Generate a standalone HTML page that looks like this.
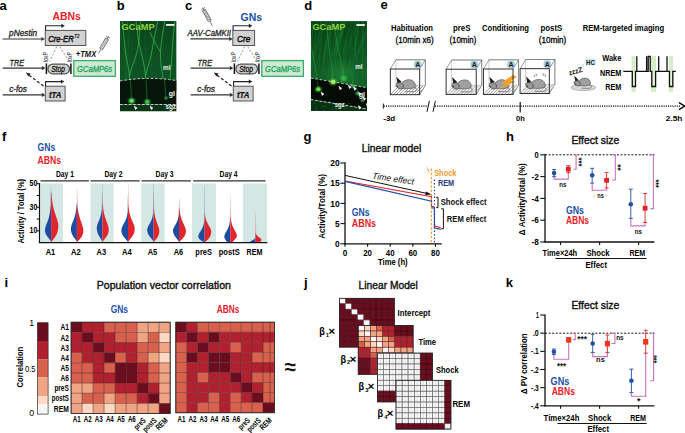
<!DOCTYPE html>
<html><head><meta charset="utf-8"><style>
html,body{margin:0;padding:0;background:#fff;width:685px;height:433px;overflow:hidden}
svg{display:block}
text{font-family:"Liberation Sans", sans-serif}
</style></head><body>
<svg width="685" height="433" viewBox="0 0 685 433">
<rect width="685" height="433" fill="#fff"/>
<text x="-0.60" y="9.70" font-size="13" font-weight="bold" fill="#000">a</text>
<text x="116.80" y="9.70" font-size="13" font-weight="bold" fill="#000">b</text>
<text x="185.00" y="9.70" font-size="13" font-weight="bold" fill="#000">c</text>
<text x="304.20" y="9.70" font-size="13" font-weight="bold" fill="#000">d</text>
<text x="380.40" y="9.00" font-size="13" font-weight="bold" fill="#000">e</text>
<text x="2.00" y="140.80" font-size="13" font-weight="bold" fill="#000">f</text>
<text x="303.60" y="140.60" font-size="13" font-weight="bold" fill="#000">g</text>
<text x="506.00" y="140.60" font-size="13" font-weight="bold" fill="#000">h</text>
<text x="4.60" y="286.80" font-size="13" font-weight="bold" fill="#000">i</text>
<text x="304.00" y="286.60" font-size="13" font-weight="bold" fill="#000">j</text>
<text x="505.80" y="287.00" font-size="13" font-weight="bold" fill="#000">k</text>
<rect x="45.30" y="30.40" width="40.50" height="15.10" fill="#d2d2d2" stroke="#555" stroke-width="1"/>
<path d="M45.599999999999994,30.4 V25.8 H61.8" fill="none" stroke="#222" stroke-width="1.1"/>
<path d="M61.3,23.7 L64.8,25.8 L61.3,27.900000000000002 Z" fill="#222" stroke="none" stroke-width="1"/>
<line x1="2.60" y1="68.10" x2="42.40" y2="68.10" stroke="#333" stroke-width="1.1"/>
<path d="M41.9,66.0 L45.4,68.1 L41.9,70.19999999999999 Z" fill="#333" stroke="none" stroke-width="1"/>
<line x1="46.40" y1="63.40" x2="46.40" y2="74.00" stroke="#111" stroke-width="1.5"/>
<line x1="70.90" y1="63.40" x2="70.90" y2="74.00" stroke="#111" stroke-width="1.5"/>
<rect x="47.90" y="64.10" width="21.60" height="9.70" fill="#d0d0d0" stroke="#555" stroke-width="1.3" rx="4.8"/>
<text x="58.00" y="71.60" font-size="8.4" font-weight="normal" font-style="italic" fill="#111" text-anchor="middle" textLength="13.70" lengthAdjust="spacingAndGlyphs" stroke="#111" stroke-width="0.3">Stop</text>
<rect x="73.80" y="60.60" width="41.60" height="15.70" fill="#cce9d4" stroke="#3aae66" stroke-width="1.3"/>
<text x="77.10" y="72.20" font-size="9.3" font-weight="normal" font-style="italic" fill="#26a456" textLength="35.00" lengthAdjust="spacingAndGlyphs" stroke="#26a456" stroke-width="0.35">GCaMP6s</text>
<line x1="2.60" y1="94.90" x2="42.40" y2="94.90" stroke="#333" stroke-width="1.1"/>
<path d="M41.9,92.80000000000001 L45.4,94.9 L41.9,97.0 Z" fill="#333" stroke="none" stroke-width="1"/>
<rect x="45.30" y="86.20" width="19.80" height="14.80" fill="#d2d2d2" stroke="#555" stroke-width="1"/>
<path d="M45.6,86.2 V81.6 H61.3" fill="none" stroke="#222" stroke-width="1.1"/>
<path d="M60.8,79.5 L64.3,81.6 L60.8,83.69999999999999 Z" fill="#222" stroke="none" stroke-width="1"/>
<text x="55.20" y="97.60" font-size="8.4" font-weight="bold" font-style="italic" fill="#111" text-anchor="middle" textLength="12.50" lengthAdjust="spacingAndGlyphs" stroke="#111" stroke-width="0.2">tTA</text>
<line x1="43.50" y1="86.00" x2="29.00" y2="75.20" stroke="#222" stroke-width="1.3" stroke-dasharray="3 2"/>
<path d="M25.8,72.6 L30.6,73.4 L28.4,76.5 Z" fill="#222" stroke="none" stroke-width="1"/>
<text x="9.60" y="66.30" font-size="8.8" font-weight="normal" font-style="italic" fill="#222" textLength="14.60" lengthAdjust="spacingAndGlyphs" stroke="#222" stroke-width="0.3">TRE</text>
<text x="9.20" y="92.30" font-size="8.8" font-weight="normal" font-style="italic" fill="#222" textLength="17.80" lengthAdjust="spacingAndGlyphs" stroke="#222" stroke-width="0.3">c-fos</text>
<text x="48.20" y="62.20" font-size="6.3" font-weight="normal" font-style="italic" fill="#222" textLength="10.20" lengthAdjust="spacingAndGlyphs" transform="rotate(-90 48.20 62.20)">loxP</text>
<text x="71.80" y="62.20" font-size="6.3" font-weight="normal" font-style="italic" fill="#222" textLength="10.20" lengthAdjust="spacingAndGlyphs" transform="rotate(-90 71.80 62.20)">loxP</text>
<line x1="56.70" y1="46.50" x2="49.60" y2="61.50" stroke="#aaa" stroke-width="1.1" stroke-dasharray="2.2 1.6"/>
<line x1="59.70" y1="46.50" x2="68.90" y2="61.50" stroke="#aaa" stroke-width="1.1" stroke-dasharray="2.2 1.6"/>
<text x="52.40" y="19.50" font-size="10.2" font-weight="bold" fill="#e3222a" textLength="28.40" lengthAdjust="spacingAndGlyphs">ABNs</text>
<line x1="2.60" y1="39.00" x2="41.80" y2="39.00" stroke="#333" stroke-width="1.1"/>
<path d="M41.3,36.9 L44.8,39.0 L41.3,41.1 Z" fill="#333" stroke="none" stroke-width="1"/>
<text x="9.00" y="35.80" font-size="8.8" font-weight="normal" font-style="italic" fill="#222" textLength="28.20" lengthAdjust="spacingAndGlyphs" stroke="#222" stroke-width="0.3">pNestin</text>
<text x="48.2" y="41.6" font-size="9.2" font-weight="normal" font-style="italic" fill="#111" stroke="#111" stroke-width="0.45" textLength="25.6" lengthAdjust="spacingAndGlyphs">Cre-ER</text>
<text x="74.20" y="37.60" font-size="6.0" font-weight="bold" font-style="italic" fill="#111" textLength="5.20" lengthAdjust="spacingAndGlyphs">T2</text>
<text x="75.80" y="57.10" font-size="8.6" font-weight="bold" font-style="italic" fill="#111" textLength="20.40" lengthAdjust="spacingAndGlyphs">+TMX</text>
<line x1="98.30" y1="53.60" x2="108.60" y2="36.40" stroke="#555" stroke-width="0.8"/>
<path d="M102.54,49.83 L108.62,39.68 L105.70,37.93 L99.62,48.08 Z" fill="#e4e4e4" stroke="#444" stroke-width="0.6"/>
<line x1="102.97" y1="49.10" x2="100.67" y2="46.33" stroke="#555" stroke-width="0.5"/>
<line x1="103.84" y1="47.65" x2="101.54" y2="44.88" stroke="#555" stroke-width="0.5"/>
<line x1="104.71" y1="46.21" x2="102.41" y2="43.43" stroke="#555" stroke-width="0.5"/>
<line x1="105.58" y1="44.76" x2="103.28" y2="41.98" stroke="#555" stroke-width="0.5"/>
<line x1="106.45" y1="43.31" x2="104.15" y2="40.53" stroke="#555" stroke-width="0.5"/>
<line x1="107.31" y1="41.86" x2="105.01" y2="39.08" stroke="#555" stroke-width="0.5"/>
<line x1="108.18" y1="40.41" x2="105.88" y2="37.63" stroke="#555" stroke-width="0.5"/>
<line x1="109.98" y1="38.40" x2="106.19" y2="36.12" stroke="#555" stroke-width="0.7"/>
<rect x="232.80" y="30.40" width="21.80" height="15.10" fill="#d2d2d2" stroke="#555" stroke-width="1"/>
<path d="M233.10000000000002,30.4 V25.8 H249.3" fill="none" stroke="#222" stroke-width="1.1"/>
<path d="M248.8,23.7 L252.3,25.8 L248.8,27.900000000000002 Z" fill="#222" stroke="none" stroke-width="1"/>
<line x1="190.60" y1="68.10" x2="230.40" y2="68.10" stroke="#333" stroke-width="1.1"/>
<path d="M229.9,66.0 L233.4,68.1 L229.9,70.19999999999999 Z" fill="#333" stroke="none" stroke-width="1"/>
<line x1="234.40" y1="63.40" x2="234.40" y2="74.00" stroke="#111" stroke-width="1.5"/>
<line x1="258.90" y1="63.40" x2="258.90" y2="74.00" stroke="#111" stroke-width="1.5"/>
<rect x="235.90" y="64.10" width="21.60" height="9.70" fill="#d0d0d0" stroke="#555" stroke-width="1.3" rx="4.8"/>
<text x="246.00" y="71.60" font-size="8.4" font-weight="normal" font-style="italic" fill="#111" text-anchor="middle" textLength="13.70" lengthAdjust="spacingAndGlyphs" stroke="#111" stroke-width="0.3">Stop</text>
<rect x="261.80" y="60.60" width="41.60" height="15.70" fill="#cce9d4" stroke="#3aae66" stroke-width="1.3"/>
<text x="265.10" y="72.20" font-size="9.3" font-weight="normal" font-style="italic" fill="#26a456" textLength="35.00" lengthAdjust="spacingAndGlyphs" stroke="#26a456" stroke-width="0.35">GCaMP6s</text>
<line x1="190.60" y1="94.90" x2="230.40" y2="94.90" stroke="#333" stroke-width="1.1"/>
<path d="M229.9,92.80000000000001 L233.4,94.9 L229.9,97.0 Z" fill="#333" stroke="none" stroke-width="1"/>
<rect x="233.30" y="86.20" width="19.80" height="14.80" fill="#d2d2d2" stroke="#555" stroke-width="1"/>
<path d="M233.6,86.2 V81.6 H249.3" fill="none" stroke="#222" stroke-width="1.1"/>
<path d="M248.8,79.5 L252.3,81.6 L248.8,83.69999999999999 Z" fill="#222" stroke="none" stroke-width="1"/>
<text x="243.20" y="97.60" font-size="8.4" font-weight="bold" font-style="italic" fill="#111" text-anchor="middle" textLength="12.50" lengthAdjust="spacingAndGlyphs" stroke="#111" stroke-width="0.2">tTA</text>
<line x1="231.50" y1="86.00" x2="217.00" y2="75.20" stroke="#222" stroke-width="1.3" stroke-dasharray="3 2"/>
<path d="M213.8,72.6 L218.6,73.4 L216.4,76.5 Z" fill="#222" stroke="none" stroke-width="1"/>
<text x="197.60" y="66.30" font-size="8.8" font-weight="normal" font-style="italic" fill="#222" textLength="14.60" lengthAdjust="spacingAndGlyphs" stroke="#222" stroke-width="0.3">TRE</text>
<text x="197.20" y="92.30" font-size="8.8" font-weight="normal" font-style="italic" fill="#222" textLength="17.80" lengthAdjust="spacingAndGlyphs" stroke="#222" stroke-width="0.3">c-fos</text>
<text x="236.20" y="62.20" font-size="6.3" font-weight="normal" font-style="italic" fill="#222" textLength="10.20" lengthAdjust="spacingAndGlyphs" transform="rotate(-90 236.20 62.20)">loxP</text>
<text x="259.80" y="62.20" font-size="6.3" font-weight="normal" font-style="italic" fill="#222" textLength="10.20" lengthAdjust="spacingAndGlyphs" transform="rotate(-90 259.80 62.20)">loxP</text>
<line x1="244.70" y1="46.50" x2="237.60" y2="61.50" stroke="#aaa" stroke-width="1.1" stroke-dasharray="2.2 1.6"/>
<line x1="247.70" y1="46.50" x2="256.90" y2="61.50" stroke="#aaa" stroke-width="1.1" stroke-dasharray="2.2 1.6"/>
<text x="240.60" y="20.70" font-size="10.2" font-weight="bold" fill="#2150a4" textLength="21.60" lengthAdjust="spacingAndGlyphs">GNs</text>
<line x1="190.40" y1="38.90" x2="229.60" y2="38.90" stroke="#333" stroke-width="1.1"/>
<path d="M229.1,36.8 L232.6,38.9 L229.1,41.0 Z" fill="#333" stroke="none" stroke-width="1"/>
<text x="187.60" y="35.60" font-size="8.8" font-weight="normal" font-style="italic" fill="#222" textLength="43.40" lengthAdjust="spacingAndGlyphs" stroke="#222" stroke-width="0.3">AAV-CaMKII</text>
<text x="243.70" y="41.60" font-size="9.2" font-weight="normal" font-style="italic" fill="#111" text-anchor="middle" textLength="13.50" lengthAdjust="spacingAndGlyphs" stroke="#111" stroke-width="0.45">Cre</text>
<line x1="212.40" y1="25.80" x2="202.60" y2="7.60" stroke="#555" stroke-width="0.8"/>
<path d="M211.25,20.08 L205.47,9.34 L202.48,10.95 L208.26,21.69 Z" fill="#e4e4e4" stroke="#444" stroke-width="0.6"/>
<line x1="210.84" y1="19.31" x2="207.28" y2="19.87" stroke="#555" stroke-width="0.5"/>
<line x1="210.01" y1="17.78" x2="206.45" y2="18.33" stroke="#555" stroke-width="0.5"/>
<line x1="209.19" y1="16.25" x2="205.62" y2="16.80" stroke="#555" stroke-width="0.5"/>
<line x1="208.36" y1="14.71" x2="204.80" y2="15.27" stroke="#555" stroke-width="0.5"/>
<line x1="207.53" y1="13.18" x2="203.97" y2="13.73" stroke="#555" stroke-width="0.5"/>
<line x1="206.71" y1="11.64" x2="203.15" y2="12.20" stroke="#555" stroke-width="0.5"/>
<line x1="205.88" y1="10.11" x2="202.32" y2="10.66" stroke="#555" stroke-width="0.5"/>
<line x1="205.04" y1="7.46" x2="201.14" y2="9.56" stroke="#555" stroke-width="0.7"/>
<linearGradient id="grad11" x1="0" y1="0" x2="0" y2="1"><stop offset="0" stop-color="#0b441b"/><stop offset="0.5" stop-color="#0e5022"/><stop offset="1" stop-color="#105626"/></linearGradient>
<clipPath id="clip11"><rect x="120.0" y="21.0" width="56.599999999999994" height="90.5"/></clipPath>
<g clip-path="url(#clip11)">
<rect x="120.00" y="21.00" width="56.60" height="70.00" fill="url(#grad11)" stroke="none" stroke-width="1"/>
<path d="M145.1,19.0 C144.8,39.0 146.2,63.9 146.1,83.9" fill="none" stroke="#2aa045" stroke-width="0.5" opacity="0.24"/>
<path d="M127.3,19.0 C130.2,39.0 123.4,59.4 127.5,79.4" fill="none" stroke="#2aa045" stroke-width="0.5" opacity="0.20"/>
<path d="M121.0,19.0 C116.5,39.0 130.8,60.4 126.0,80.4" fill="none" stroke="#2aa045" stroke-width="0.5" opacity="0.29"/>
<path d="M158.6,19.0 C153.7,39.0 160.7,52.4 160.4,72.4" fill="none" stroke="#2aa045" stroke-width="0.5" opacity="0.16"/>
<path d="M127.7,19.0 C127.3,39.0 122.9,50.5 123.5,70.5" fill="none" stroke="#2aa045" stroke-width="0.5" opacity="0.28"/>
<path d="M149.6,19.0 C151.2,39.0 151.4,57.5 151.8,77.5" fill="none" stroke="#2aa045" stroke-width="0.5" opacity="0.19"/>
<path d="M181.4,19.0 C183.5,39.0 187.5,62.6 189.4,82.6" fill="none" stroke="#2aa045" stroke-width="0.5" opacity="0.18"/>
<path d="M134.3,19.0 C133.3,39.0 130.8,61.5 127.4,81.5" fill="none" stroke="#2aa045" stroke-width="0.5" opacity="0.21"/>
<path d="M178.8,19.0 C175.9,39.0 188.5,50.0 184.4,70.0" fill="none" stroke="#2aa045" stroke-width="0.5" opacity="0.22"/>
<path d="M180.3,19.0 C181.6,39.0 181.4,51.1 178.7,71.1" fill="none" stroke="#2aa045" stroke-width="0.5" opacity="0.19"/>
<path d="M120.8,19.0 C123.4,39.0 114.3,64.5 118.1,84.5" fill="none" stroke="#2aa045" stroke-width="0.5" opacity="0.19"/>
<path d="M121.7,19.0 C118.5,39.0 115.3,62.0 114.7,82.0" fill="none" stroke="#2aa045" stroke-width="0.5" opacity="0.22"/>
<path d="M127.7,19.0 C129.1,39.0 127.6,52.0 131.4,72.0" fill="none" stroke="#2aa045" stroke-width="0.5" opacity="0.21"/>
<path d="M129.2,19.0 C132.2,39.0 123.5,64.6 125.5,84.6" fill="none" stroke="#2aa045" stroke-width="0.5" opacity="0.28"/>
<path d="M131.6,100.8 C131.2,92 130.5,84 129.5,76 C128.5,66 126,58 125,48 C124,38 123,30 122.5,20" fill="none" stroke="#3ec85c" stroke-width="0.8" opacity="0.8"/>
<path d="M129.5,76 C131,68 135,60 137,52 C139,44 139.5,32 140.5,20" fill="none" stroke="#3ec85c" stroke-width="0.8" opacity="0.8"/>
<path d="M147.3,101.9 C146.8,92 146.2,84 145.5,76 C145,68 143,60 141,52 C139,44 137,32 136,20" fill="none" stroke="#3ec85c" stroke-width="0.8" opacity="0.8"/>
<path d="M145.5,76 C148,66 151,58 152.5,48 C154,38 156,30 158,20" fill="none" stroke="#3ec85c" stroke-width="0.8" opacity="0.8"/>
<path d="M166,98 C165,90 164,84 163,78 C162,70 160,62 160.5,52 C161,42 163,32 165,20" fill="none" stroke="#3ec85c" stroke-width="0.8" opacity="0.8"/>
<path d="M170,78 C171,68 172,56 172.5,46 C173,36 174,28 175,20" fill="none" stroke="#3ec85c" stroke-width="0.8" opacity="0.8"/>
<path d="M160.5,52 C157,46 153,40 150,32" fill="none" stroke="#3ec85c" stroke-width="0.8" opacity="0.8"/>
<path d="M120.0,81.0 Q148.3,76.0 176.6,80.6 L176.6,104.5 L120.0,104.5 Z" fill="#06160a" stroke="none" stroke-width="1"/>
<path d="M120.0,104.5 L176.6,104.5 L176.6,111.5 L120.0,111.5 Z" fill="#0c3516" stroke="none" stroke-width="1"/>
<path d="M131.6,100.8 L130.5,80" fill="none" stroke="#2a9a44" stroke-width="0.7" opacity="0.7"/>
<path d="M147.3,101.9 L146,80" fill="none" stroke="#2a9a44" stroke-width="0.7" opacity="0.7"/>
<path d="M166,98 L164.5,80" fill="none" stroke="#2a9a44" stroke-width="0.7" opacity="0.7"/>
<ellipse cx="131.6" cy="100.8" rx="4.08" ry="3.5999999999999996" fill="#5fe060" opacity="0.3"/>
<ellipse cx="131.6" cy="100.8" rx="2.4" ry="2.16" fill="#5fe060"/>
<ellipse cx="147.3" cy="101.9" rx="3.9099999999999997" ry="3.4499999999999997" fill="#3cc04a" opacity="0.3"/>
<ellipse cx="147.3" cy="101.9" rx="2.3" ry="2.07" fill="#3cc04a"/>
<ellipse cx="166.0" cy="98.0" rx="2.55" ry="2.25" fill="#2a8a3a" opacity="0.3"/>
<ellipse cx="166.0" cy="98.0" rx="1.5" ry="1.35" fill="#2a8a3a"/>
<path d="M120.0,81.0 Q148.3,76.0 176.6,80.6" fill="none" stroke="#dcdcdc" stroke-width="1.0" stroke-dasharray="2.6 1.8" opacity="0.85"/>
<line x1="120.00" y1="104.50" x2="176.60" y2="104.50" stroke="#dcdcdc" stroke-width="1.0" stroke-dasharray="2.6 1.8" opacity="0.85"/>
<path d="M135.2,110.0 l-1.3,-4.6 l3.6,2.6 Z" fill="#f4f4f4" stroke="none" stroke-width="1"/>
<path d="M151.0,110.0 l-1.3,-4.6 l3.6,2.6 Z" fill="#f4f4f4" stroke="none" stroke-width="1"/>
</g>
<text x="121.60" y="29.90" font-size="9.4" font-weight="bold" fill="#94d040" textLength="33.00" lengthAdjust="spacingAndGlyphs">GCaMP</text>
<rect x="166.00" y="24.00" width="8.40" height="1.80" fill="#f4f4f4" stroke="none" stroke-width="1"/>
<text x="163.00" y="69.60" font-size="7.5" font-weight="bold" fill="#f2f2f2" textLength="7.40" lengthAdjust="spacingAndGlyphs">ml</text>
<text x="168.70" y="95.60" font-size="7.5" font-weight="bold" fill="#f2f2f2" textLength="6.20" lengthAdjust="spacingAndGlyphs">gl</text>
<text x="165.50" y="108.60" font-size="7.5" font-weight="bold" fill="#f2f2f2" textLength="10.50" lengthAdjust="spacingAndGlyphs">sgz</text>
<linearGradient id="grad12" x1="0" y1="0" x2="0" y2="1"><stop offset="0" stop-color="#083c17"/><stop offset="0.3" stop-color="#0c4a1d"/><stop offset="0.7" stop-color="#0f5824"/><stop offset="1" stop-color="#126428"/></linearGradient>
<clipPath id="clip12"><rect x="310.8" y="21.1" width="56.19999999999999" height="89.9"/></clipPath>
<g clip-path="url(#clip12)">
<rect x="310.80" y="21.10" width="56.20" height="70.00" fill="url(#grad12)" stroke="none" stroke-width="1"/>
<radialGradient id="rg12"><stop offset="0" stop-color="#3ab850" stop-opacity="0.35"/><stop offset="1" stop-color="#3ab850" stop-opacity="0"/></radialGradient>
<ellipse cx="342.8" cy="73.1" rx="22" ry="16" fill="url(#rg12)"/>
<path d="M340.5,19.1 C338.4,38.5 328.3,58.0 331.2,78.0" fill="none" stroke="#28a045" stroke-width="0.5930226254694493" opacity="0.19"/>
<path d="M339.5,19.1 C336.5,41.3 337.0,63.6 336.3,86.5" fill="none" stroke="#28a045" stroke-width="0.5019040537759057" opacity="0.17"/>
<path d="M321.2,19.1 C321.3,37.4 320.3,55.8 318.4,74.7" fill="none" stroke="#3bbf58" stroke-width="0.6527210103437685" opacity="0.17"/>
<path d="M307.2,19.1 C307.2,30.5 291.9,41.9 294.4,53.6" fill="none" stroke="#28a045" stroke-width="0.43375829084410794" opacity="0.27"/>
<path d="M336.8,19.1 C337.5,31.5 330.4,43.9 332.4,56.6" fill="none" stroke="#3bbf58" stroke-width="0.5665451038730459" opacity="0.26"/>
<path d="M342.9,19.1 C343.9,30.8 334.2,42.5 334.4,54.5" fill="none" stroke="#3bbf58" stroke-width="0.40914831453724493" opacity="0.17"/>
<path d="M359.0,19.1 C359.9,42.7 344.4,66.3 345.3,90.7" fill="none" stroke="#28a045" stroke-width="0.5156782560209322" opacity="0.26"/>
<path d="M328.5,19.1 C327.7,33.1 324.2,47.0 323.8,61.4" fill="none" stroke="#3bbf58" stroke-width="0.5142745848504475" opacity="0.13"/>
<path d="M368.7,19.1 C369.7,30.1 365.6,41.1 368.3,52.4" fill="none" stroke="#2fae4c" stroke-width="0.4307839537113064" opacity="0.24"/>
<path d="M346.1,19.1 C343.3,32.1 335.0,45.0 336.3,58.4" fill="none" stroke="#28a045" stroke-width="0.6177629062206867" opacity="0.21"/>
<path d="M343.4,19.1 C343.2,34.6 339.9,50.2 338.7,66.2" fill="none" stroke="#28a045" stroke-width="0.6965585272779233" opacity="0.14"/>
<path d="M339.8,19.1 C341.4,37.1 335.6,55.0 337.3,73.5" fill="none" stroke="#3bbf58" stroke-width="0.48047621454772244" opacity="0.10"/>
<path d="M362.2,19.1 C359.3,34.3 356.1,49.4 358.8,65.1" fill="none" stroke="#3bbf58" stroke-width="0.5082856506075601" opacity="0.12"/>
<path d="M345.8,19.1 C348.1,31.7 333.8,44.4 332.8,57.4" fill="none" stroke="#28a045" stroke-width="0.46885426741281516" opacity="0.22"/>
<path d="M344.4,19.1 C343.0,36.1 338.3,53.1 335.6,70.6" fill="none" stroke="#3bbf58" stroke-width="0.4873964137216297" opacity="0.13"/>
<path d="M369.7,19.1 C369.8,33.4 357.7,47.7 356.5,62.5" fill="none" stroke="#3bbf58" stroke-width="0.620202279727952" opacity="0.24"/>
<path d="M343.9,19.1 C341.1,30.0 344.2,41.0 343.9,52.3" fill="none" stroke="#28a045" stroke-width="0.4723693278437893" opacity="0.18"/>
<path d="M337.7,19.1 C338.4,42.9 332.3,66.7 329.8,91.2" fill="none" stroke="#28a045" stroke-width="0.5252967419427086" opacity="0.24"/>
<path d="M348.9,19.1 C349.4,41.8 336.9,64.5 337.8,87.9" fill="none" stroke="#28a045" stroke-width="0.5155118157639963" opacity="0.21"/>
<path d="M317.6,19.1 C314.8,39.0 312.6,58.8 315.4,79.3" fill="none" stroke="#2fae4c" stroke-width="0.5604801443222962" opacity="0.26"/>
<path d="M363.6,19.1 C362.7,34.8 361.1,50.5 362.2,66.6" fill="none" stroke="#3bbf58" stroke-width="0.5475169061618486" opacity="0.22"/>
<path d="M350.5,19.1 C351.6,32.5 342.6,45.9 342.1,59.8" fill="none" stroke="#2fae4c" stroke-width="0.4970779532544807" opacity="0.17"/>
<path d="M356.0,19.1 C354.8,31.6 355.9,44.0 354.7,56.9" fill="none" stroke="#3bbf58" stroke-width="0.6804119894713678" opacity="0.22"/>
<path d="M332.6,19.1 C332.2,30.1 323.8,41.0 325.7,52.3" fill="none" stroke="#3bbf58" stroke-width="0.5370865901671602" opacity="0.21"/>
<path d="M370.5,19.1 C373.3,31.0 366.6,42.8 367.4,55.1" fill="none" stroke="#2fae4c" stroke-width="0.48881615077043994" opacity="0.22"/>
<path d="M343.6,19.1 C342.6,31.6 331.0,44.2 331.0,57.1" fill="none" stroke="#28a045" stroke-width="0.652863197861658" opacity="0.21"/>
<path d="M324.1,19.1 C326.1,35.9 310.5,52.6 312.1,69.9" fill="none" stroke="#3bbf58" stroke-width="0.6375616417719949" opacity="0.23"/>
<path d="M344.0,19.1 C341.6,35.6 343.7,52.1 343.2,69.1" fill="none" stroke="#28a045" stroke-width="0.6196765907488978" opacity="0.16"/>
<path d="M329.4,19.1 C328.2,36.4 322.2,53.7 324.3,71.5" fill="none" stroke="#2fae4c" stroke-width="0.44034825619723694" opacity="0.24"/>
<path d="M342.0,19.1 C341.5,35.5 337.7,51.8 336.9,68.6" fill="none" stroke="#28a045" stroke-width="0.6619293573262319" opacity="0.17"/>
<path d="M371.5,19.1 C372.3,34.0 371.8,48.9 369.7,64.2" fill="none" stroke="#3bbf58" stroke-width="0.5135257111767455" opacity="0.24"/>
<path d="M336.8,19.1 C338.4,38.5 332.0,58.0 332.1,78.0" fill="none" stroke="#28a045" stroke-width="0.45481156297734393" opacity="0.25"/>
<path d="M363.5,19.1 C362.1,40.9 364.3,62.8 362.0,85.3" fill="none" stroke="#3bbf58" stroke-width="0.6463446253137803" opacity="0.26"/>
<path d="M332.1,19.1 C329.9,39.6 330.0,60.1 327.8,81.1" fill="none" stroke="#2fae4c" stroke-width="0.6578628585292211" opacity="0.23"/>
<path d="M346.5,19.1 C344.6,30.2 333.3,41.4 335.1,52.8" fill="none" stroke="#28a045" stroke-width="0.6944597993434829" opacity="0.27"/>
<path d="M362.4,19.1 C364.9,37.0 361.3,55.0 362.1,73.4" fill="none" stroke="#28a045" stroke-width="0.5345357017922395" opacity="0.20"/>
<path d="M344.4,19.1 C344.4,38.5 334.0,57.8 333.2,77.7" fill="none" stroke="#28a045" stroke-width="0.6521111727993468" opacity="0.16"/>
<path d="M368.2,19.1 C370.3,41.7 365.0,64.3 367.8,87.6" fill="none" stroke="#2fae4c" stroke-width="0.6566526041174773" opacity="0.19"/>
<path d="M356.3,19.1 C355.9,42.6 346.2,66.0 346.8,90.2" fill="none" stroke="#3bbf58" stroke-width="0.4215395305433487" opacity="0.17"/>
<path d="M372.9,19.1 C372.5,34.4 371.5,49.6 369.7,65.4" fill="none" stroke="#2fae4c" stroke-width="0.4092959644939917" opacity="0.27"/>
<path d="M356.1,19.1 C357.4,37.3 344.0,55.5 343.1,74.2" fill="none" stroke="#2fae4c" stroke-width="0.5761214500505137" opacity="0.21"/>
<path d="M364.6,19.1 C363.6,38.2 359.1,57.2 358.2,76.8" fill="none" stroke="#28a045" stroke-width="0.517227192417925" opacity="0.24"/>
<path d="M353.8,19.1 C355.6,34.2 354.1,49.3 353.0,64.9" fill="none" stroke="#28a045" stroke-width="0.4367370655913049" opacity="0.13"/>
<path d="M341.3,19.1 C339.5,31.5 335.2,43.9 337.5,56.7" fill="none" stroke="#28a045" stroke-width="0.6477410183966064" opacity="0.23"/>
<path d="M361.2,19.1 C363.4,34.2 358.8,49.4 355.9,65.0" fill="none" stroke="#28a045" stroke-width="0.6668271220276573" opacity="0.16"/>
<path d="M352.3,19.1 C351.4,38.0 350.0,56.9 351.4,76.4" fill="none" stroke="#3bbf58" stroke-width="0.562279196827618" opacity="0.12"/>
<path d="M375.5,19.1 C375.0,39.7 369.6,60.3 372.0,81.6" fill="none" stroke="#3bbf58" stroke-width="0.547731638341002" opacity="0.21"/>
<path d="M332.3,19.1 C331.0,31.8 322.7,44.4 323.7,57.5" fill="none" stroke="#28a045" stroke-width="0.6992685614142361" opacity="0.16"/>
<path d="M330.0,19.1 C328.0,36.4 322.9,53.8 323.5,71.7" fill="none" stroke="#2fae4c" stroke-width="0.5861603581170793" opacity="0.27"/>
<path d="M350.9,19.1 C349.9,41.2 351.9,63.4 348.9,86.2" fill="none" stroke="#3bbf58" stroke-width="0.5547211535169122" opacity="0.17"/>
<path d="M353.2,19.1 C350.8,30.7 342.3,42.2 343.8,54.1" fill="none" stroke="#28a045" stroke-width="0.602118750611355" opacity="0.28"/>
<path d="M318.4,19.1 C320.4,35.6 312.8,52.1 314.4,69.0" fill="none" stroke="#2fae4c" stroke-width="0.4366032629546154" opacity="0.15"/>
<path d="M321.3,19.1 C320.2,32.1 308.7,45.2 310.9,58.6" fill="none" stroke="#28a045" stroke-width="0.5396068879709937" opacity="0.17"/>
<path d="M332.1,19.1 C330.5,39.3 321.7,59.5 321.6,80.3" fill="none" stroke="#3bbf58" stroke-width="0.5977691717350186" opacity="0.19"/>
<path d="M358.2,19.1 C357.6,41.1 351.3,63.1 353.4,85.8" fill="none" stroke="#2fae4c" stroke-width="0.6369629747242622" opacity="0.26"/>
<path d="M334.4,19.1 C332.3,42.7 323.8,66.3 321.7,90.7" fill="none" stroke="#28a045" stroke-width="0.453782281113727" opacity="0.20"/>
<path d="M336.7,19.1 C336.5,40.9 334.9,62.7 334.7,85.1" fill="none" stroke="#2fae4c" stroke-width="0.4365496861471818" opacity="0.13"/>
<path d="M366.7,19.1 C367.3,34.8 362.4,50.5 359.8,66.6" fill="none" stroke="#2fae4c" stroke-width="0.5139813010253685" opacity="0.25"/>
<path d="M344.5,19.1 C346.4,33.1 332.8,47.1 331.1,61.6" fill="none" stroke="#2fae4c" stroke-width="0.6296003569156009" opacity="0.26"/>
<path d="M346.2,19.1 C346.4,40.3 345.0,61.6 342.5,83.5" fill="none" stroke="#2fae4c" stroke-width="0.5559368152589124" opacity="0.19"/>
<path d="M376.4,19.1 C373.7,37.3 363.3,55.6 364.5,74.3" fill="none" stroke="#28a045" stroke-width="0.6524670080843755" opacity="0.17"/>
<path d="M312.0,19.1 C311.8,37.0 301.0,55.0 299.3,73.4" fill="none" stroke="#3bbf58" stroke-width="0.4024338517644832" opacity="0.17"/>
<path d="M342.7,19.1 C341.7,35.3 338.2,51.4 340.7,68.1" fill="none" stroke="#3bbf58" stroke-width="0.697125030260462" opacity="0.21"/>
<path d="M321.9,19.1 C323.4,35.2 310.8,51.2 310.7,67.8" fill="none" stroke="#3bbf58" stroke-width="0.6607501386550816" opacity="0.22"/>
<path d="M353.4,19.1 C350.9,34.6 347.1,50.0 349.4,66.0" fill="none" stroke="#2fae4c" stroke-width="0.6423180784449993" opacity="0.12"/>
<path d="M310.5,19.1 C310.5,31.7 297.5,44.3 299.5,57.2" fill="none" stroke="#3bbf58" stroke-width="0.6580340557243753" opacity="0.25"/>
<path d="M377.4,19.1 C378.3,32.7 370.4,46.2 371.7,60.2" fill="none" stroke="#3bbf58" stroke-width="0.49785317127007145" opacity="0.18"/>
<path d="M318.1,19.1 C317.7,33.1 319.5,47.0 317.9,61.4" fill="none" stroke="#2fae4c" stroke-width="0.4062145127317691" opacity="0.13"/>
<path d="M351.4,19.1 C351.3,34.5 349.5,49.9 350.0,65.7" fill="none" stroke="#28a045" stroke-width="0.49078714818983044" opacity="0.11"/>
<path d="M369.6,19.1 C366.7,38.1 362.6,57.0 361.9,76.5" fill="none" stroke="#3bbf58" stroke-width="0.6811010319862637" opacity="0.16"/>
<path d="M310.0,19.1 C311.0,34.0 298.2,48.8 297.0,64.1" fill="none" stroke="#2fae4c" stroke-width="0.42621775260496725" opacity="0.26"/>
<path d="M376.0,19.1 C378.9,37.9 368.5,56.7 365.6,76.0" fill="none" stroke="#28a045" stroke-width="0.6337805890553394" opacity="0.28"/>
<path d="M337.8,19.1 C335.1,42.0 336.1,64.8 333.4,88.4" fill="none" stroke="#28a045" stroke-width="0.5440055800261419" opacity="0.22"/>
<path d="M320.7,19.1 C318.3,32.6 319.6,46.1 319.8,60.1" fill="none" stroke="#2fae4c" stroke-width="0.6020554786280798" opacity="0.19"/>
<path d="M340.1,19.1 C343.0,40.1 332.2,61.2 330.2,82.8" fill="none" stroke="#3bbf58" stroke-width="0.6047508936420263" opacity="0.12"/>
<path d="M344.6,19.1 C342.3,39.3 331.7,59.6 330.8,80.4" fill="none" stroke="#2fae4c" stroke-width="0.5872520969896051" opacity="0.13"/>
<path d="M329.8,19.1 C329.9,43.0 319.8,66.9 320.2,91.5" fill="none" stroke="#28a045" stroke-width="0.4506675607626078" opacity="0.26"/>
<path d="M367.7,19.1 C368.1,37.4 362.7,55.6 365.2,74.4" fill="none" stroke="#3bbf58" stroke-width="0.49729255801317335" opacity="0.13"/>
<path d="M348.8,19.1 C350.2,32.0 345.4,44.8 345.5,58.1" fill="none" stroke="#2fae4c" stroke-width="0.426554463485306" opacity="0.13"/>
<path d="M374.5,19.1 C374.8,37.9 362.7,56.7 364.8,76.0" fill="none" stroke="#28a045" stroke-width="0.6912378694406209" opacity="0.24"/>
<path d="M371.2,19.1 C371.4,36.6 363.7,54.2 362.9,72.2" fill="none" stroke="#28a045" stroke-width="0.44889656874921763" opacity="0.11"/>
<path d="M325.7,19.1 C326.7,42.5 313.0,65.8 313.4,89.9" fill="none" stroke="#2fae4c" stroke-width="0.5561319011284975" opacity="0.18"/>
<path d="M376.4,19.1 C376.7,38.2 366.7,57.2 365.6,76.9" fill="none" stroke="#3bbf58" stroke-width="0.40249032181998073" opacity="0.26"/>
<path d="M359.5,19.1 C357.8,31.6 355.0,44.0 355.4,56.9" fill="none" stroke="#3bbf58" stroke-width="0.560781015789166" opacity="0.25"/>
<path d="M312.2,19.1 C314.0,32.0 310.6,45.0 308.1,58.3" fill="none" stroke="#2fae4c" stroke-width="0.6933243102433972" opacity="0.25"/>
<path d="M306.6,19.1 C308.1,31.1 305.7,43.1 306.4,55.5" fill="none" stroke="#28a045" stroke-width="0.43566235359769223" opacity="0.23"/>
<path d="M354.0,19.1 C355.4,31.9 347.9,44.8 345.6,58.0" fill="none" stroke="#28a045" stroke-width="0.6349713140866555" opacity="0.25"/>
<path d="M333.0,19.1 C330.7,33.4 326.9,47.8 327.9,62.6" fill="none" stroke="#2fae4c" stroke-width="0.6656337721746397" opacity="0.23"/>
<path d="M324.6,19.1 C321.6,40.0 315.4,61.0 317.9,82.5" fill="none" stroke="#2fae4c" stroke-width="0.5314542366550893" opacity="0.13"/>
<path d="M342.3,19.1 C344.2,36.9 332.6,54.7 330.3,73.1" fill="none" stroke="#3bbf58" stroke-width="0.42020042931872065" opacity="0.17"/>
<path d="M371.0,19.1 C369.0,42.7 365.4,66.3 362.5,90.6" fill="none" stroke="#28a045" stroke-width="0.48940549856988175" opacity="0.16"/>
<path d="M359.1,19.1 C358.0,30.3 346.2,41.5 346.8,53.0" fill="none" stroke="#28a045" stroke-width="0.6933069545937469" opacity="0.24"/>
<path d="M373.3,19.1 C370.7,40.5 366.5,61.9 367.5,84.0" fill="none" stroke="#28a045" stroke-width="0.5386799654569279" opacity="0.10"/>
<path d="M331.8,19.1 C329.5,33.8 326.6,48.6 327.0,63.8" fill="none" stroke="#28a045" stroke-width="0.5242469202016042" opacity="0.14"/>
<path d="M320.9,19.1 C321.6,40.2 304.2,61.3 307.2,83.0" fill="none" stroke="#2fae4c" stroke-width="0.4154055669549641" opacity="0.15"/>
<path d="M364.0,19.1 C361.2,38.5 353.3,57.8 354.1,77.7" fill="none" stroke="#2fae4c" stroke-width="0.4516667819790152" opacity="0.17"/>
<path d="M337.6,19.1 C340.1,31.2 326.1,43.4 325.8,55.9" fill="none" stroke="#28a045" stroke-width="0.5881057996560339" opacity="0.13"/>
<path d="M358.5,19.1 C359.9,34.2 355.9,49.3 357.1,64.9" fill="none" stroke="#2fae4c" stroke-width="0.40846566738236967" opacity="0.27"/>
<path d="M310.0,19.1 C308.9,36.6 303.7,54.1 306.6,72.1" fill="none" stroke="#28a045" stroke-width="0.5265436879415117" opacity="0.13"/>
<path d="M336.2,19.1 C333.4,30.6 327.0,42.2 324.1,54.1" fill="none" stroke="#3bbf58" stroke-width="0.6665068627746028" opacity="0.12"/>
<path d="M340.3,19.1 C342.3,38.3 333.3,57.5 334.4,77.3" fill="none" stroke="#3bbf58" stroke-width="0.6559581043447903" opacity="0.19"/>
<path d="M348.1,19.1 C348.9,37.0 343.0,55.0 342.5,73.5" fill="none" stroke="#28a045" stroke-width="0.4989616844908083" opacity="0.24"/>
<path d="M358.5,19.1 C358.7,32.8 353.1,46.5 351.8,60.7" fill="none" stroke="#2fae4c" stroke-width="0.6475328337759256" opacity="0.14"/>
<path d="M366.4,19.1 C368.3,30.0 360.4,40.8 359.5,52.0" fill="none" stroke="#2fae4c" stroke-width="0.6090242879346965" opacity="0.28"/>
<path d="M354.3,19.1 C356.7,31.9 344.0,44.6 341.6,57.8" fill="none" stroke="#3bbf58" stroke-width="0.6046651903656391" opacity="0.19"/>
<path d="M373.5,19.1 C376.0,42.9 370.8,66.8 373.2,91.3" fill="none" stroke="#2fae4c" stroke-width="0.4769446394435817" opacity="0.24"/>
<path d="M358.2,19.1 C358.9,37.3 351.6,55.4 351.8,74.1" fill="none" stroke="#3bbf58" stroke-width="0.5872063830620351" opacity="0.11"/>
<path d="M314.7,19.1 C312.4,38.6 307.4,58.1 307.4,78.2" fill="none" stroke="#2fae4c" stroke-width="0.45874002322411367" opacity="0.13"/>
<path d="M371.4,19.1 C369.1,30.5 358.0,41.9 358.7,53.6" fill="none" stroke="#3bbf58" stroke-width="0.5839253003455653" opacity="0.27"/>
<path d="M367.6,19.1 C366.7,42.3 365.2,65.4 367.0,89.3" fill="none" stroke="#28a045" stroke-width="0.6008428452750866" opacity="0.12"/>
<path d="M318.4,89.3 C317.4,69.3 310.0,51.1 308.0,19.1" fill="none" stroke="#3cc45a" stroke-width="0.6" opacity="0.55"/>
<path d="M333.1,82.0 C332.1,62.0 328.3,51.1 326.3,19.1" fill="none" stroke="#3cc45a" stroke-width="0.6" opacity="0.55"/>
<path d="M343.6,78.6 C342.6,58.6 336.0,51.1 334.0,19.1" fill="none" stroke="#3cc45a" stroke-width="0.6" opacity="0.55"/>
<path d="M310.8,78.0 L367.0,87.7 L367.0,109.0 L310.8,99.5 Z" fill="#030c05" stroke="none" stroke-width="1"/>
<path d="M310.8,99.5 L367.0,109.0 L367.0,111.0 L310.8,111.0 Z" fill="#0a3315" stroke="none" stroke-width="1"/>
<circle cx="349.4" cy="103.5" r="0.6" fill="#2a8a3a" opacity="0.6"/>
<circle cx="324.5" cy="110.3" r="0.6" fill="#2a8a3a" opacity="0.6"/>
<circle cx="322.5" cy="106.1" r="0.6" fill="#2a8a3a" opacity="0.6"/>
<circle cx="336.4" cy="108.9" r="0.6" fill="#2a8a3a" opacity="0.6"/>
<circle cx="359.0" cy="108.8" r="0.6" fill="#2a8a3a" opacity="0.6"/>
<circle cx="346.0" cy="106.6" r="0.6" fill="#2a8a3a" opacity="0.6"/>
<circle cx="316.0" cy="107.0" r="0.6" fill="#2a8a3a" opacity="0.6"/>
<circle cx="335.1" cy="108.7" r="0.6" fill="#2a8a3a" opacity="0.6"/>
<circle cx="331.9" cy="102.7" r="0.6" fill="#2a8a3a" opacity="0.6"/>
<circle cx="332.3" cy="109.4" r="0.6" fill="#2a8a3a" opacity="0.6"/>
<circle cx="338.7" cy="107.9" r="0.6" fill="#2a8a3a" opacity="0.6"/>
<circle cx="314.0" cy="103.6" r="0.6" fill="#2a8a3a" opacity="0.6"/>
<circle cx="325.7" cy="106.1" r="0.6" fill="#2a8a3a" opacity="0.6"/>
<circle cx="317.5" cy="110.5" r="0.6" fill="#2a8a3a" opacity="0.6"/>
<circle cx="329.4" cy="101.5" r="0.6" fill="#2a8a3a" opacity="0.6"/>
<circle cx="324.3" cy="106.3" r="0.6" fill="#2a8a3a" opacity="0.6"/>
<circle cx="345.4" cy="109.2" r="0.6" fill="#2a8a3a" opacity="0.6"/>
<circle cx="315.7" cy="110.7" r="0.6" fill="#2a8a3a" opacity="0.6"/>
<circle cx="358.9" cy="106.4" r="0.6" fill="#2a8a3a" opacity="0.6"/>
<circle cx="347.2" cy="104.4" r="0.6" fill="#2a8a3a" opacity="0.6"/>
<circle cx="319.2" cy="101.6" r="0.6" fill="#2a8a3a" opacity="0.6"/>
<circle cx="364.8" cy="110.0" r="0.6" fill="#2a8a3a" opacity="0.6"/>
<circle cx="335.9" cy="107.2" r="0.6" fill="#2a8a3a" opacity="0.6"/>
<circle cx="337.6" cy="108.0" r="0.6" fill="#2a8a3a" opacity="0.6"/>
<circle cx="316.4" cy="108.7" r="0.6" fill="#2a8a3a" opacity="0.6"/>
<line x1="318.40" y1="89.30" x2="317.40" y2="81.30" stroke="#2a9a44" stroke-width="0.7" opacity="0.7"/>
<line x1="333.10" y1="82.00" x2="332.10" y2="74.00" stroke="#2a9a44" stroke-width="0.7" opacity="0.7"/>
<line x1="343.60" y1="78.60" x2="342.60" y2="70.60" stroke="#2a9a44" stroke-width="0.7" opacity="0.7"/>
<line x1="353.00" y1="86.00" x2="352.00" y2="78.00" stroke="#2a9a44" stroke-width="0.7" opacity="0.7"/>
<line x1="357.50" y1="93.50" x2="356.50" y2="85.50" stroke="#2a9a44" stroke-width="0.7" opacity="0.7"/>
<line x1="362.50" y1="100.50" x2="361.50" y2="92.50" stroke="#2a9a44" stroke-width="0.7" opacity="0.7"/>
<ellipse cx="318.4" cy="89.3" rx="3.74" ry="3.3000000000000003" fill="#60e048" opacity="0.3"/>
<ellipse cx="318.4" cy="89.3" rx="2.2" ry="1.9800000000000002" fill="#60e048"/>
<ellipse cx="333.1" cy="82.0" rx="4.25" ry="3.75" fill="#90f050" opacity="0.3"/>
<ellipse cx="333.1" cy="82.0" rx="2.5" ry="2.25" fill="#90f050"/>
<ellipse cx="343.6" cy="78.6" rx="4.42" ry="3.9000000000000004" fill="#34b048" opacity="0.3"/>
<ellipse cx="343.6" cy="78.6" rx="2.6" ry="2.3400000000000003" fill="#34b048"/>
<ellipse cx="353.0" cy="86.0" rx="3.06" ry="2.7" fill="#2f9a40" opacity="0.3"/>
<ellipse cx="353.0" cy="86.0" rx="1.8" ry="1.62" fill="#2f9a40"/>
<ellipse cx="357.5" cy="93.5" rx="2.72" ry="2.4000000000000004" fill="#2e9a3e" opacity="0.3"/>
<ellipse cx="357.5" cy="93.5" rx="1.6" ry="1.4400000000000002" fill="#2e9a3e"/>
<ellipse cx="362.5" cy="100.5" rx="2.55" ry="2.25" fill="#2a8a3a" opacity="0.3"/>
<ellipse cx="362.5" cy="100.5" rx="1.5" ry="1.35" fill="#2a8a3a"/>
<line x1="310.80" y1="78.00" x2="367.00" y2="87.70" stroke="#dcdcdc" stroke-width="1.0" stroke-dasharray="2.6 1.8" opacity="0.85"/>
<line x1="310.80" y1="99.50" x2="367.00" y2="109.00" stroke="#dcdcdc" stroke-width="1.0" stroke-dasharray="2.6 1.8" opacity="0.85"/>
<path d="M322.0,96.0 l-1.3,-4.6 l3.6,2.6 Z" fill="#f4f4f4" stroke="none" stroke-width="1"/>
<path d="M339.8,90.3 l-1.3,-4.6 l3.6,2.6 Z" fill="#f4f4f4" stroke="none" stroke-width="1"/>
<path d="M349.2,89.0 l-1.3,-4.6 l3.6,2.6 Z" fill="#f4f4f4" stroke="none" stroke-width="1"/>
<path d="M354.4,90.7 l-1.3,-4.6 l3.6,2.6 Z" fill="#f4f4f4" stroke="none" stroke-width="1"/>
<path d="M359.3,96.0 l-1.3,-4.6 l3.6,2.6 Z" fill="#f4f4f4" stroke="none" stroke-width="1"/>
<path d="M363.9,100.8 l-1.3,-4.6 l3.6,2.6 Z" fill="#f4f4f4" stroke="none" stroke-width="1"/>
<path d="M367.1,107.5 l-1.3,-4.6 l3.6,2.6 Z" fill="#f4f4f4" stroke="none" stroke-width="1"/>
<path d="M359.3,109.6 l-1.3,-4.6 l3.6,2.6 Z" fill="#f4f4f4" stroke="none" stroke-width="1"/>
</g>
<text x="312.40" y="30.00" font-size="9.4" font-weight="bold" fill="#94d040" textLength="33.00" lengthAdjust="spacingAndGlyphs">GCaMP</text>
<rect x="356.40" y="24.10" width="8.40" height="1.80" fill="#f4f4f4" stroke="none" stroke-width="1"/>
<text x="355.20" y="69.20" font-size="7.5" font-weight="bold" fill="#f2f2f2" textLength="7.30" lengthAdjust="spacingAndGlyphs">ml</text>
<text x="358.70" y="96.60" font-size="7.5" font-weight="bold" fill="#f2f2f2" textLength="6.30" lengthAdjust="spacingAndGlyphs">gl</text>
<text x="334.80" y="107.10" font-size="7.5" font-weight="bold" fill="#f2f2f2" textLength="9.90" lengthAdjust="spacingAndGlyphs">sgz</text>
<text x="391.00" y="31.00" font-size="9.0" font-weight="bold" fill="#000" textLength="42.00" lengthAdjust="spacingAndGlyphs">Habituation</text>
<text x="395.60" y="42.50" font-size="9.0" font-weight="normal" fill="#000" textLength="38.00" lengthAdjust="spacingAndGlyphs" stroke="#000" stroke-width="0.3">(10min x6)</text>
<text x="453.00" y="31.00" font-size="9.0" font-weight="bold" fill="#000" textLength="17.50" lengthAdjust="spacingAndGlyphs">preS</text>
<text x="449.40" y="42.50" font-size="9.0" font-weight="normal" fill="#000" textLength="26.90" lengthAdjust="spacingAndGlyphs" stroke="#000" stroke-width="0.3">(10min)</text>
<text x="482.00" y="31.00" font-size="9.0" font-weight="bold" fill="#000" textLength="47.00" lengthAdjust="spacingAndGlyphs">Conditioning</text>
<text x="540.50" y="31.00" font-size="9.0" font-weight="bold" fill="#000" textLength="21.70" lengthAdjust="spacingAndGlyphs">postS</text>
<text x="538.80" y="42.50" font-size="9.0" font-weight="normal" fill="#000" textLength="27.50" lengthAdjust="spacingAndGlyphs" stroke="#000" stroke-width="0.3">(10min)</text>
<text x="582.70" y="31.00" font-size="9.0" font-weight="bold" fill="#000" textLength="81.40" lengthAdjust="spacingAndGlyphs">REM-targeted imaging</text>
<clipPath id="fl390"><path d="M390.3,94.7 L419.7,94.7 L425.3,85.5 L395.90000000000003,85.5 Z"/></clipPath>
<g clip-path="url(#fl390)">
<line x1="378.30" y1="94.70" x2="387.50" y2="85.50" stroke="#444" stroke-width="0.55"/>
<line x1="381.30" y1="94.70" x2="390.50" y2="85.50" stroke="#444" stroke-width="0.55"/>
<line x1="384.30" y1="94.70" x2="393.50" y2="85.50" stroke="#444" stroke-width="0.55"/>
<line x1="387.30" y1="94.70" x2="396.50" y2="85.50" stroke="#444" stroke-width="0.55"/>
<line x1="390.30" y1="94.70" x2="399.50" y2="85.50" stroke="#444" stroke-width="0.55"/>
<line x1="393.30" y1="94.70" x2="402.50" y2="85.50" stroke="#444" stroke-width="0.55"/>
<line x1="396.30" y1="94.70" x2="405.50" y2="85.50" stroke="#444" stroke-width="0.55"/>
<line x1="399.30" y1="94.70" x2="408.50" y2="85.50" stroke="#444" stroke-width="0.55"/>
<line x1="402.30" y1="94.70" x2="411.50" y2="85.50" stroke="#444" stroke-width="0.55"/>
<line x1="405.30" y1="94.70" x2="414.50" y2="85.50" stroke="#444" stroke-width="0.55"/>
<line x1="408.30" y1="94.70" x2="417.50" y2="85.50" stroke="#444" stroke-width="0.55"/>
<line x1="411.30" y1="94.70" x2="420.50" y2="85.50" stroke="#444" stroke-width="0.55"/>
<line x1="414.30" y1="94.70" x2="423.50" y2="85.50" stroke="#444" stroke-width="0.55"/>
<line x1="417.30" y1="94.70" x2="426.50" y2="85.50" stroke="#444" stroke-width="0.55"/>
<line x1="420.30" y1="94.70" x2="429.50" y2="85.50" stroke="#444" stroke-width="0.55"/>
<line x1="423.30" y1="94.70" x2="432.50" y2="85.50" stroke="#444" stroke-width="0.55"/>
<line x1="426.30" y1="94.70" x2="435.50" y2="85.50" stroke="#444" stroke-width="0.55"/>
<line x1="429.30" y1="94.70" x2="438.50" y2="85.50" stroke="#444" stroke-width="0.55"/>
</g>
<rect x="395.90" y="59.80" width="29.40" height="25.70" fill="none" stroke="#bbb" stroke-width="0.7"/>
<circle cx="417.7" cy="64.3" r="3.9" fill="#a9cdd8"/>
<text x="417.70" y="66.90" font-size="7.0" font-weight="bold" fill="#1a1a1a" text-anchor="middle">A</text>
<path d="M413.8,87.1 c3.2,1.2 3.6,4.2 0.2,4.6 c-3.0,0.3 -6.0,-0.6 -9.0,0.1" fill="none" stroke="#555" stroke-width="0.7"/>
<path d="M399.3,88.0 C400.3,81.5 406.3,79.5 409.3,79.7 C413.8,80.0 415.8,83.5 415.3,86.5 C414.8,88.5 410.3,88.8 406.3,88.7 Z" fill="#a0a0a0" stroke="#444" stroke-width="0.6"/>
<ellipse cx="399.8" cy="85.7" rx="3.9" ry="3.0" fill="#979797" stroke="#444" stroke-width="0.6" transform="rotate(25 399.8 85.7)"/>
<path d="M397.5,83.3 L396.3,76.7 L401.7,82.1 Z" fill="#1e1e1e" stroke="none" stroke-width="1"/>
<circle cx="397.6" cy="86.5" r="0.6" fill="#222"/>
<line x1="395.90" y1="59.80" x2="425.30" y2="59.80" stroke="#555" stroke-width="0.6"/>
<line x1="425.30" y1="59.80" x2="425.30" y2="85.50" stroke="#555" stroke-width="0.6"/>
<line x1="390.30" y1="69.00" x2="395.90" y2="59.80" stroke="#555" stroke-width="0.6"/>
<line x1="419.70" y1="69.00" x2="425.30" y2="59.80" stroke="#555" stroke-width="0.6"/>
<line x1="419.70" y1="94.70" x2="425.30" y2="85.50" stroke="#555" stroke-width="0.6"/>
<rect x="390.30" y="69.00" width="29.40" height="25.70" fill="none" stroke="#1a1a1a" stroke-width="0.9"/>
<clipPath id="fl446"><path d="M446.1,94.4 L476.20000000000005,94.4 L481.80000000000007,85.2 L451.70000000000005,85.2 Z"/></clipPath>
<g clip-path="url(#fl446)">
<line x1="434.10" y1="94.40" x2="443.30" y2="85.20" stroke="#444" stroke-width="0.55"/>
<line x1="437.10" y1="94.40" x2="446.30" y2="85.20" stroke="#444" stroke-width="0.55"/>
<line x1="440.10" y1="94.40" x2="449.30" y2="85.20" stroke="#444" stroke-width="0.55"/>
<line x1="443.10" y1="94.40" x2="452.30" y2="85.20" stroke="#444" stroke-width="0.55"/>
<line x1="446.10" y1="94.40" x2="455.30" y2="85.20" stroke="#444" stroke-width="0.55"/>
<line x1="449.10" y1="94.40" x2="458.30" y2="85.20" stroke="#444" stroke-width="0.55"/>
<line x1="452.10" y1="94.40" x2="461.30" y2="85.20" stroke="#444" stroke-width="0.55"/>
<line x1="455.10" y1="94.40" x2="464.30" y2="85.20" stroke="#444" stroke-width="0.55"/>
<line x1="458.10" y1="94.40" x2="467.30" y2="85.20" stroke="#444" stroke-width="0.55"/>
<line x1="461.10" y1="94.40" x2="470.30" y2="85.20" stroke="#444" stroke-width="0.55"/>
<line x1="464.10" y1="94.40" x2="473.30" y2="85.20" stroke="#444" stroke-width="0.55"/>
<line x1="467.10" y1="94.40" x2="476.30" y2="85.20" stroke="#444" stroke-width="0.55"/>
<line x1="470.10" y1="94.40" x2="479.30" y2="85.20" stroke="#444" stroke-width="0.55"/>
<line x1="473.10" y1="94.40" x2="482.30" y2="85.20" stroke="#444" stroke-width="0.55"/>
<line x1="476.10" y1="94.40" x2="485.30" y2="85.20" stroke="#444" stroke-width="0.55"/>
<line x1="479.10" y1="94.40" x2="488.30" y2="85.20" stroke="#444" stroke-width="0.55"/>
<line x1="482.10" y1="94.40" x2="491.30" y2="85.20" stroke="#444" stroke-width="0.55"/>
<line x1="485.10" y1="94.40" x2="494.30" y2="85.20" stroke="#444" stroke-width="0.55"/>
</g>
<rect x="451.70" y="60.00" width="30.10" height="25.20" fill="none" stroke="#bbb" stroke-width="0.7"/>
<circle cx="474.2" cy="64.5" r="3.9" fill="#a9cdd8"/>
<text x="474.20" y="67.10" font-size="7.0" font-weight="bold" fill="#1a1a1a" text-anchor="middle">A</text>
<path d="M469.6,87.3 c3.2,1.2 3.6,4.2 0.2,4.6 c-3.0,0.3 -6.0,-0.6 -9.0,0.1" fill="none" stroke="#555" stroke-width="0.7"/>
<path d="M455.1,88.2 C456.1,81.7 462.1,79.7 465.1,79.9 C469.6,80.2 471.6,83.7 471.1,86.7 C470.6,88.7 466.1,89.0 462.1,88.9 Z" fill="#a0a0a0" stroke="#444" stroke-width="0.6"/>
<ellipse cx="455.6" cy="85.9" rx="3.9" ry="3.0" fill="#979797" stroke="#444" stroke-width="0.6" transform="rotate(25 455.6 85.9)"/>
<path d="M453.3,83.5 L452.1,76.9 L457.5,82.3 Z" fill="#1e1e1e" stroke="none" stroke-width="1"/>
<circle cx="453.4" cy="86.7" r="0.6" fill="#222"/>
<line x1="451.70" y1="60.00" x2="481.80" y2="60.00" stroke="#555" stroke-width="0.6"/>
<line x1="481.80" y1="60.00" x2="481.80" y2="85.20" stroke="#555" stroke-width="0.6"/>
<line x1="446.10" y1="69.20" x2="451.70" y2="60.00" stroke="#555" stroke-width="0.6"/>
<line x1="476.20" y1="69.20" x2="481.80" y2="60.00" stroke="#555" stroke-width="0.6"/>
<line x1="476.20" y1="94.40" x2="481.80" y2="85.20" stroke="#555" stroke-width="0.6"/>
<rect x="446.10" y="69.20" width="30.10" height="25.20" fill="none" stroke="#1a1a1a" stroke-width="0.9"/>
<clipPath id="fl483"><path d="M483.4,94.4 L513.0,94.4 L518.6,85.2 L489.0,85.2 Z"/></clipPath>
<g clip-path="url(#fl483)">
<line x1="471.40" y1="94.40" x2="480.60" y2="85.20" stroke="#444" stroke-width="0.55"/>
<line x1="474.40" y1="94.40" x2="483.60" y2="85.20" stroke="#444" stroke-width="0.55"/>
<line x1="477.40" y1="94.40" x2="486.60" y2="85.20" stroke="#444" stroke-width="0.55"/>
<line x1="480.40" y1="94.40" x2="489.60" y2="85.20" stroke="#444" stroke-width="0.55"/>
<line x1="483.40" y1="94.40" x2="492.60" y2="85.20" stroke="#444" stroke-width="0.55"/>
<line x1="486.40" y1="94.40" x2="495.60" y2="85.20" stroke="#444" stroke-width="0.55"/>
<line x1="489.40" y1="94.40" x2="498.60" y2="85.20" stroke="#444" stroke-width="0.55"/>
<line x1="492.40" y1="94.40" x2="501.60" y2="85.20" stroke="#444" stroke-width="0.55"/>
<line x1="495.40" y1="94.40" x2="504.60" y2="85.20" stroke="#444" stroke-width="0.55"/>
<line x1="498.40" y1="94.40" x2="507.60" y2="85.20" stroke="#444" stroke-width="0.55"/>
<line x1="501.40" y1="94.40" x2="510.60" y2="85.20" stroke="#444" stroke-width="0.55"/>
<line x1="504.40" y1="94.40" x2="513.60" y2="85.20" stroke="#444" stroke-width="0.55"/>
<line x1="507.40" y1="94.40" x2="516.60" y2="85.20" stroke="#444" stroke-width="0.55"/>
<line x1="510.40" y1="94.40" x2="519.60" y2="85.20" stroke="#444" stroke-width="0.55"/>
<line x1="513.40" y1="94.40" x2="522.60" y2="85.20" stroke="#444" stroke-width="0.55"/>
<line x1="516.40" y1="94.40" x2="525.60" y2="85.20" stroke="#444" stroke-width="0.55"/>
<line x1="519.40" y1="94.40" x2="528.60" y2="85.20" stroke="#444" stroke-width="0.55"/>
<line x1="522.40" y1="94.40" x2="531.60" y2="85.20" stroke="#444" stroke-width="0.55"/>
</g>
<rect x="489.00" y="59.80" width="29.60" height="25.40" fill="none" stroke="#bbb" stroke-width="0.7"/>
<circle cx="511.0" cy="64.3" r="3.9" fill="#a9cdd8"/>
<text x="511.00" y="66.90" font-size="7.0" font-weight="bold" fill="#1a1a1a" text-anchor="middle">A</text>
<path d="M506.9,87.1 c3.2,1.2 3.6,4.2 0.2,4.6 c-3.0,0.3 -6.0,-0.6 -9.0,0.1" fill="none" stroke="#555" stroke-width="0.7"/>
<path d="M492.4,88.0 C493.4,81.5 499.4,79.5 502.4,79.7 C506.9,80.0 508.9,83.5 508.4,86.5 C507.9,88.5 503.4,88.8 499.4,88.7 Z" fill="#a0a0a0" stroke="#444" stroke-width="0.6"/>
<ellipse cx="492.9" cy="85.7" rx="3.9" ry="3.0" fill="#979797" stroke="#444" stroke-width="0.6" transform="rotate(25 492.9 85.7)"/>
<path d="M490.6,83.3 L489.4,76.7 L494.8,82.1 Z" fill="#1e1e1e" stroke="none" stroke-width="1"/>
<circle cx="490.7" cy="86.5" r="0.6" fill="#222"/>
<path d="M504.9,80.2 L513.1999999999999,75.0 L517.0,76.8 L511.0,80.8 L515.1999999999999,81.8 L498.4,89.4 L505.59999999999997,83.4 L501.59999999999997,82.8 Z" fill="#f2a127" stroke="none" stroke-width="1"/>
<line x1="489.00" y1="59.80" x2="518.60" y2="59.80" stroke="#555" stroke-width="0.6"/>
<line x1="518.60" y1="59.80" x2="518.60" y2="85.20" stroke="#555" stroke-width="0.6"/>
<line x1="483.40" y1="69.00" x2="489.00" y2="59.80" stroke="#555" stroke-width="0.6"/>
<line x1="513.00" y1="69.00" x2="518.60" y2="59.80" stroke="#555" stroke-width="0.6"/>
<line x1="513.00" y1="94.40" x2="518.60" y2="85.20" stroke="#555" stroke-width="0.6"/>
<rect x="483.40" y="69.00" width="29.60" height="25.40" fill="none" stroke="#1a1a1a" stroke-width="0.9"/>
<clipPath id="fl520"><path d="M520.1,93.5 L549.3000000000001,93.5 L554.9000000000001,84.3 L525.7,84.3 Z"/></clipPath>
<g clip-path="url(#fl520)">
<line x1="508.10" y1="93.50" x2="517.30" y2="84.30" stroke="#444" stroke-width="0.55"/>
<line x1="511.10" y1="93.50" x2="520.30" y2="84.30" stroke="#444" stroke-width="0.55"/>
<line x1="514.10" y1="93.50" x2="523.30" y2="84.30" stroke="#444" stroke-width="0.55"/>
<line x1="517.10" y1="93.50" x2="526.30" y2="84.30" stroke="#444" stroke-width="0.55"/>
<line x1="520.10" y1="93.50" x2="529.30" y2="84.30" stroke="#444" stroke-width="0.55"/>
<line x1="523.10" y1="93.50" x2="532.30" y2="84.30" stroke="#444" stroke-width="0.55"/>
<line x1="526.10" y1="93.50" x2="535.30" y2="84.30" stroke="#444" stroke-width="0.55"/>
<line x1="529.10" y1="93.50" x2="538.30" y2="84.30" stroke="#444" stroke-width="0.55"/>
<line x1="532.10" y1="93.50" x2="541.30" y2="84.30" stroke="#444" stroke-width="0.55"/>
<line x1="535.10" y1="93.50" x2="544.30" y2="84.30" stroke="#444" stroke-width="0.55"/>
<line x1="538.10" y1="93.50" x2="547.30" y2="84.30" stroke="#444" stroke-width="0.55"/>
<line x1="541.10" y1="93.50" x2="550.30" y2="84.30" stroke="#444" stroke-width="0.55"/>
<line x1="544.10" y1="93.50" x2="553.30" y2="84.30" stroke="#444" stroke-width="0.55"/>
<line x1="547.10" y1="93.50" x2="556.30" y2="84.30" stroke="#444" stroke-width="0.55"/>
<line x1="550.10" y1="93.50" x2="559.30" y2="84.30" stroke="#444" stroke-width="0.55"/>
<line x1="553.10" y1="93.50" x2="562.30" y2="84.30" stroke="#444" stroke-width="0.55"/>
<line x1="556.10" y1="93.50" x2="565.30" y2="84.30" stroke="#444" stroke-width="0.55"/>
<line x1="559.10" y1="93.50" x2="568.30" y2="84.30" stroke="#444" stroke-width="0.55"/>
</g>
<rect x="525.70" y="59.50" width="29.20" height="24.80" fill="none" stroke="#bbb" stroke-width="0.7"/>
<circle cx="547.3" cy="64.0" r="3.9" fill="#a9cdd8"/>
<text x="547.30" y="66.60" font-size="7.0" font-weight="bold" fill="#1a1a1a" text-anchor="middle">A</text>
<path d="M543.6,86.8 c3.2,1.2 3.6,4.2 0.2,4.6 c-3.0,0.3 -6.0,-0.6 -9.0,0.1" fill="none" stroke="#555" stroke-width="0.7"/>
<path d="M529.1,87.7 C530.1,81.2 536.1,79.2 539.1,79.4 C543.6,79.7 545.6,83.2 545.1,86.2 C544.6,88.2 540.1,88.5 536.1,88.4 Z" fill="#a0a0a0" stroke="#444" stroke-width="0.6"/>
<ellipse cx="529.6" cy="85.4" rx="3.9" ry="3.0" fill="#979797" stroke="#444" stroke-width="0.6" transform="rotate(25 529.6 85.4)"/>
<path d="M527.3,83.0 L526.1,76.4 L531.5,81.8 Z" fill="#1e1e1e" stroke="none" stroke-width="1"/>
<circle cx="527.4" cy="86.2" r="0.6" fill="#222"/>
<path d="M535.1,74.7 q-1.8,1 -0.5,2.5" fill="none" stroke="#333" stroke-width="0.6"/>
<path d="M537.1,73.7 q-1.8,1 -0.5,2.5" fill="none" stroke="#333" stroke-width="0.6"/>
<path d="M542.6,73.2 q1.8,1 0.5,2.5" fill="none" stroke="#333" stroke-width="0.6"/>
<path d="M544.6,74.2 q1.8,1 0.5,2.5" fill="none" stroke="#333" stroke-width="0.6"/>
<line x1="525.70" y1="59.50" x2="554.90" y2="59.50" stroke="#555" stroke-width="0.6"/>
<line x1="554.90" y1="59.50" x2="554.90" y2="84.30" stroke="#555" stroke-width="0.6"/>
<line x1="520.10" y1="68.70" x2="525.70" y2="59.50" stroke="#555" stroke-width="0.6"/>
<line x1="549.30" y1="68.70" x2="554.90" y2="59.50" stroke="#555" stroke-width="0.6"/>
<line x1="549.30" y1="93.50" x2="554.90" y2="84.30" stroke="#555" stroke-width="0.6"/>
<rect x="520.10" y="68.70" width="29.20" height="24.80" fill="none" stroke="#1a1a1a" stroke-width="0.9"/>
<ellipse cx="583.4" cy="87.5" rx="12.4" ry="3.0" fill="#dadada" stroke="#888" stroke-width="0.6"/>
<path d="M589.1,84.4 c2.7,1.0 3.1,3.6 0.2,3.9 c-2.5,0.3 -5.1,-0.5 -7.6,0.1" fill="none" stroke="#555" stroke-width="0.7"/>
<path d="M576.8,85.2 C577.6,79.7 582.8,78.0 585.3,78.1 C589.1,78.4 590.8,81.4 590.4,83.9 C590.0,85.6 586.1,85.9 582.8,85.8 Z" fill="#a0a0a0" stroke="#444" stroke-width="0.6"/>
<ellipse cx="577.2" cy="83.2" rx="3.3" ry="2.5" fill="#979797" stroke="#444" stroke-width="0.6" transform="rotate(25 577.2 83.2)"/>
<path d="M575.3,81.2 L574.2,75.6 L578.8,80.2 Z" fill="#1e1e1e" stroke="none" stroke-width="1"/>
<circle cx="575.4" cy="83.9" r="0.5" fill="#222"/>
<text x="569.40" y="75.40" font-size="7.2" font-weight="bold" fill="#111" textLength="14.00" lengthAdjust="spacingAndGlyphs" transform="rotate(-15 569.40 75.40)">zzzZ</text>
<rect x="585.60" y="58.80" width="10.00" height="6.80" fill="#cfe4ec" stroke="none" stroke-width="1"/>
<text x="586.10" y="64.60" font-size="7.4" font-weight="bold" fill="#16222a" textLength="8.90" lengthAdjust="spacingAndGlyphs">HC</text>
<text x="602.20" y="60.80" font-size="8.6" font-weight="bold" fill="#000" textLength="19.10" lengthAdjust="spacingAndGlyphs">Wake</text>
<text x="600.00" y="75.60" font-size="8.6" font-weight="bold" fill="#000" textLength="21.30" lengthAdjust="spacingAndGlyphs">NREM</text>
<text x="605.20" y="89.70" font-size="8.6" font-weight="bold" fill="#000" textLength="16.10" lengthAdjust="spacingAndGlyphs">REM</text>
<rect x="631.50" y="55.90" width="4.20" height="35.90" fill="#d5eec8" stroke="none" stroke-width="1"/>
<rect x="650.80" y="55.90" width="5.30" height="35.90" fill="#d5eec8" stroke="none" stroke-width="1"/>
<rect x="668.80" y="55.90" width="4.40" height="35.90" fill="#d5eec8" stroke="none" stroke-width="1"/>
<rect x="632.30" y="71.40" width="3.20" height="15.10" fill="#e6f6d6" stroke="none" stroke-width="1"/>
<rect x="651.80" y="71.40" width="3.80" height="15.10" fill="#e6f6d6" stroke="none" stroke-width="1"/>
<rect x="669.50" y="71.40" width="3.30" height="15.10" fill="#e6f6d6" stroke="none" stroke-width="1"/>
<path d="M623.3,71.4 H632.3 V86.5 H635.5 V71.4 H636.8 V56.3 V71.4 H646.6 V56.3 V71.4 H648.2 V56.3 H650.2 V71.4 H651.8 V86.5 H655.6 V71.4 H658.7 V56.3 V71.4 H667.0 V56.3 V71.4 H669.5 V86.5 H672.8 V71.4 H675.8" fill="none" stroke="#111" stroke-width="1.3"/>
<line x1="383.30" y1="103.60" x2="383.30" y2="108.60" stroke="#111" stroke-width="1.0"/>
<line x1="383.80" y1="106.10" x2="427.50" y2="106.10" stroke="#000" stroke-width="1.2" stroke-dasharray="1.1 1.1"/>
<line x1="435.00" y1="106.10" x2="519.60" y2="106.10" stroke="#000" stroke-width="1.2" stroke-dasharray="1.1 1.1"/>
<line x1="520.60" y1="106.10" x2="680.50" y2="106.10" stroke="#000" stroke-width="1.2" stroke-dasharray="1.1 1.1"/>
<line x1="427.00" y1="111.80" x2="429.40" y2="100.80" stroke="#111" stroke-width="1.0"/>
<line x1="433.00" y1="111.80" x2="435.40" y2="100.80" stroke="#111" stroke-width="1.0"/>
<line x1="520.20" y1="102.00" x2="520.20" y2="112.50" stroke="#111" stroke-width="1.2"/>
<path d="M679.0,102.6 L684.8,106.1 L679.0,109.6" fill="none" stroke="#000" stroke-width="1.4"/>
<text x="383.30" y="120.80" font-size="8.0" font-weight="bold" fill="#000" textLength="11.90" lengthAdjust="spacingAndGlyphs">-3d</text>
<text x="516.00" y="120.80" font-size="8.0" font-weight="bold" fill="#000" textLength="8.70" lengthAdjust="spacingAndGlyphs">0h</text>
<text x="665.80" y="120.80" font-size="8.0" font-weight="bold" fill="#000" textLength="16.60" lengthAdjust="spacingAndGlyphs">2.5h</text>
<text x="37.50" y="150.60" font-size="10.2" font-weight="bold" fill="#2150a4" textLength="17.70" lengthAdjust="spacingAndGlyphs">GNs</text>
<text x="37.50" y="164.40" font-size="10.2" font-weight="bold" fill="#e3222a" textLength="23.60" lengthAdjust="spacingAndGlyphs">ABNs</text>
<rect x="40.40" y="183.40" width="22.60" height="59.20" fill="#d3e7e5" stroke="none" stroke-width="1"/>
<rect x="90.50" y="183.40" width="23.10" height="59.20" fill="#d3e7e5" stroke="none" stroke-width="1"/>
<rect x="141.20" y="183.40" width="23.50" height="59.20" fill="#d3e7e5" stroke="none" stroke-width="1"/>
<rect x="192.00" y="183.40" width="24.00" height="59.20" fill="#d3e7e5" stroke="none" stroke-width="1"/>
<rect x="243.00" y="183.40" width="24.00" height="59.20" fill="#d3e7e5" stroke="none" stroke-width="1"/>
<path d="M51.10,242.60 L51.10,242.60 L51.08,242.23 L51.02,241.86 L50.91,241.50 L50.76,241.13 L50.57,240.76 L50.35,240.39 L50.10,240.02 L49.82,239.66 L49.54,239.29 L49.24,238.92 L48.94,238.55 L48.63,238.18 L48.32,237.81 L48.02,237.45 L47.73,237.08 L47.45,236.71 L47.18,236.34 L46.92,235.97 L46.68,235.61 L46.45,235.24 L46.24,234.87 L46.04,234.50 L45.87,234.13 L45.71,233.76 L45.56,233.40 L45.44,233.03 L45.33,232.66 L45.24,232.29 L45.16,231.92 L45.10,231.56 L45.05,231.19 L45.02,230.82 L45.01,230.45 L45.00,230.08 L45.01,229.72 L45.03,229.35 L45.07,228.98 L45.13,228.61 L45.19,228.24 L45.27,227.88 L45.36,227.51 L45.46,227.14 L45.57,226.77 L45.68,226.40 L45.80,226.03 L45.93,225.67 L46.06,225.30 L46.20,224.93 L46.33,224.56 L46.47,224.19 L46.62,223.83 L46.76,223.46 L46.90,223.09 L47.05,222.72 L47.19,222.35 L47.33,221.98 L47.47,221.62 L47.61,221.25 L47.74,220.88 L47.87,220.51 L48.00,220.14 L48.13,219.78 L48.25,219.41 L48.37,219.04 L48.49,218.67 L48.60,218.30 L48.71,217.94 L48.82,217.57 L48.92,217.20 L49.02,216.83 L49.11,216.46 L49.20,216.09 L49.29,215.73 L49.38,215.36 L49.46,214.99 L49.53,214.62 L49.61,214.25 L49.68,213.89 L49.75,213.52 L49.81,213.15 L49.88,212.78 L49.94,212.41 L49.99,212.05 L50.05,211.68 L50.10,211.31 L50.15,210.94 L50.20,210.57 L50.24,210.20 L50.28,209.84 L50.32,209.47 L50.36,209.10 L50.40,208.73 L50.43,208.36 L50.47,208.00 L50.50,207.63 L50.53,207.26 L50.56,206.89 L50.59,206.52 L50.61,206.16 L50.64,205.79 L51.10,204.99 Z" fill="#1e4ca3" stroke="none" stroke-width="1"/>
<path d="M51.10,205.79 L50.40,205.79 L50.85,186.06 L51.10,186.06 Z" fill="#1e4ca3" stroke="none" stroke-width="1" opacity="0.45"/>
<path d="M51.10,242.60 L51.10,242.60 L51.24,242.23 L51.45,241.86 L51.69,241.50 L51.96,241.13 L52.24,240.76 L52.53,240.39 L52.82,240.02 L53.11,239.66 L53.39,239.29 L53.68,238.92 L53.96,238.55 L54.23,238.18 L54.49,237.81 L54.75,237.45 L55.00,237.08 L55.24,236.71 L55.47,236.34 L55.69,235.97 L55.90,235.61 L56.10,235.24 L56.29,234.87 L56.47,234.50 L56.64,234.13 L56.80,233.76 L56.96,233.40 L57.10,233.03 L57.23,232.66 L57.36,232.29 L57.47,231.92 L57.58,231.56 L57.68,231.19 L57.77,230.82 L57.85,230.45 L57.92,230.08 L57.99,229.72 L58.05,229.35 L58.10,228.98 L58.15,228.61 L58.19,228.24 L58.22,227.88 L58.25,227.51 L58.27,227.14 L58.28,226.77 L58.29,226.40 L58.30,226.03 L58.30,225.67 L58.29,225.30 L58.27,224.93 L58.24,224.56 L58.20,224.19 L58.15,223.83 L58.10,223.46 L58.04,223.09 L57.97,222.72 L57.89,222.35 L57.81,221.98 L57.72,221.62 L57.63,221.25 L57.53,220.88 L57.43,220.51 L57.32,220.14 L57.21,219.78 L57.09,219.41 L56.98,219.04 L56.86,218.67 L56.73,218.30 L56.61,217.94 L56.48,217.57 L56.36,217.20 L56.23,216.83 L56.10,216.46 L55.97,216.09 L55.85,215.73 L55.72,215.36 L55.59,214.99 L55.47,214.62 L55.34,214.25 L55.22,213.89 L55.09,213.52 L54.97,213.15 L54.85,212.78 L54.73,212.41 L54.62,212.05 L54.50,211.68 L54.39,211.31 L54.28,210.94 L54.18,210.57 L54.07,210.20 L53.97,209.84 L53.87,209.47 L53.77,209.10 L53.67,208.73 L53.58,208.36 L53.49,208.00 L53.40,207.63 L53.32,207.26 L53.23,206.89 L53.15,206.52 L53.08,206.16 L53.00,205.79 L52.93,205.42 L52.86,205.05 L52.79,204.68 L52.72,204.31 L52.66,203.95 L52.59,203.58 L52.53,203.21 L52.48,202.84 L52.42,202.47 L52.37,202.11 L52.31,201.74 L52.26,201.37 L52.22,201.00 L52.17,200.63 L52.12,200.27 L52.08,199.90 L52.04,199.53 L52.00,199.16 L51.96,198.79 L51.93,198.43 L51.89,198.06 L51.86,197.69 L51.82,197.32 L51.79,196.95 L51.76,196.58 L51.73,196.22 L51.71,195.85 L51.68,195.48 L51.65,195.11 L51.63,194.74 L51.61,194.38 L51.59,194.01 L51.56,193.64 L51.10,192.84 Z" fill="#e2252b" stroke="none" stroke-width="1"/>
<path d="M51.10,193.64 L51.80,193.64 L51.35,191.95 L51.10,191.95 Z" fill="#e2252b" stroke="none" stroke-width="1" opacity="0.45"/>
<path d="M76.90,242.60 L76.90,242.60 L76.87,242.23 L76.79,241.86 L76.66,241.50 L76.49,241.13 L76.29,240.76 L76.07,240.39 L75.83,240.02 L75.58,239.66 L75.32,239.29 L75.05,238.92 L74.77,238.55 L74.50,238.18 L74.23,237.81 L73.97,237.45 L73.71,237.08 L73.46,236.71 L73.21,236.34 L72.98,235.97 L72.76,235.61 L72.55,235.24 L72.36,234.87 L72.17,234.50 L72.00,234.13 L71.85,233.76 L71.70,233.40 L71.57,233.03 L71.45,232.66 L71.34,232.29 L71.25,231.92 L71.17,231.56 L71.10,231.19 L71.04,230.82 L70.99,230.45 L70.95,230.08 L70.93,229.72 L70.91,229.35 L70.90,228.98 L70.90,228.61 L70.92,228.24 L70.95,227.88 L71.00,227.51 L71.06,227.14 L71.13,226.77 L71.21,226.40 L71.31,226.03 L71.41,225.67 L71.52,225.30 L71.64,224.93 L71.77,224.56 L71.90,224.19 L72.03,223.83 L72.17,223.46 L72.31,223.09 L72.46,222.72 L72.60,222.35 L72.75,221.98 L72.90,221.62 L73.04,221.25 L73.19,220.88 L73.33,220.51 L73.47,220.14 L73.61,219.78 L73.75,219.41 L73.88,219.04 L74.01,218.67 L74.14,218.30 L74.26,217.94 L74.39,217.57 L74.50,217.20 L74.61,216.83 L74.72,216.46 L74.83,216.09 L74.93,215.73 L75.03,215.36 L75.12,214.99 L75.21,214.62 L75.30,214.25 L75.38,213.89 L75.46,213.52 L75.53,213.15 L75.61,212.78 L75.68,212.41 L75.74,212.05 L75.80,211.68 L75.86,211.31 L75.92,210.94 L75.97,210.57 L76.02,210.20 L76.07,209.84 L76.12,209.47 L76.16,209.10 L76.20,208.73 L76.24,208.36 L76.28,208.00 L76.31,207.63 L76.35,207.26 L76.38,206.89 L76.41,206.52 L76.44,206.16 L76.90,205.36 Z" fill="#1e4ca3" stroke="none" stroke-width="1"/>
<path d="M76.90,206.16 L76.20,206.16 L76.65,202.55 L76.90,202.55 Z" fill="#1e4ca3" stroke="none" stroke-width="1" opacity="0.45"/>
<path d="M76.90,242.60 L76.90,242.60 L77.02,242.23 L77.25,241.86 L77.54,241.50 L77.86,241.13 L78.20,240.76 L78.56,240.39 L78.91,240.02 L79.27,239.66 L79.62,239.29 L79.96,238.92 L80.28,238.55 L80.60,238.18 L80.89,237.81 L81.17,237.45 L81.43,237.08 L81.67,236.71 L81.90,236.34 L82.11,235.97 L82.29,235.61 L82.46,235.24 L82.62,234.87 L82.75,234.50 L82.87,234.13 L82.97,233.76 L83.06,233.40 L83.13,233.03 L83.19,232.66 L83.24,232.29 L83.27,231.92 L83.29,231.56 L83.30,231.19 L83.30,230.82 L83.29,230.45 L83.27,230.08 L83.23,229.72 L83.19,229.35 L83.15,228.98 L83.09,228.61 L83.02,228.24 L82.95,227.88 L82.87,227.51 L82.79,227.14 L82.70,226.77 L82.60,226.40 L82.50,226.03 L82.39,225.67 L82.28,225.30 L82.16,224.93 L82.05,224.56 L81.93,224.19 L81.80,223.83 L81.68,223.46 L81.56,223.09 L81.43,222.72 L81.30,222.35 L81.17,221.98 L81.05,221.62 L80.92,221.25 L80.79,220.88 L80.67,220.51 L80.54,220.14 L80.42,219.78 L80.30,219.41 L80.18,219.04 L80.06,218.67 L79.95,218.30 L79.83,217.94 L79.72,217.57 L79.61,217.20 L79.51,216.83 L79.40,216.46 L79.30,216.09 L79.20,215.73 L79.11,215.36 L79.01,214.99 L78.92,214.62 L78.84,214.25 L78.75,213.89 L78.67,213.52 L78.59,213.15 L78.52,212.78 L78.44,212.41 L78.37,212.05 L78.30,211.68 L78.24,211.31 L78.18,210.94 L78.12,210.57 L78.06,210.20 L78.00,209.84 L77.95,209.47 L77.90,209.10 L77.85,208.73 L77.80,208.36 L77.76,208.00 L77.71,207.63 L77.67,207.26 L77.63,206.89 L77.59,206.52 L77.56,206.16 L77.53,205.79 L77.49,205.42 L77.46,205.05 L77.43,204.68 L77.40,204.31 L77.38,203.95 L77.35,203.58 L76.90,202.78 Z" fill="#e2252b" stroke="none" stroke-width="1"/>
<path d="M76.90,203.58 L77.60,203.58 L77.15,189.59 L76.90,189.59 Z" fill="#e2252b" stroke="none" stroke-width="1" opacity="0.45"/>
<path d="M102.40,242.60 L102.40,242.60 L102.38,242.23 L102.31,241.86 L102.20,241.50 L102.06,241.13 L101.90,240.76 L101.71,240.39 L101.51,240.02 L101.29,239.66 L101.06,239.29 L100.83,238.92 L100.59,238.55 L100.36,238.18 L100.12,237.81 L99.88,237.45 L99.65,237.08 L99.43,236.71 L99.21,236.34 L98.99,235.97 L98.79,235.61 L98.59,235.24 L98.41,234.87 L98.23,234.50 L98.07,234.13 L97.91,233.76 L97.77,233.40 L97.64,233.03 L97.51,232.66 L97.40,232.29 L97.30,231.92 L97.21,231.56 L97.12,231.19 L97.05,230.82 L96.99,230.45 L96.94,230.08 L96.89,229.72 L96.86,229.35 L96.83,228.98 L96.81,228.61 L96.80,228.24 L96.80,227.88 L96.81,227.51 L96.84,227.14 L96.88,226.77 L96.94,226.40 L97.01,226.03 L97.09,225.67 L97.19,225.30 L97.30,224.93 L97.41,224.56 L97.54,224.19 L97.67,223.83 L97.81,223.46 L97.95,223.09 L98.10,222.72 L98.25,222.35 L98.40,221.98 L98.55,221.62 L98.70,221.25 L98.85,220.88 L99.00,220.51 L99.15,220.14 L99.30,219.78 L99.44,219.41 L99.58,219.04 L99.72,218.67 L99.85,218.30 L99.98,217.94 L100.11,217.57 L100.23,217.20 L100.34,216.83 L100.45,216.46 L100.56,216.09 L100.66,215.73 L100.76,215.36 L100.86,214.99 L100.95,214.62 L101.03,214.25 L101.11,213.89 L101.19,213.52 L101.26,213.15 L101.33,212.78 L101.40,212.41 L101.46,212.05 L101.52,211.68 L101.57,211.31 L101.63,210.94 L101.68,210.57 L101.72,210.20 L101.77,209.84 L101.81,209.47 L101.84,209.10 L101.88,208.73 L101.92,208.36 L101.95,208.00 L102.40,207.20 Z" fill="#1e4ca3" stroke="none" stroke-width="1"/>
<path d="M102.40,208.00 L101.70,208.00 L102.15,183.70 L102.40,183.70 Z" fill="#1e4ca3" stroke="none" stroke-width="1" opacity="0.45"/>
<path d="M102.40,242.60 L102.40,242.60 L102.46,242.23 L102.60,241.86 L102.79,241.50 L103.02,241.13 L103.28,240.76 L103.56,240.39 L103.86,240.02 L104.16,239.66 L104.47,239.29 L104.77,238.92 L105.08,238.55 L105.37,238.18 L105.66,237.81 L105.94,237.45 L106.21,237.08 L106.47,236.71 L106.71,236.34 L106.94,235.97 L107.15,235.61 L107.35,235.24 L107.54,234.87 L107.71,234.50 L107.87,234.13 L108.01,233.76 L108.13,233.40 L108.25,233.03 L108.34,232.66 L108.43,232.29 L108.50,231.92 L108.56,231.56 L108.61,231.19 L108.65,230.82 L108.68,230.45 L108.69,230.08 L108.70,229.72 L108.70,229.35 L108.68,228.98 L108.65,228.61 L108.61,228.24 L108.56,227.88 L108.49,227.51 L108.42,227.14 L108.34,226.77 L108.25,226.40 L108.15,226.03 L108.05,225.67 L107.93,225.30 L107.82,224.93 L107.70,224.56 L107.57,224.19 L107.44,223.83 L107.31,223.46 L107.17,223.09 L107.04,222.72 L106.90,222.35 L106.76,221.98 L106.62,221.62 L106.49,221.25 L106.35,220.88 L106.21,220.51 L106.08,220.14 L105.94,219.78 L105.81,219.41 L105.68,219.04 L105.55,218.67 L105.43,218.30 L105.31,217.94 L105.19,217.57 L105.07,217.20 L104.96,216.83 L104.85,216.46 L104.75,216.09 L104.64,215.73 L104.54,215.36 L104.45,214.99 L104.35,214.62 L104.26,214.25 L104.18,213.89 L104.09,213.52 L104.01,213.15 L103.94,212.78 L103.86,212.41 L103.79,212.05 L103.72,211.68 L103.66,211.31 L103.59,210.94 L103.53,210.57 L103.48,210.20 L103.42,209.84 L103.37,209.47 L103.32,209.10 L103.27,208.73 L103.23,208.36 L103.19,208.00 L103.14,207.63 L103.11,207.26 L103.07,206.89 L103.03,206.52 L103.00,206.16 L102.97,205.79 L102.94,205.42 L102.91,205.05 L102.88,204.68 L102.86,204.31 L102.40,203.51 Z" fill="#e2252b" stroke="none" stroke-width="1"/>
<path d="M102.40,204.31 L103.10,204.31 L102.65,194.30 L102.40,194.30 Z" fill="#e2252b" stroke="none" stroke-width="1" opacity="0.45"/>
<path d="M128.00,242.60 L128.00,242.60 L127.96,242.23 L127.84,241.86 L127.67,241.50 L127.45,241.13 L127.18,240.76 L126.89,240.39 L126.58,240.02 L126.26,239.66 L125.92,239.29 L125.59,238.92 L125.25,238.55 L124.92,238.18 L124.59,237.81 L124.28,237.45 L123.98,237.08 L123.69,236.71 L123.42,236.34 L123.16,235.97 L122.93,235.61 L122.71,235.24 L122.50,234.87 L122.32,234.50 L122.15,234.13 L122.00,233.76 L121.87,233.40 L121.76,233.03 L121.66,232.66 L121.58,232.29 L121.52,231.92 L121.47,231.56 L121.43,231.19 L121.41,230.82 L121.40,230.45 L121.41,230.08 L121.43,229.72 L121.47,229.35 L121.53,228.98 L121.61,228.61 L121.71,228.24 L121.82,227.88 L121.94,227.51 L122.08,227.14 L122.23,226.77 L122.39,226.40 L122.56,226.03 L122.74,225.67 L122.93,225.30 L123.11,224.93 L123.31,224.56 L123.51,224.19 L123.70,223.83 L123.90,223.46 L124.10,223.09 L124.30,222.72 L124.49,222.35 L124.68,221.98 L124.87,221.62 L125.05,221.25 L125.23,220.88 L125.40,220.51 L125.57,220.14 L125.73,219.78 L125.88,219.41 L126.03,219.04 L126.16,218.67 L126.30,218.30 L126.42,217.94 L126.54,217.57 L126.66,217.20 L126.76,216.83 L126.86,216.46 L126.95,216.09 L127.04,215.73 L127.12,215.36 L127.20,214.99 L127.27,214.62 L127.33,214.25 L127.39,213.89 L127.45,213.52 L127.50,213.15 L127.55,212.78 L128.00,211.98 Z" fill="#1e4ca3" stroke="none" stroke-width="1"/>
<path d="M128.00,212.78 L127.30,212.78 L127.75,195.48 L128.00,195.48 Z" fill="#1e4ca3" stroke="none" stroke-width="1" opacity="0.45"/>
<path d="M128.00,242.60 L128.00,242.60 L128.06,242.23 L128.19,241.86 L128.37,241.50 L128.60,241.13 L128.85,240.76 L129.13,240.39 L129.42,240.02 L129.72,239.66 L130.02,239.29 L130.33,238.92 L130.63,238.55 L130.94,238.18 L131.23,237.81 L131.52,237.45 L131.80,237.08 L132.07,236.71 L132.32,236.34 L132.57,235.97 L132.80,235.61 L133.01,235.24 L133.22,234.87 L133.41,234.50 L133.58,234.13 L133.74,233.76 L133.89,233.40 L134.02,233.03 L134.14,232.66 L134.25,232.29 L134.35,231.92 L134.43,231.56 L134.50,231.19 L134.56,230.82 L134.61,230.45 L134.65,230.08 L134.67,229.72 L134.69,229.35 L134.70,228.98 L134.70,228.61 L134.68,228.24 L134.65,227.88 L134.60,227.51 L134.53,227.14 L134.46,226.77 L134.37,226.40 L134.27,226.03 L134.16,225.67 L134.04,225.30 L133.91,224.93 L133.78,224.56 L133.64,224.19 L133.49,223.83 L133.34,223.46 L133.18,223.09 L133.02,222.72 L132.86,222.35 L132.70,221.98 L132.54,221.62 L132.38,221.25 L132.22,220.88 L132.06,220.51 L131.90,220.14 L131.75,219.78 L131.60,219.41 L131.44,219.04 L131.30,218.67 L131.15,218.30 L131.01,217.94 L130.88,217.57 L130.75,217.20 L130.62,216.83 L130.49,216.46 L130.37,216.09 L130.26,215.73 L130.15,215.36 L130.04,214.99 L129.94,214.62 L129.84,214.25 L129.74,213.89 L129.65,213.52 L129.56,213.15 L129.48,212.78 L129.40,212.41 L129.33,212.05 L129.25,211.68 L129.18,211.31 L129.12,210.94 L129.06,210.57 L129.00,210.20 L128.94,209.84 L128.89,209.47 L128.84,209.10 L128.79,208.73 L128.74,208.36 L128.70,208.00 L128.66,207.63 L128.62,207.26 L128.59,206.89 L128.55,206.52 L128.52,206.16 L128.49,205.79 L128.46,205.42 L128.00,204.62 Z" fill="#e2252b" stroke="none" stroke-width="1"/>
<path d="M128.00,205.42 L128.70,205.42 L128.25,183.70 L128.00,183.70 Z" fill="#e2252b" stroke="none" stroke-width="1" opacity="0.45"/>
<path d="M153.60,242.60 L153.60,242.60 L153.58,242.23 L153.51,241.86 L153.39,241.50 L153.22,241.13 L153.02,240.76 L152.79,240.39 L152.53,240.02 L152.25,239.66 L151.96,239.29 L151.66,238.92 L151.35,238.55 L151.04,238.18 L150.74,237.81 L150.43,237.45 L150.14,237.08 L149.85,236.71 L149.57,236.34 L149.31,235.97 L149.06,235.61 L148.83,235.24 L148.61,234.87 L148.41,234.50 L148.22,234.13 L148.05,233.76 L147.90,233.40 L147.76,233.03 L147.64,232.66 L147.53,232.29 L147.44,231.92 L147.37,231.56 L147.31,231.19 L147.26,230.82 L147.23,230.45 L147.21,230.08 L147.20,229.72 L147.21,229.35 L147.25,228.98 L147.31,228.61 L147.41,228.24 L147.52,227.88 L147.66,227.51 L147.81,227.14 L147.98,226.77 L148.16,226.40 L148.35,226.03 L148.55,225.67 L148.75,225.30 L148.96,224.93 L149.18,224.56 L149.39,224.19 L149.60,223.83 L149.81,223.46 L150.01,223.09 L150.22,222.72 L150.41,222.35 L150.60,221.98 L150.78,221.62 L150.96,221.25 L151.13,220.88 L151.29,220.51 L151.44,220.14 L151.59,219.78 L151.73,219.41 L151.86,219.04 L151.98,218.67 L152.10,218.30 L152.21,217.94 L152.31,217.57 L152.40,217.20 L152.49,216.83 L152.58,216.46 L152.65,216.09 L152.73,215.73 L152.79,215.36 L152.86,214.99 L152.92,214.62 L152.97,214.25 L153.02,213.89 L153.07,213.52 L153.11,213.15 L153.15,212.78 L153.60,211.98 Z" fill="#1e4ca3" stroke="none" stroke-width="1"/>
<path d="M153.60,212.78 L152.90,212.78 L153.35,183.70 L153.60,183.70 Z" fill="#1e4ca3" stroke="none" stroke-width="1" opacity="0.45"/>
<path d="M153.60,242.60 L153.60,242.60 L153.71,242.23 L153.91,241.86 L154.17,241.50 L154.45,241.13 L154.76,240.76 L155.07,240.39 L155.39,240.02 L155.71,239.66 L156.02,239.29 L156.32,238.92 L156.61,238.55 L156.89,238.18 L157.15,237.81 L157.40,237.45 L157.64,237.08 L157.85,236.71 L158.05,236.34 L158.24,235.97 L158.40,235.61 L158.55,235.24 L158.69,234.87 L158.81,234.50 L158.92,234.13 L159.01,233.76 L159.09,233.40 L159.15,233.03 L159.20,232.66 L159.24,232.29 L159.27,231.92 L159.29,231.56 L159.30,231.19 L159.30,230.82 L159.28,230.45 L159.25,230.08 L159.20,229.72 L159.14,229.35 L159.08,228.98 L158.99,228.61 L158.90,228.24 L158.80,227.88 L158.70,227.51 L158.58,227.14 L158.46,226.77 L158.33,226.40 L158.20,226.03 L158.07,225.67 L157.93,225.30 L157.79,224.93 L157.65,224.56 L157.51,224.19 L157.36,223.83 L157.22,223.46 L157.08,223.09 L156.94,222.72 L156.81,222.35 L156.67,221.98 L156.54,221.62 L156.41,221.25 L156.28,220.88 L156.16,220.51 L156.04,220.14 L155.92,219.78 L155.81,219.41 L155.70,219.04 L155.60,218.67 L155.50,218.30 L155.40,217.94 L155.31,217.57 L155.22,217.20 L155.13,216.83 L155.05,216.46 L154.97,216.09 L154.90,215.73 L154.83,215.36 L154.76,214.99 L154.69,214.62 L154.63,214.25 L154.57,213.89 L154.52,213.52 L154.46,213.15 L154.41,212.78 L154.37,212.41 L154.32,212.05 L154.28,211.68 L154.24,211.31 L154.20,210.94 L154.16,210.57 L154.13,210.20 L154.10,209.84 L154.07,209.47 L153.60,208.67 Z" fill="#e2252b" stroke="none" stroke-width="1"/>
<path d="M153.60,209.47 L154.30,209.47 L153.85,191.95 L153.60,191.95 Z" fill="#e2252b" stroke="none" stroke-width="1" opacity="0.45"/>
<path d="M179.00,242.60 L179.00,242.60 L178.98,242.23 L178.90,241.86 L178.78,241.50 L178.61,241.13 L178.40,240.76 L178.16,240.39 L177.90,240.02 L177.61,239.66 L177.32,239.29 L177.02,238.92 L176.71,238.55 L176.40,238.18 L176.10,237.81 L175.81,237.45 L175.52,237.08 L175.25,236.71 L174.98,236.34 L174.74,235.97 L174.51,235.61 L174.29,235.24 L174.09,234.87 L173.91,234.50 L173.75,234.13 L173.60,233.76 L173.47,233.40 L173.36,233.03 L173.26,232.66 L173.18,232.29 L173.12,231.92 L173.07,231.56 L173.03,231.19 L173.01,230.82 L173.00,230.45 L173.01,230.08 L173.05,229.72 L173.12,229.35 L173.21,228.98 L173.34,228.61 L173.48,228.24 L173.64,227.88 L173.82,227.51 L174.02,227.14 L174.22,226.77 L174.43,226.40 L174.65,226.03 L174.87,225.67 L175.09,225.30 L175.31,224.93 L175.53,224.56 L175.75,224.19 L175.96,223.83 L176.16,223.46 L176.35,223.09 L176.54,222.72 L176.72,222.35 L176.89,221.98 L177.05,221.62 L177.20,221.25 L177.35,220.88 L177.48,220.51 L177.61,220.14 L177.73,219.78 L177.84,219.41 L177.94,219.04 L178.03,218.67 L178.12,218.30 L178.20,217.94 L178.27,217.57 L178.34,217.20 L178.40,216.83 L178.46,216.46 L178.51,216.09 L179.00,215.29 Z" fill="#1e4ca3" stroke="none" stroke-width="1"/>
<path d="M179.00,216.09 L178.30,216.09 L178.75,207.26 L179.00,207.26 Z" fill="#1e4ca3" stroke="none" stroke-width="1" opacity="0.45"/>
<path d="M179.00,242.60 L179.00,242.60 L179.13,242.23 L179.38,241.86 L179.69,241.50 L180.03,241.13 L180.40,240.76 L180.78,240.39 L181.17,240.02 L181.55,239.66 L181.93,239.29 L182.30,238.92 L182.65,238.55 L182.98,238.18 L183.30,237.81 L183.60,237.45 L183.89,237.08 L184.15,236.71 L184.39,236.34 L184.61,235.97 L184.81,235.61 L185.00,235.24 L185.16,234.87 L185.31,234.50 L185.44,234.13 L185.55,233.76 L185.64,233.40 L185.72,233.03 L185.78,232.66 L185.83,232.29 L185.87,231.92 L185.89,231.56 L185.90,231.19 L185.90,230.82 L185.88,230.45 L185.84,230.08 L185.78,229.72 L185.71,229.35 L185.63,228.98 L185.53,228.61 L185.42,228.24 L185.30,227.88 L185.17,227.51 L185.03,227.14 L184.88,226.77 L184.73,226.40 L184.57,226.03 L184.41,225.67 L184.24,225.30 L184.07,224.93 L183.90,224.56 L183.73,224.19 L183.56,223.83 L183.39,223.46 L183.22,223.09 L183.05,222.72 L182.88,222.35 L182.72,221.98 L182.56,221.62 L182.40,221.25 L182.25,220.88 L182.10,220.51 L181.95,220.14 L181.81,219.78 L181.68,219.41 L181.55,219.04 L181.42,218.67 L181.30,218.30 L181.18,217.94 L181.07,217.57 L180.96,217.20 L180.85,216.83 L180.76,216.46 L180.66,216.09 L180.57,215.73 L180.48,215.36 L180.40,214.99 L180.32,214.62 L180.25,214.25 L180.18,213.89 L180.11,213.52 L180.05,213.15 L179.98,212.78 L179.93,212.41 L179.87,212.05 L179.82,211.68 L179.77,211.31 L179.73,210.94 L179.68,210.57 L179.64,210.20 L179.60,209.84 L179.57,209.47 L179.53,209.10 L179.50,208.73 L179.47,208.36 L179.00,207.56 Z" fill="#e2252b" stroke="none" stroke-width="1"/>
<path d="M179.00,208.36 L179.70,208.36 L179.25,197.25 L179.00,197.25 Z" fill="#e2252b" stroke="none" stroke-width="1" opacity="0.45"/>
<path d="M204.60,242.60 L204.60,242.60 L204.16,242.23 L203.54,241.86 L202.87,241.50 L202.22,241.13 L201.60,240.76 L201.03,240.39 L200.51,240.02 L200.05,239.66 L199.66,239.29 L199.32,238.92 L199.03,238.55 L198.80,238.18 L198.62,237.81 L198.48,237.45 L198.38,237.08 L198.33,236.71 L198.30,236.34 L198.31,235.97 L198.35,235.61 L198.43,235.24 L198.54,234.87 L198.68,234.50 L198.84,234.13 L199.02,233.76 L199.22,233.40 L199.43,233.03 L199.66,232.66 L199.88,232.29 L200.12,231.92 L200.35,231.56 L200.59,231.19 L200.82,230.82 L201.05,230.45 L201.27,230.08 L201.49,229.72 L201.69,229.35 L201.89,228.98 L202.09,228.61 L202.27,228.24 L202.44,227.88 L202.60,227.51 L202.76,227.14 L202.90,226.77 L203.04,226.40 L203.16,226.03 L203.28,225.67 L203.39,225.30 L203.49,224.93 L203.58,224.56 L203.67,224.19 L203.75,223.83 L203.82,223.46 L203.89,223.09 L203.95,222.72 L204.01,222.35 L204.06,221.98 L204.11,221.62 L204.60,220.82 Z" fill="#1e4ca3" stroke="none" stroke-width="1"/>
<path d="M204.60,221.62 L203.90,221.62 L204.35,186.06 L204.60,186.06 Z" fill="#1e4ca3" stroke="none" stroke-width="1" opacity="0.45"/>
<path d="M204.60,242.60 L204.60,242.60 L204.88,242.23 L205.26,241.86 L205.68,241.50 L206.10,241.13 L206.52,240.76 L206.92,240.39 L207.32,240.02 L207.69,239.66 L208.05,239.29 L208.39,238.92 L208.71,238.55 L209.00,238.18 L209.28,237.81 L209.53,237.45 L209.76,237.08 L209.97,236.71 L210.17,236.34 L210.34,235.97 L210.49,235.61 L210.63,235.24 L210.75,234.87 L210.85,234.50 L210.94,234.13 L211.02,233.76 L211.08,233.40 L211.13,233.03 L211.16,232.66 L211.18,232.29 L211.20,231.92 L211.20,231.56 L211.18,231.19 L211.14,230.82 L211.07,230.45 L210.98,230.08 L210.87,229.72 L210.74,229.35 L210.60,228.98 L210.44,228.61 L210.27,228.24 L210.08,227.88 L209.89,227.51 L209.69,227.14 L209.48,226.77 L209.27,226.40 L209.06,226.03 L208.85,225.67 L208.64,225.30 L208.42,224.93 L208.22,224.56 L208.01,224.19 L207.81,223.83 L207.62,223.46 L207.43,223.09 L207.25,222.72 L207.07,222.35 L206.91,221.98 L206.75,221.62 L206.60,221.25 L206.45,220.88 L206.31,220.51 L206.19,220.14 L206.06,219.78 L205.95,219.41 L205.84,219.04 L205.74,218.67 L205.65,218.30 L205.56,217.94 L205.48,217.57 L205.41,217.20 L205.34,216.83 L205.27,216.46 L205.21,216.09 L205.16,215.73 L205.11,215.36 L205.06,214.99 L204.60,214.19 Z" fill="#e2252b" stroke="none" stroke-width="1"/>
<path d="M204.60,214.99 L205.30,214.99 L204.85,211.97 L204.60,211.97 Z" fill="#e2252b" stroke="none" stroke-width="1" opacity="0.45"/>
<path d="M230.30,242.60 L227.64,242.60 L227.37,242.23 L227.09,241.86 L226.81,241.50 L226.52,241.13 L226.24,240.76 L225.96,240.39 L225.70,240.02 L225.44,239.66 L225.21,239.29 L224.99,238.92 L224.80,238.55 L224.63,238.18 L224.50,237.81 L224.40,237.45 L224.33,237.08 L224.30,236.71 L224.31,236.34 L224.35,235.97 L224.41,235.61 L224.51,235.24 L224.63,234.87 L224.77,234.50 L224.93,234.13 L225.10,233.76 L225.29,233.40 L225.48,233.03 L225.69,232.66 L225.90,232.29 L226.11,231.92 L226.32,231.56 L226.54,231.19 L226.75,230.82 L226.95,230.45 L227.15,230.08 L227.35,229.72 L227.54,229.35 L227.72,228.98 L227.89,228.61 L228.06,228.24 L228.22,227.88 L228.37,227.51 L228.51,227.14 L228.64,226.77 L228.77,226.40 L228.88,226.03 L228.99,225.67 L229.10,225.30 L229.19,224.93 L229.28,224.56 L229.36,224.19 L229.44,223.83 L229.51,223.46 L229.57,223.09 L229.64,222.72 L229.69,222.35 L229.74,221.98 L229.79,221.62 L229.83,221.25 L230.30,220.45 Z" fill="#1e4ca3" stroke="none" stroke-width="1"/>
<path d="M230.30,221.25 L229.60,221.25 L230.05,214.33 L230.30,214.33 Z" fill="#1e4ca3" stroke="none" stroke-width="1" opacity="0.45"/>
<path d="M230.30,242.60 L232.05,242.60 L232.32,242.23 L232.61,241.86 L232.92,241.50 L233.24,241.13 L233.58,240.76 L233.93,240.39 L234.29,240.02 L234.65,239.66 L235.00,239.29 L235.34,238.92 L235.66,238.55 L235.95,238.18 L236.22,237.81 L236.44,237.45 L236.63,237.08 L236.77,236.71 L236.86,236.34 L236.90,235.97 L236.89,235.61 L236.85,235.24 L236.79,234.87 L236.70,234.50 L236.59,234.13 L236.46,233.76 L236.31,233.40 L236.15,233.03 L235.98,232.66 L235.79,232.29 L235.60,231.92 L235.40,231.56 L235.20,231.19 L234.99,230.82 L234.78,230.45 L234.58,230.08 L234.37,229.72 L234.17,229.35 L233.98,228.98 L233.79,228.61 L233.60,228.24 L233.42,227.88 L233.24,227.51 L233.07,227.14 L232.91,226.77 L232.76,226.40 L232.61,226.03 L232.47,225.67 L232.33,225.30 L232.21,224.93 L232.09,224.56 L231.97,224.19 L231.86,223.83 L231.76,223.46 L231.67,223.09 L231.58,222.72 L231.49,222.35 L231.41,221.98 L231.34,221.62 L231.27,221.25 L231.20,220.88 L231.14,220.51 L231.08,220.14 L231.03,219.78 L230.98,219.41 L230.93,219.04 L230.89,218.67 L230.85,218.30 L230.81,217.94 L230.77,217.57 L230.30,216.77 Z" fill="#e2252b" stroke="none" stroke-width="1"/>
<path d="M230.30,217.57 L231.00,217.57 L230.55,195.48 L230.30,195.48 Z" fill="#e2252b" stroke="none" stroke-width="1" opacity="0.45"/>
<path d="M255.50,242.60 L250.73,242.60 L250.19,242.23 L250.12,241.86 L250.36,241.50 L250.82,241.13 L251.45,240.76 L252.17,240.39 L252.89,240.02 L253.55,239.66 L254.12,239.29 L254.57,238.92 L254.90,238.55 L255.50,237.75 Z" fill="#1e4ca3" stroke="none" stroke-width="1"/>
<path d="M255.50,238.55 L254.80,238.55 L255.25,230.82 L255.50,230.82 Z" fill="#1e4ca3" stroke="none" stroke-width="1" opacity="0.45"/>
<path d="M255.50,242.60 L258.60,242.60 L259.16,242.23 L259.73,241.86 L260.26,241.50 L260.73,241.13 L261.11,240.76 L261.37,240.39 L261.49,240.02 L261.48,239.66 L261.34,239.29 L261.09,238.92 L260.75,238.55 L260.33,238.18 L259.85,237.81 L259.35,237.45 L258.83,237.08 L258.33,236.71 L257.85,236.34 L257.41,235.97 L257.03,235.61 L256.70,235.24 L256.42,234.87 L256.19,234.50 L256.01,234.13 L255.50,233.33 Z" fill="#e2252b" stroke="none" stroke-width="1"/>
<path d="M255.50,234.13 L256.20,234.13 L255.75,211.97 L255.50,211.97 Z" fill="#e2252b" stroke="none" stroke-width="1" opacity="0.45"/>
<line x1="39.50" y1="183.20" x2="39.50" y2="243.00" stroke="#111" stroke-width="1.2"/>
<line x1="38.90" y1="242.60" x2="267.30" y2="242.60" stroke="#111" stroke-width="1.3"/>
<line x1="36.60" y1="183.70" x2="39.50" y2="183.70" stroke="#111" stroke-width="1.0"/>
<line x1="36.60" y1="195.48" x2="39.50" y2="195.48" stroke="#111" stroke-width="1.0"/>
<line x1="36.60" y1="207.26" x2="39.50" y2="207.26" stroke="#111" stroke-width="1.0"/>
<line x1="36.60" y1="219.04" x2="39.50" y2="219.04" stroke="#111" stroke-width="1.0"/>
<line x1="36.60" y1="230.82" x2="39.50" y2="230.82" stroke="#111" stroke-width="1.0"/>
<text x="37.40" y="186.30" font-size="8.4" font-weight="bold" fill="#000" text-anchor="end" textLength="7.80" lengthAdjust="spacingAndGlyphs">50</text>
<text x="37.40" y="209.86" font-size="8.4" font-weight="bold" fill="#000" text-anchor="end" textLength="7.80" lengthAdjust="spacingAndGlyphs">30</text>
<text x="37.40" y="233.42" font-size="8.4" font-weight="bold" fill="#000" text-anchor="end" textLength="7.80" lengthAdjust="spacingAndGlyphs">10</text>
<text x="24.40" y="243.60" font-size="8.6" font-weight="bold" fill="#000" textLength="64.70" lengthAdjust="spacingAndGlyphs" transform="rotate(-90 24.40 243.60)">Activity / Total (%)</text>
<line x1="40.50" y1="180.80" x2="88.90" y2="180.80" stroke="#333" stroke-width="1.3"/>
<text x="55.90" y="177.40" font-size="9.0" font-weight="bold" fill="#000" textLength="18.00" lengthAdjust="spacingAndGlyphs">Day 1</text>
<line x1="90.50" y1="180.80" x2="139.70" y2="180.80" stroke="#333" stroke-width="1.3"/>
<text x="104.40" y="177.40" font-size="9.0" font-weight="bold" fill="#000" textLength="18.00" lengthAdjust="spacingAndGlyphs">Day 2</text>
<line x1="141.50" y1="180.80" x2="190.90" y2="180.80" stroke="#333" stroke-width="1.3"/>
<text x="155.60" y="177.40" font-size="9.0" font-weight="bold" fill="#000" textLength="18.00" lengthAdjust="spacingAndGlyphs">Day 3</text>
<line x1="193.10" y1="180.80" x2="265.60" y2="180.80" stroke="#333" stroke-width="1.3"/>
<text x="219.60" y="177.40" font-size="9.0" font-weight="bold" fill="#000" textLength="18.00" lengthAdjust="spacingAndGlyphs">Day 4</text>
<text x="50.40" y="254.60" font-size="9.5" font-weight="bold" fill="#000" text-anchor="middle" textLength="9.50" lengthAdjust="spacingAndGlyphs">A1</text>
<text x="75.80" y="254.60" font-size="9.5" font-weight="bold" fill="#000" text-anchor="middle" textLength="9.70" lengthAdjust="spacingAndGlyphs">A2</text>
<text x="101.30" y="254.60" font-size="9.5" font-weight="bold" fill="#000" text-anchor="middle" textLength="9.50" lengthAdjust="spacingAndGlyphs">A3</text>
<text x="126.90" y="254.60" font-size="9.5" font-weight="bold" fill="#000" text-anchor="middle" textLength="9.70" lengthAdjust="spacingAndGlyphs">A4</text>
<text x="152.40" y="254.60" font-size="9.5" font-weight="bold" fill="#000" text-anchor="middle" textLength="9.50" lengthAdjust="spacingAndGlyphs">A5</text>
<text x="178.40" y="254.60" font-size="9.5" font-weight="bold" fill="#000" text-anchor="middle" textLength="9.50" lengthAdjust="spacingAndGlyphs">A6</text>
<text x="203.60" y="254.60" font-size="9.5" font-weight="bold" fill="#000" text-anchor="middle" textLength="16.50" lengthAdjust="spacingAndGlyphs">preS</text>
<text x="229.20" y="254.60" font-size="9.5" font-weight="bold" fill="#000" text-anchor="middle" textLength="21.00" lengthAdjust="spacingAndGlyphs">postS</text>
<text x="254.50" y="254.60" font-size="9.5" font-weight="bold" fill="#000" text-anchor="middle" textLength="15.80" lengthAdjust="spacingAndGlyphs">REM</text>
<text x="361.80" y="152.20" font-size="10.8" font-weight="normal" fill="#111" textLength="59.50" lengthAdjust="spacingAndGlyphs" stroke="#111" stroke-width="0.4">Linear model</text>
<line x1="345.00" y1="162.30" x2="345.00" y2="244.40" stroke="#111" stroke-width="1.3"/>
<line x1="344.40" y1="243.80" x2="441.80" y2="243.80" stroke="#111" stroke-width="1.3"/>
<line x1="340.40" y1="243.80" x2="345.00" y2="243.80" stroke="#111" stroke-width="1.1"/>
<text x="339.60" y="246.90" font-size="8.6" font-weight="bold" fill="#000" text-anchor="end" textLength="4.60" lengthAdjust="spacingAndGlyphs">0</text>
<line x1="340.40" y1="223.60" x2="345.00" y2="223.60" stroke="#111" stroke-width="1.1"/>
<text x="339.60" y="226.70" font-size="8.6" font-weight="bold" fill="#000" text-anchor="end" textLength="4.60" lengthAdjust="spacingAndGlyphs">5</text>
<line x1="340.40" y1="203.40" x2="345.00" y2="203.40" stroke="#111" stroke-width="1.1"/>
<text x="339.60" y="206.50" font-size="8.6" font-weight="bold" fill="#000" text-anchor="end" textLength="9.40" lengthAdjust="spacingAndGlyphs">10</text>
<line x1="340.40" y1="183.20" x2="345.00" y2="183.20" stroke="#111" stroke-width="1.1"/>
<text x="339.60" y="186.30" font-size="8.6" font-weight="bold" fill="#000" text-anchor="end" textLength="9.40" lengthAdjust="spacingAndGlyphs">15</text>
<line x1="340.40" y1="163.00" x2="345.00" y2="163.00" stroke="#111" stroke-width="1.1"/>
<text x="339.60" y="166.10" font-size="8.6" font-weight="bold" fill="#000" text-anchor="end" textLength="9.40" lengthAdjust="spacingAndGlyphs">20</text>
<line x1="345.00" y1="243.80" x2="345.00" y2="246.80" stroke="#111" stroke-width="1.1"/>
<text x="345.00" y="255.80" font-size="8.6" font-weight="bold" fill="#000" text-anchor="middle" textLength="4.60" lengthAdjust="spacingAndGlyphs">0</text>
<line x1="367.62" y1="243.80" x2="367.62" y2="246.80" stroke="#111" stroke-width="1.1"/>
<text x="367.62" y="255.80" font-size="8.6" font-weight="bold" fill="#000" text-anchor="middle" textLength="8.80" lengthAdjust="spacingAndGlyphs">20</text>
<line x1="390.24" y1="243.80" x2="390.24" y2="246.80" stroke="#111" stroke-width="1.1"/>
<text x="390.24" y="255.80" font-size="8.6" font-weight="bold" fill="#000" text-anchor="middle" textLength="8.80" lengthAdjust="spacingAndGlyphs">40</text>
<line x1="412.86" y1="243.80" x2="412.86" y2="246.80" stroke="#111" stroke-width="1.1"/>
<text x="412.86" y="255.80" font-size="8.6" font-weight="bold" fill="#000" text-anchor="middle" textLength="8.80" lengthAdjust="spacingAndGlyphs">60</text>
<line x1="435.48" y1="243.80" x2="435.48" y2="246.80" stroke="#111" stroke-width="1.1"/>
<text x="435.48" y="255.80" font-size="8.6" font-weight="bold" fill="#000" text-anchor="middle" textLength="8.80" lengthAdjust="spacingAndGlyphs">80</text>
<text x="378.00" y="265.00" font-size="8.6" font-weight="bold" fill="#000" textLength="29.60" lengthAdjust="spacingAndGlyphs">Time (h)</text>
<text x="324.60" y="238.70" font-size="8.6" font-weight="bold" fill="#000" textLength="64.70" lengthAdjust="spacingAndGlyphs" transform="rotate(-90 324.60 238.70)">Activity/Total (%)</text>
<text x="351.80" y="216.30" font-size="10.2" font-weight="bold" fill="#2150a4" textLength="17.80" lengthAdjust="spacingAndGlyphs">GNs</text>
<text x="351.80" y="226.50" font-size="10.2" font-weight="bold" fill="#e3222a" textLength="24.20" lengthAdjust="spacingAndGlyphs">ABNs</text>
<line x1="345.00" y1="175.40" x2="429.00" y2="193.90" stroke="#111" stroke-width="1.0"/>
<path d="M426.0,191.4 L431.6,194.5 L425.3,194.9 Z" fill="#111" stroke="none" stroke-width="1"/>
<path d="M345,181.0 L431.5,196.6 V206.6 H434.2" fill="none" stroke="#e3222a" stroke-width="1.1"/>
<path d="M345,181.4 L431.5,201.1 V207.6 L434.4,208.6 V227.9 L440.8,229.4" fill="none" stroke="#2150a4" stroke-width="1.1"/>
<line x1="434.40" y1="225.90" x2="440.80" y2="227.70" stroke="#e3222a" stroke-width="1.1"/>
<text x="372.00" y="178.50" font-size="8.8" font-weight="normal" font-style="italic" fill="#111" textLength="42.00" lengthAdjust="spacingAndGlyphs" transform="rotate(8.5 372.00 178.50)">Time effect</text>
<line x1="431.30" y1="168.50" x2="431.30" y2="243.80" stroke="#f09a2a" stroke-width="1.1" stroke-dasharray="2.4 1.8"/>
<line x1="434.40" y1="179.60" x2="434.40" y2="243.80" stroke="#2b3a80" stroke-width="1.1" stroke-dasharray="1.4 2"/>
<path d="M426.8,167.4 L428.8,170.4 L427.8,170.4 L429.6,172.6" fill="none" stroke="#f09a2a" stroke-width="0.8"/>
<text x="434.20" y="175.90" font-size="8.8" font-weight="bold" fill="#f09a2a" textLength="22.20" lengthAdjust="spacingAndGlyphs">Shock</text>
<text x="437.90" y="186.40" font-size="8.8" font-weight="bold" fill="#2b3a80" textLength="16.30" lengthAdjust="spacingAndGlyphs">REM</text>
<path d="M436.2,197.3 H438.0 V207.6 H436.2" fill="none" stroke="#111" stroke-width="1.0"/>
<text x="440.70" y="205.20" font-size="8.8" font-weight="bold" fill="#111" textLength="45.80" lengthAdjust="spacingAndGlyphs">Shock effect</text>
<path d="M441.2,208.8 H443.4 V228.8 H441.2" fill="none" stroke="#111" stroke-width="1.0"/>
<text x="446.80" y="222.00" font-size="8.8" font-weight="bold" fill="#111" textLength="39.40" lengthAdjust="spacingAndGlyphs">REM effect</text>
<text x="571.40" y="143.50" font-size="10.8" font-weight="normal" fill="#111" textLength="47.80" lengthAdjust="spacingAndGlyphs" stroke="#111" stroke-width="0.4">Effect size</text>
<line x1="545.00" y1="154.80" x2="654.60" y2="154.80" stroke="#111" stroke-width="1.0" stroke-dasharray="2 1.6"/>
<line x1="545.00" y1="154.20" x2="545.00" y2="242.60" stroke="#111" stroke-width="1.3"/>
<line x1="544.40" y1="242.00" x2="654.40" y2="242.00" stroke="#111" stroke-width="1.3"/>
<line x1="540.20" y1="154.80" x2="545.00" y2="154.80" stroke="#111" stroke-width="1.1"/>
<text x="538.80" y="157.90" font-size="8.6" font-weight="bold" fill="#000" text-anchor="end" textLength="4.20" lengthAdjust="spacingAndGlyphs">0</text>
<line x1="540.20" y1="176.60" x2="545.00" y2="176.60" stroke="#111" stroke-width="1.1"/>
<text x="538.80" y="179.70" font-size="8.6" font-weight="bold" fill="#000" text-anchor="end" textLength="7.30" lengthAdjust="spacingAndGlyphs">-2</text>
<line x1="540.20" y1="198.40" x2="545.00" y2="198.40" stroke="#111" stroke-width="1.1"/>
<text x="538.80" y="201.50" font-size="8.6" font-weight="bold" fill="#000" text-anchor="end" textLength="7.30" lengthAdjust="spacingAndGlyphs">-4</text>
<line x1="540.20" y1="220.20" x2="545.00" y2="220.20" stroke="#111" stroke-width="1.1"/>
<text x="538.80" y="223.30" font-size="8.6" font-weight="bold" fill="#000" text-anchor="end" textLength="7.30" lengthAdjust="spacingAndGlyphs">-6</text>
<line x1="540.20" y1="242.00" x2="545.00" y2="242.00" stroke="#111" stroke-width="1.1"/>
<text x="538.80" y="245.10" font-size="8.6" font-weight="bold" fill="#000" text-anchor="end" textLength="7.30" lengthAdjust="spacingAndGlyphs">-8</text>
<line x1="560.60" y1="242.00" x2="560.60" y2="245.00" stroke="#111" stroke-width="1.1"/>
<line x1="599.60" y1="242.00" x2="599.60" y2="245.00" stroke="#111" stroke-width="1.1"/>
<line x1="638.60" y1="242.00" x2="638.60" y2="245.00" stroke="#111" stroke-width="1.1"/>
<text x="542.60" y="255.60" font-size="8.8" font-weight="bold" fill="#000" textLength="34.60" lengthAdjust="spacingAndGlyphs">Time×24h</text>
<text x="586.40" y="255.60" font-size="8.8" font-weight="bold" fill="#000" textLength="23.20" lengthAdjust="spacingAndGlyphs">Shock</text>
<text x="629.40" y="255.60" font-size="8.8" font-weight="bold" fill="#000" textLength="15.80" lengthAdjust="spacingAndGlyphs">REM</text>
<line x1="555.50" y1="258.50" x2="646.60" y2="258.50" stroke="#111" stroke-width="1.1"/>
<text x="585.40" y="268.10" font-size="8.8" font-weight="bold" fill="#000" textLength="21.60" lengthAdjust="spacingAndGlyphs">Effect</text>
<text x="525.40" y="235.20" font-size="8.4" font-weight="bold" fill="#000" textLength="71.90" lengthAdjust="spacingAndGlyphs" transform="rotate(-90 525.40 235.20)">Δ Activity/Total  (%)</text>
<text x="565.90" y="214.40" font-size="10.2" font-weight="bold" fill="#2150a4" textLength="17.90" lengthAdjust="spacingAndGlyphs">GNs</text>
<text x="565.90" y="224.10" font-size="10.2" font-weight="bold" fill="#e3222a" textLength="23.20" lengthAdjust="spacingAndGlyphs">ABNs</text>
<path d="M554.1,177.1 V179.1 H568.3 V172.3" fill="none" stroke="#c573c2" stroke-width="1.1"/>
<path d="M573.6,154.8 H576.1 V169.2 H573.6" fill="none" stroke="#c573c2" stroke-width="1.1"/>
<path d="M592.2,183.6 V190.3 H606.6 V187.4" fill="none" stroke="#c573c2" stroke-width="1.1"/>
<path d="M612.0,154.8 H615.3 V180.0 H612.0" fill="none" stroke="#c573c2" stroke-width="1.1"/>
<path d="M630.8,218.8 V225.9 H645.1 V221.9" fill="none" stroke="#c573c2" stroke-width="1.1"/>
<path d="M650.4,154.8 H653.4 V208.6 H650.4" fill="none" stroke="#c573c2" stroke-width="1.1"/>
<line x1="554.10" y1="176.60" x2="554.10" y2="169.52" stroke="#2150a4" stroke-width="0.9"/>
<line x1="552.10" y1="176.60" x2="556.10" y2="176.60" stroke="#2150a4" stroke-width="0.9"/>
<line x1="552.10" y1="169.52" x2="556.10" y2="169.52" stroke="#2150a4" stroke-width="0.9"/>
<circle cx="554.10" cy="173.11" r="2.3" fill="#2150a4"/>
<line x1="568.30" y1="172.79" x2="568.30" y2="165.70" stroke="#e3222a" stroke-width="0.9"/>
<line x1="566.30" y1="172.79" x2="570.30" y2="172.79" stroke="#e3222a" stroke-width="0.9"/>
<line x1="566.30" y1="165.70" x2="570.30" y2="165.70" stroke="#e3222a" stroke-width="0.9"/>
<rect x="565.90" y="166.79" width="4.80" height="4.80" fill="#e02424" stroke="none" stroke-width="1"/>
<line x1="592.20" y1="183.14" x2="592.20" y2="168.32" stroke="#2150a4" stroke-width="0.9"/>
<line x1="590.20" y1="183.14" x2="594.20" y2="183.14" stroke="#2150a4" stroke-width="0.9"/>
<line x1="590.20" y1="168.32" x2="594.20" y2="168.32" stroke="#2150a4" stroke-width="0.9"/>
<circle cx="592.20" cy="175.29" r="2.3" fill="#2150a4"/>
<line x1="606.60" y1="187.94" x2="606.60" y2="172.46" stroke="#e3222a" stroke-width="0.9"/>
<line x1="604.60" y1="187.94" x2="608.60" y2="187.94" stroke="#e3222a" stroke-width="0.9"/>
<line x1="604.60" y1="172.46" x2="608.60" y2="172.46" stroke="#e3222a" stroke-width="0.9"/>
<rect x="604.20" y="177.91" width="4.80" height="4.80" fill="#e02424" stroke="none" stroke-width="1"/>
<line x1="630.80" y1="218.35" x2="630.80" y2="189.14" stroke="#2150a4" stroke-width="0.9"/>
<line x1="628.80" y1="218.35" x2="632.80" y2="218.35" stroke="#2150a4" stroke-width="0.9"/>
<line x1="628.80" y1="189.14" x2="632.80" y2="189.14" stroke="#2150a4" stroke-width="0.9"/>
<circle cx="630.80" cy="204.18" r="2.3" fill="#2150a4"/>
<line x1="645.10" y1="222.38" x2="645.10" y2="193.50" stroke="#e3222a" stroke-width="0.9"/>
<line x1="643.10" y1="222.38" x2="647.10" y2="222.38" stroke="#e3222a" stroke-width="0.9"/>
<line x1="643.10" y1="193.50" x2="647.10" y2="193.50" stroke="#e3222a" stroke-width="0.9"/>
<rect x="642.70" y="205.81" width="4.80" height="4.80" fill="#e02424" stroke="none" stroke-width="1"/>
<text x="575.80" y="157.60" font-size="8.6" font-weight="bold" fill="#111" textLength="8.80" lengthAdjust="spacingAndGlyphs" transform="rotate(90 575.80 157.60)">***</text>
<text x="615.40" y="164.20" font-size="8.6" font-weight="bold" fill="#111" textLength="6.60" lengthAdjust="spacingAndGlyphs" transform="rotate(90 615.40 164.20)">**</text>
<text x="653.10" y="179.60" font-size="8.6" font-weight="bold" fill="#111" textLength="8.00" lengthAdjust="spacingAndGlyphs" transform="rotate(90 653.10 179.60)">***</text>
<text x="559.30" y="186.50" font-size="8.0" font-weight="bold" fill="#111" textLength="7.00" lengthAdjust="spacingAndGlyphs">ns</text>
<text x="597.30" y="197.70" font-size="8.0" font-weight="bold" fill="#111" textLength="6.50" lengthAdjust="spacingAndGlyphs">ns</text>
<text x="634.70" y="233.50" font-size="8.0" font-weight="bold" fill="#111" textLength="7.20" lengthAdjust="spacingAndGlyphs">ns</text>
<text x="571.40" y="309.20" font-size="10.8" font-weight="normal" fill="#111" textLength="47.80" lengthAdjust="spacingAndGlyphs" stroke="#111" stroke-width="0.4">Effect size</text>
<line x1="545.00" y1="333.20" x2="654.60" y2="333.20" stroke="#111" stroke-width="1.0" stroke-dasharray="2 1.6"/>
<line x1="545.00" y1="314.45" x2="545.00" y2="406.40" stroke="#111" stroke-width="1.3"/>
<line x1="544.40" y1="405.80" x2="654.40" y2="405.80" stroke="#111" stroke-width="1.3"/>
<line x1="540.20" y1="315.05" x2="545.00" y2="315.05" stroke="#111" stroke-width="1.1"/>
<text x="538.80" y="318.15" font-size="8.6" font-weight="bold" fill="#000" text-anchor="end" textLength="2.80" lengthAdjust="spacingAndGlyphs">1</text>
<line x1="540.20" y1="333.20" x2="545.00" y2="333.20" stroke="#111" stroke-width="1.1"/>
<text x="538.80" y="336.30" font-size="8.6" font-weight="bold" fill="#000" text-anchor="end" textLength="5.90" lengthAdjust="spacingAndGlyphs">.0</text>
<line x1="540.20" y1="351.35" x2="545.00" y2="351.35" stroke="#111" stroke-width="1.1"/>
<text x="538.80" y="354.45" font-size="8.6" font-weight="bold" fill="#000" text-anchor="end" textLength="7.70" lengthAdjust="spacingAndGlyphs">-.1</text>
<line x1="540.20" y1="369.50" x2="545.00" y2="369.50" stroke="#111" stroke-width="1.1"/>
<text x="538.80" y="372.60" font-size="8.6" font-weight="bold" fill="#000" text-anchor="end" textLength="7.70" lengthAdjust="spacingAndGlyphs">-.2</text>
<line x1="540.20" y1="387.65" x2="545.00" y2="387.65" stroke="#111" stroke-width="1.1"/>
<text x="538.80" y="390.75" font-size="8.6" font-weight="bold" fill="#000" text-anchor="end" textLength="7.70" lengthAdjust="spacingAndGlyphs">-.3</text>
<line x1="540.20" y1="405.80" x2="545.00" y2="405.80" stroke="#111" stroke-width="1.1"/>
<text x="538.80" y="408.90" font-size="8.6" font-weight="bold" fill="#000" text-anchor="end" textLength="7.70" lengthAdjust="spacingAndGlyphs">-.4</text>
<line x1="560.60" y1="405.80" x2="560.60" y2="408.80" stroke="#111" stroke-width="1.1"/>
<line x1="599.60" y1="405.80" x2="599.60" y2="408.80" stroke="#111" stroke-width="1.1"/>
<line x1="638.60" y1="405.80" x2="638.60" y2="408.80" stroke="#111" stroke-width="1.1"/>
<text x="543.60" y="420.50" font-size="8.8" font-weight="bold" fill="#000" textLength="35.80" lengthAdjust="spacingAndGlyphs">Time×24h</text>
<text x="588.00" y="420.50" font-size="8.8" font-weight="bold" fill="#000" textLength="23.20" lengthAdjust="spacingAndGlyphs">Shock</text>
<text x="630.20" y="420.50" font-size="8.8" font-weight="bold" fill="#000" textLength="15.80" lengthAdjust="spacingAndGlyphs">REM</text>
<line x1="557.50" y1="423.50" x2="646.60" y2="423.50" stroke="#111" stroke-width="1.1"/>
<text x="587.40" y="432.30" font-size="8.8" font-weight="bold" fill="#000" textLength="21.60" lengthAdjust="spacingAndGlyphs">Effect</text>
<text x="526.50" y="394.00" font-size="8.4" font-weight="bold" fill="#000" textLength="60.50" lengthAdjust="spacingAndGlyphs" transform="rotate(-90 526.50 394.00)">Δ PV correlation</text>
<text x="550.60" y="385.30" font-size="10.2" font-weight="bold" fill="#2150a4" textLength="18.80" lengthAdjust="spacingAndGlyphs">GNs</text>
<text x="551.70" y="395.20" font-size="10.2" font-weight="bold" fill="#e3222a" textLength="23.20" lengthAdjust="spacingAndGlyphs">ABNs</text>
<path d="M553.9,354.9 V359.2 H568.7 V342.1" fill="none" stroke="#c573c2" stroke-width="1.1"/>
<path d="M572.8,333.2 H575.2 V339.6 H572.8" fill="none" stroke="#c573c2" stroke-width="1.1"/>
<path d="M592.7,352.9 V356.6 H607.4 V351.9" fill="none" stroke="#c573c2" stroke-width="1.1"/>
<path d="M611.4,333.2 H614.9 V343.5 H611.4" fill="none" stroke="#c573c2" stroke-width="1.1"/>
<path d="M631.4,393.1 V396.2 H645.7 V352.7" fill="none" stroke="#c573c2" stroke-width="1.1"/>
<path d="M650.0,333.2 H653.6 V380.8 H650.0" fill="none" stroke="#c573c2" stroke-width="1.1"/>
<line x1="553.90" y1="354.44" x2="553.90" y2="348.99" stroke="#2150a4" stroke-width="0.9"/>
<line x1="551.90" y1="354.44" x2="555.90" y2="354.44" stroke="#2150a4" stroke-width="0.9"/>
<line x1="551.90" y1="348.99" x2="555.90" y2="348.99" stroke="#2150a4" stroke-width="0.9"/>
<circle cx="553.90" cy="351.71" r="2.3" fill="#2150a4"/>
<line x1="568.70" y1="339.73" x2="568.70" y2="339.73" stroke="#e3222a" stroke-width="0.9"/>
<line x1="566.70" y1="339.73" x2="570.70" y2="339.73" stroke="#e3222a" stroke-width="0.9"/>
<line x1="566.70" y1="339.73" x2="570.70" y2="339.73" stroke="#e3222a" stroke-width="0.9"/>
<rect x="566.10" y="337.03" width="5.20" height="5.60" fill="#e8391e" stroke="none" stroke-width="1"/>
<line x1="592.70" y1="352.44" x2="592.70" y2="334.29" stroke="#2150a4" stroke-width="0.9"/>
<line x1="590.70" y1="352.44" x2="594.70" y2="352.44" stroke="#2150a4" stroke-width="0.9"/>
<line x1="590.70" y1="334.29" x2="594.70" y2="334.29" stroke="#2150a4" stroke-width="0.9"/>
<circle cx="592.70" cy="343.55" r="2.3" fill="#2150a4"/>
<line x1="607.40" y1="352.44" x2="607.40" y2="335.01" stroke="#e3222a" stroke-width="0.9"/>
<line x1="605.40" y1="352.44" x2="609.40" y2="352.44" stroke="#e3222a" stroke-width="0.9"/>
<line x1="605.40" y1="335.01" x2="609.40" y2="335.01" stroke="#e3222a" stroke-width="0.9"/>
<rect x="604.80" y="340.85" width="5.20" height="5.60" fill="#e8391e" stroke="none" stroke-width="1"/>
<line x1="631.40" y1="392.55" x2="631.40" y2="369.14" stroke="#2150a4" stroke-width="0.9"/>
<line x1="629.40" y1="392.55" x2="633.40" y2="392.55" stroke="#2150a4" stroke-width="0.9"/>
<line x1="629.40" y1="369.14" x2="633.40" y2="369.14" stroke="#2150a4" stroke-width="0.9"/>
<circle cx="631.40" cy="380.75" r="2.3" fill="#2150a4"/>
<line x1="645.70" y1="353.16" x2="645.70" y2="330.30" stroke="#e3222a" stroke-width="0.9"/>
<line x1="643.70" y1="353.16" x2="647.70" y2="353.16" stroke="#e3222a" stroke-width="0.9"/>
<line x1="643.70" y1="330.30" x2="647.70" y2="330.30" stroke="#e3222a" stroke-width="0.9"/>
<rect x="643.10" y="339.03" width="5.20" height="5.60" fill="#e8391e" stroke="none" stroke-width="1"/>
<text x="577.30" y="341.90" font-size="8.6" font-weight="bold" fill="#111" textLength="9.70" lengthAdjust="spacingAndGlyphs">***</text>
<text x="557.00" y="369.00" font-size="8.6" font-weight="bold" fill="#111" textLength="9.10" lengthAdjust="spacingAndGlyphs">***</text>
<text x="651.20" y="355.20" font-size="8.6" font-weight="bold" fill="#111" textLength="7.90" lengthAdjust="spacingAndGlyphs" transform="rotate(90 651.20 355.20)">***</text>
<text x="616.20" y="340.40" font-size="8.0" font-weight="bold" fill="#111" textLength="7.40" lengthAdjust="spacingAndGlyphs">ns</text>
<text x="596.10" y="362.30" font-size="8.0" font-weight="bold" fill="#111" textLength="8.70" lengthAdjust="spacingAndGlyphs">ns</text>
<text x="636.90" y="404.20" font-size="9.0" font-weight="bold" fill="#111">*</text>
<text x="96.70" y="288.80" font-size="11.0" font-weight="normal" fill="#111" textLength="134.30" lengthAdjust="spacingAndGlyphs" stroke="#111" stroke-width="0.4">Population vector correlation</text>
<text x="110.70" y="313.30" font-size="10.4" font-weight="bold" fill="#2150a4" textLength="17.20" lengthAdjust="spacingAndGlyphs">GNs</text>
<text x="216.80" y="313.30" font-size="10.4" font-weight="bold" fill="#e3222a" textLength="22.60" lengthAdjust="spacingAndGlyphs">ABNs</text>
<rect x="71.10" y="322.20" width="11.01" height="10.15" fill="#6a0e1f" stroke="none" stroke-width="1"/>
<rect x="82.11" y="322.20" width="11.01" height="10.15" fill="#b0202e" stroke="none" stroke-width="1"/>
<rect x="93.12" y="322.20" width="11.01" height="10.15" fill="#b0202e" stroke="none" stroke-width="1"/>
<rect x="104.13" y="322.20" width="11.01" height="10.15" fill="#d8614e" stroke="none" stroke-width="1"/>
<rect x="115.14" y="322.20" width="11.01" height="10.15" fill="#d8614e" stroke="none" stroke-width="1"/>
<rect x="126.15" y="322.20" width="11.01" height="10.15" fill="#d8614e" stroke="none" stroke-width="1"/>
<rect x="137.16" y="322.20" width="11.01" height="10.15" fill="#efa584" stroke="none" stroke-width="1"/>
<rect x="148.17" y="322.20" width="11.01" height="10.15" fill="#efa584" stroke="none" stroke-width="1"/>
<rect x="159.18" y="322.20" width="11.01" height="10.15" fill="#efa584" stroke="none" stroke-width="1"/>
<rect x="71.10" y="332.35" width="11.01" height="10.15" fill="#b0202e" stroke="none" stroke-width="1"/>
<rect x="82.11" y="332.35" width="11.01" height="10.15" fill="#6a0e1f" stroke="none" stroke-width="1"/>
<rect x="93.12" y="332.35" width="11.01" height="10.15" fill="#b0202e" stroke="none" stroke-width="1"/>
<rect x="104.13" y="332.35" width="11.01" height="10.15" fill="#b0202e" stroke="none" stroke-width="1"/>
<rect x="115.14" y="332.35" width="11.01" height="10.15" fill="#d8614e" stroke="none" stroke-width="1"/>
<rect x="126.15" y="332.35" width="11.01" height="10.15" fill="#d8614e" stroke="none" stroke-width="1"/>
<rect x="137.16" y="332.35" width="11.01" height="10.15" fill="#efa584" stroke="none" stroke-width="1"/>
<rect x="148.17" y="332.35" width="11.01" height="10.15" fill="#d8614e" stroke="none" stroke-width="1"/>
<rect x="159.18" y="332.35" width="11.01" height="10.15" fill="#fcd9c4" stroke="none" stroke-width="1"/>
<rect x="71.10" y="342.50" width="11.01" height="10.15" fill="#b0202e" stroke="none" stroke-width="1"/>
<rect x="82.11" y="342.50" width="11.01" height="10.15" fill="#b0202e" stroke="none" stroke-width="1"/>
<rect x="93.12" y="342.50" width="11.01" height="10.15" fill="#6a0e1f" stroke="none" stroke-width="1"/>
<rect x="104.13" y="342.50" width="11.01" height="10.15" fill="#b0202e" stroke="none" stroke-width="1"/>
<rect x="115.14" y="342.50" width="11.01" height="10.15" fill="#b0202e" stroke="none" stroke-width="1"/>
<rect x="126.15" y="342.50" width="11.01" height="10.15" fill="#b0202e" stroke="none" stroke-width="1"/>
<rect x="137.16" y="342.50" width="11.01" height="10.15" fill="#d8614e" stroke="none" stroke-width="1"/>
<rect x="148.17" y="342.50" width="11.01" height="10.15" fill="#d8614e" stroke="none" stroke-width="1"/>
<rect x="159.18" y="342.50" width="11.01" height="10.15" fill="#efa584" stroke="none" stroke-width="1"/>
<rect x="71.10" y="352.65" width="11.01" height="10.15" fill="#d8614e" stroke="none" stroke-width="1"/>
<rect x="82.11" y="352.65" width="11.01" height="10.15" fill="#b0202e" stroke="none" stroke-width="1"/>
<rect x="93.12" y="352.65" width="11.01" height="10.15" fill="#b0202e" stroke="none" stroke-width="1"/>
<rect x="104.13" y="352.65" width="11.01" height="10.15" fill="#6a0e1f" stroke="none" stroke-width="1"/>
<rect x="115.14" y="352.65" width="11.01" height="10.15" fill="#d8614e" stroke="none" stroke-width="1"/>
<rect x="126.15" y="352.65" width="11.01" height="10.15" fill="#b0202e" stroke="none" stroke-width="1"/>
<rect x="137.16" y="352.65" width="11.01" height="10.15" fill="#d8614e" stroke="none" stroke-width="1"/>
<rect x="148.17" y="352.65" width="11.01" height="10.15" fill="#efa584" stroke="none" stroke-width="1"/>
<rect x="159.18" y="352.65" width="11.01" height="10.15" fill="#fcd9c4" stroke="none" stroke-width="1"/>
<rect x="71.10" y="362.80" width="11.01" height="10.15" fill="#d8614e" stroke="none" stroke-width="1"/>
<rect x="82.11" y="362.80" width="11.01" height="10.15" fill="#d8614e" stroke="none" stroke-width="1"/>
<rect x="93.12" y="362.80" width="11.01" height="10.15" fill="#b0202e" stroke="none" stroke-width="1"/>
<rect x="104.13" y="362.80" width="11.01" height="10.15" fill="#d8614e" stroke="none" stroke-width="1"/>
<rect x="115.14" y="362.80" width="11.01" height="10.15" fill="#6a0e1f" stroke="none" stroke-width="1"/>
<rect x="126.15" y="362.80" width="11.01" height="10.15" fill="#6a0e1f" stroke="none" stroke-width="1"/>
<rect x="137.16" y="362.80" width="11.01" height="10.15" fill="#b0202e" stroke="none" stroke-width="1"/>
<rect x="148.17" y="362.80" width="11.01" height="10.15" fill="#d8614e" stroke="none" stroke-width="1"/>
<rect x="159.18" y="362.80" width="11.01" height="10.15" fill="#efa584" stroke="none" stroke-width="1"/>
<rect x="71.10" y="372.95" width="11.01" height="10.15" fill="#d8614e" stroke="none" stroke-width="1"/>
<rect x="82.11" y="372.95" width="11.01" height="10.15" fill="#d8614e" stroke="none" stroke-width="1"/>
<rect x="93.12" y="372.95" width="11.01" height="10.15" fill="#b0202e" stroke="none" stroke-width="1"/>
<rect x="104.13" y="372.95" width="11.01" height="10.15" fill="#b0202e" stroke="none" stroke-width="1"/>
<rect x="115.14" y="372.95" width="11.01" height="10.15" fill="#6a0e1f" stroke="none" stroke-width="1"/>
<rect x="126.15" y="372.95" width="11.01" height="10.15" fill="#6a0e1f" stroke="none" stroke-width="1"/>
<rect x="137.16" y="372.95" width="11.01" height="10.15" fill="#b0202e" stroke="none" stroke-width="1"/>
<rect x="148.17" y="372.95" width="11.01" height="10.15" fill="#d8614e" stroke="none" stroke-width="1"/>
<rect x="159.18" y="372.95" width="11.01" height="10.15" fill="#efa584" stroke="none" stroke-width="1"/>
<rect x="71.10" y="383.10" width="11.01" height="10.15" fill="#efa584" stroke="none" stroke-width="1"/>
<rect x="82.11" y="383.10" width="11.01" height="10.15" fill="#efa584" stroke="none" stroke-width="1"/>
<rect x="93.12" y="383.10" width="11.01" height="10.15" fill="#d8614e" stroke="none" stroke-width="1"/>
<rect x="104.13" y="383.10" width="11.01" height="10.15" fill="#d8614e" stroke="none" stroke-width="1"/>
<rect x="115.14" y="383.10" width="11.01" height="10.15" fill="#b0202e" stroke="none" stroke-width="1"/>
<rect x="126.15" y="383.10" width="11.01" height="10.15" fill="#b0202e" stroke="none" stroke-width="1"/>
<rect x="137.16" y="383.10" width="11.01" height="10.15" fill="#6a0e1f" stroke="none" stroke-width="1"/>
<rect x="148.17" y="383.10" width="11.01" height="10.15" fill="#b0202e" stroke="none" stroke-width="1"/>
<rect x="159.18" y="383.10" width="11.01" height="10.15" fill="#efa584" stroke="none" stroke-width="1"/>
<rect x="71.10" y="393.25" width="11.01" height="10.15" fill="#efa584" stroke="none" stroke-width="1"/>
<rect x="82.11" y="393.25" width="11.01" height="10.15" fill="#d8614e" stroke="none" stroke-width="1"/>
<rect x="93.12" y="393.25" width="11.01" height="10.15" fill="#d8614e" stroke="none" stroke-width="1"/>
<rect x="104.13" y="393.25" width="11.01" height="10.15" fill="#efa584" stroke="none" stroke-width="1"/>
<rect x="115.14" y="393.25" width="11.01" height="10.15" fill="#d8614e" stroke="none" stroke-width="1"/>
<rect x="126.15" y="393.25" width="11.01" height="10.15" fill="#d8614e" stroke="none" stroke-width="1"/>
<rect x="137.16" y="393.25" width="11.01" height="10.15" fill="#b0202e" stroke="none" stroke-width="1"/>
<rect x="148.17" y="393.25" width="11.01" height="10.15" fill="#6a0e1f" stroke="none" stroke-width="1"/>
<rect x="159.18" y="393.25" width="11.01" height="10.15" fill="#efa584" stroke="none" stroke-width="1"/>
<rect x="71.10" y="403.40" width="11.01" height="10.15" fill="#efa584" stroke="none" stroke-width="1"/>
<rect x="82.11" y="403.40" width="11.01" height="10.15" fill="#fcd9c4" stroke="none" stroke-width="1"/>
<rect x="93.12" y="403.40" width="11.01" height="10.15" fill="#efa584" stroke="none" stroke-width="1"/>
<rect x="104.13" y="403.40" width="11.01" height="10.15" fill="#fcd9c4" stroke="none" stroke-width="1"/>
<rect x="115.14" y="403.40" width="11.01" height="10.15" fill="#efa584" stroke="none" stroke-width="1"/>
<rect x="126.15" y="403.40" width="11.01" height="10.15" fill="#efa584" stroke="none" stroke-width="1"/>
<rect x="137.16" y="403.40" width="11.01" height="10.15" fill="#efa584" stroke="none" stroke-width="1"/>
<rect x="148.17" y="403.40" width="11.01" height="10.15" fill="#efa584" stroke="none" stroke-width="1"/>
<rect x="159.18" y="403.40" width="11.01" height="10.15" fill="#6a0e1f" stroke="none" stroke-width="1"/>
<line x1="71.10" y1="322.20" x2="71.10" y2="413.55" stroke="#4a1a1a" stroke-width="0.6" opacity="0.8"/>
<line x1="82.11" y1="322.20" x2="82.11" y2="413.55" stroke="#4a1a1a" stroke-width="0.6" opacity="0.8"/>
<line x1="93.12" y1="322.20" x2="93.12" y2="413.55" stroke="#4a1a1a" stroke-width="0.6" opacity="0.8"/>
<line x1="104.13" y1="322.20" x2="104.13" y2="413.55" stroke="#4a1a1a" stroke-width="0.6" opacity="0.8"/>
<line x1="115.14" y1="322.20" x2="115.14" y2="413.55" stroke="#4a1a1a" stroke-width="0.6" opacity="0.8"/>
<line x1="126.15" y1="322.20" x2="126.15" y2="413.55" stroke="#4a1a1a" stroke-width="0.6" opacity="0.8"/>
<line x1="137.16" y1="322.20" x2="137.16" y2="413.55" stroke="#4a1a1a" stroke-width="0.6" opacity="0.8"/>
<line x1="148.17" y1="322.20" x2="148.17" y2="413.55" stroke="#4a1a1a" stroke-width="0.6" opacity="0.8"/>
<line x1="159.18" y1="322.20" x2="159.18" y2="413.55" stroke="#4a1a1a" stroke-width="0.6" opacity="0.8"/>
<line x1="170.19" y1="322.20" x2="170.19" y2="413.55" stroke="#4a1a1a" stroke-width="0.6" opacity="0.8"/>
<line x1="71.10" y1="322.20" x2="170.19" y2="322.20" stroke="#4a1a1a" stroke-width="0.6" opacity="0.8"/>
<line x1="71.10" y1="332.35" x2="170.19" y2="332.35" stroke="#4a1a1a" stroke-width="0.6" opacity="0.8"/>
<line x1="71.10" y1="342.50" x2="170.19" y2="342.50" stroke="#4a1a1a" stroke-width="0.6" opacity="0.8"/>
<line x1="71.10" y1="352.65" x2="170.19" y2="352.65" stroke="#4a1a1a" stroke-width="0.6" opacity="0.8"/>
<line x1="71.10" y1="362.80" x2="170.19" y2="362.80" stroke="#4a1a1a" stroke-width="0.6" opacity="0.8"/>
<line x1="71.10" y1="372.95" x2="170.19" y2="372.95" stroke="#4a1a1a" stroke-width="0.6" opacity="0.8"/>
<line x1="71.10" y1="383.10" x2="170.19" y2="383.10" stroke="#4a1a1a" stroke-width="0.6" opacity="0.8"/>
<line x1="71.10" y1="393.25" x2="170.19" y2="393.25" stroke="#4a1a1a" stroke-width="0.6" opacity="0.8"/>
<line x1="71.10" y1="403.40" x2="170.19" y2="403.40" stroke="#4a1a1a" stroke-width="0.6" opacity="0.8"/>
<line x1="71.10" y1="413.55" x2="170.19" y2="413.55" stroke="#4a1a1a" stroke-width="0.6" opacity="0.8"/>
<rect x="71.10" y="322.20" width="99.09" height="91.35" fill="none" stroke="#222" stroke-width="0.8"/>
<rect x="175.80" y="322.20" width="10.90" height="10.06" fill="#6a0e1f" stroke="none" stroke-width="1"/>
<rect x="186.70" y="322.20" width="10.90" height="10.06" fill="#b0202e" stroke="none" stroke-width="1"/>
<rect x="197.60" y="322.20" width="10.90" height="10.06" fill="#d8614e" stroke="none" stroke-width="1"/>
<rect x="208.50" y="322.20" width="10.90" height="10.06" fill="#d8614e" stroke="none" stroke-width="1"/>
<rect x="219.40" y="322.20" width="10.90" height="10.06" fill="#d8614e" stroke="none" stroke-width="1"/>
<rect x="230.30" y="322.20" width="10.90" height="10.06" fill="#d8614e" stroke="none" stroke-width="1"/>
<rect x="241.20" y="322.20" width="10.90" height="10.06" fill="#d8614e" stroke="none" stroke-width="1"/>
<rect x="252.10" y="322.20" width="10.90" height="10.06" fill="#d8614e" stroke="none" stroke-width="1"/>
<rect x="263.00" y="322.20" width="7.00" height="10.06" fill="#d8614e" stroke="none" stroke-width="1"/>
<rect x="270.00" y="322.20" width="4.40" height="10.06" fill="#d8614e" stroke="none" stroke-width="1"/>
<rect x="175.80" y="332.26" width="10.90" height="10.06" fill="#b0202e" stroke="none" stroke-width="1"/>
<rect x="186.70" y="332.26" width="10.90" height="10.06" fill="#6a0e1f" stroke="none" stroke-width="1"/>
<rect x="197.60" y="332.26" width="10.90" height="10.06" fill="#b0202e" stroke="none" stroke-width="1"/>
<rect x="208.50" y="332.26" width="10.90" height="10.06" fill="#6a0e1f" stroke="none" stroke-width="1"/>
<rect x="219.40" y="332.26" width="10.90" height="10.06" fill="#b0202e" stroke="none" stroke-width="1"/>
<rect x="230.30" y="332.26" width="10.90" height="10.06" fill="#b0202e" stroke="none" stroke-width="1"/>
<rect x="241.20" y="332.26" width="10.90" height="10.06" fill="#b0202e" stroke="none" stroke-width="1"/>
<rect x="252.10" y="332.26" width="10.90" height="10.06" fill="#b0202e" stroke="none" stroke-width="1"/>
<rect x="263.00" y="332.26" width="7.00" height="10.06" fill="#b0202e" stroke="none" stroke-width="1"/>
<rect x="270.00" y="332.26" width="4.40" height="10.06" fill="#b0202e" stroke="none" stroke-width="1"/>
<rect x="175.80" y="342.32" width="10.90" height="10.06" fill="#d8614e" stroke="none" stroke-width="1"/>
<rect x="186.70" y="342.32" width="10.90" height="10.06" fill="#b0202e" stroke="none" stroke-width="1"/>
<rect x="197.60" y="342.32" width="10.90" height="10.06" fill="#6a0e1f" stroke="none" stroke-width="1"/>
<rect x="208.50" y="342.32" width="10.90" height="10.06" fill="#b0202e" stroke="none" stroke-width="1"/>
<rect x="219.40" y="342.32" width="10.90" height="10.06" fill="#b0202e" stroke="none" stroke-width="1"/>
<rect x="230.30" y="342.32" width="10.90" height="10.06" fill="#d8614e" stroke="none" stroke-width="1"/>
<rect x="241.20" y="342.32" width="10.90" height="10.06" fill="#b0202e" stroke="none" stroke-width="1"/>
<rect x="252.10" y="342.32" width="10.90" height="10.06" fill="#b0202e" stroke="none" stroke-width="1"/>
<rect x="263.00" y="342.32" width="7.00" height="10.06" fill="#d8614e" stroke="none" stroke-width="1"/>
<rect x="270.00" y="342.32" width="4.40" height="10.06" fill="#d8614e" stroke="none" stroke-width="1"/>
<rect x="175.80" y="352.38" width="10.90" height="10.06" fill="#d8614e" stroke="none" stroke-width="1"/>
<rect x="186.70" y="352.38" width="10.90" height="10.06" fill="#6a0e1f" stroke="none" stroke-width="1"/>
<rect x="197.60" y="352.38" width="10.90" height="10.06" fill="#b0202e" stroke="none" stroke-width="1"/>
<rect x="208.50" y="352.38" width="10.90" height="10.06" fill="#6a0e1f" stroke="none" stroke-width="1"/>
<rect x="219.40" y="352.38" width="10.90" height="10.06" fill="#6a0e1f" stroke="none" stroke-width="1"/>
<rect x="230.30" y="352.38" width="10.90" height="10.06" fill="#b0202e" stroke="none" stroke-width="1"/>
<rect x="241.20" y="352.38" width="10.90" height="10.06" fill="#b0202e" stroke="none" stroke-width="1"/>
<rect x="252.10" y="352.38" width="10.90" height="10.06" fill="#d8614e" stroke="none" stroke-width="1"/>
<rect x="263.00" y="352.38" width="7.00" height="10.06" fill="#d8614e" stroke="none" stroke-width="1"/>
<rect x="270.00" y="352.38" width="4.40" height="10.06" fill="#d8614e" stroke="none" stroke-width="1"/>
<rect x="175.80" y="362.44" width="10.90" height="10.06" fill="#d8614e" stroke="none" stroke-width="1"/>
<rect x="186.70" y="362.44" width="10.90" height="10.06" fill="#b0202e" stroke="none" stroke-width="1"/>
<rect x="197.60" y="362.44" width="10.90" height="10.06" fill="#b0202e" stroke="none" stroke-width="1"/>
<rect x="208.50" y="362.44" width="10.90" height="10.06" fill="#6a0e1f" stroke="none" stroke-width="1"/>
<rect x="219.40" y="362.44" width="10.90" height="10.06" fill="#6a0e1f" stroke="none" stroke-width="1"/>
<rect x="230.30" y="362.44" width="10.90" height="10.06" fill="#b0202e" stroke="none" stroke-width="1"/>
<rect x="241.20" y="362.44" width="10.90" height="10.06" fill="#b0202e" stroke="none" stroke-width="1"/>
<rect x="252.10" y="362.44" width="10.90" height="10.06" fill="#b0202e" stroke="none" stroke-width="1"/>
<rect x="263.00" y="362.44" width="7.00" height="10.06" fill="#b0202e" stroke="none" stroke-width="1"/>
<rect x="270.00" y="362.44" width="4.40" height="10.06" fill="#b0202e" stroke="none" stroke-width="1"/>
<rect x="175.80" y="372.50" width="10.90" height="10.06" fill="#d8614e" stroke="none" stroke-width="1"/>
<rect x="186.70" y="372.50" width="10.90" height="10.06" fill="#b0202e" stroke="none" stroke-width="1"/>
<rect x="197.60" y="372.50" width="10.90" height="10.06" fill="#d8614e" stroke="none" stroke-width="1"/>
<rect x="208.50" y="372.50" width="10.90" height="10.06" fill="#b0202e" stroke="none" stroke-width="1"/>
<rect x="219.40" y="372.50" width="10.90" height="10.06" fill="#b0202e" stroke="none" stroke-width="1"/>
<rect x="230.30" y="372.50" width="10.90" height="10.06" fill="#6a0e1f" stroke="none" stroke-width="1"/>
<rect x="241.20" y="372.50" width="10.90" height="10.06" fill="#b0202e" stroke="none" stroke-width="1"/>
<rect x="252.10" y="372.50" width="10.90" height="10.06" fill="#d8614e" stroke="none" stroke-width="1"/>
<rect x="263.00" y="372.50" width="7.00" height="10.06" fill="#d8614e" stroke="none" stroke-width="1"/>
<rect x="270.00" y="372.50" width="4.40" height="10.06" fill="#d8614e" stroke="none" stroke-width="1"/>
<rect x="175.80" y="382.56" width="10.90" height="10.06" fill="#d8614e" stroke="none" stroke-width="1"/>
<rect x="186.70" y="382.56" width="10.90" height="10.06" fill="#b0202e" stroke="none" stroke-width="1"/>
<rect x="197.60" y="382.56" width="10.90" height="10.06" fill="#b0202e" stroke="none" stroke-width="1"/>
<rect x="208.50" y="382.56" width="10.90" height="10.06" fill="#b0202e" stroke="none" stroke-width="1"/>
<rect x="219.40" y="382.56" width="10.90" height="10.06" fill="#b0202e" stroke="none" stroke-width="1"/>
<rect x="230.30" y="382.56" width="10.90" height="10.06" fill="#b0202e" stroke="none" stroke-width="1"/>
<rect x="241.20" y="382.56" width="10.90" height="10.06" fill="#6a0e1f" stroke="none" stroke-width="1"/>
<rect x="252.10" y="382.56" width="10.90" height="10.06" fill="#b0202e" stroke="none" stroke-width="1"/>
<rect x="263.00" y="382.56" width="7.00" height="10.06" fill="#d8614e" stroke="none" stroke-width="1"/>
<rect x="270.00" y="382.56" width="4.40" height="10.06" fill="#d8614e" stroke="none" stroke-width="1"/>
<rect x="175.80" y="392.62" width="10.90" height="10.06" fill="#d8614e" stroke="none" stroke-width="1"/>
<rect x="186.70" y="392.62" width="10.90" height="10.06" fill="#b0202e" stroke="none" stroke-width="1"/>
<rect x="197.60" y="392.62" width="10.90" height="10.06" fill="#b0202e" stroke="none" stroke-width="1"/>
<rect x="208.50" y="392.62" width="10.90" height="10.06" fill="#d8614e" stroke="none" stroke-width="1"/>
<rect x="219.40" y="392.62" width="10.90" height="10.06" fill="#b0202e" stroke="none" stroke-width="1"/>
<rect x="230.30" y="392.62" width="10.90" height="10.06" fill="#d8614e" stroke="none" stroke-width="1"/>
<rect x="241.20" y="392.62" width="10.90" height="10.06" fill="#b0202e" stroke="none" stroke-width="1"/>
<rect x="252.10" y="392.62" width="10.90" height="10.06" fill="#6a0e1f" stroke="none" stroke-width="1"/>
<rect x="263.00" y="392.62" width="7.00" height="10.06" fill="#d8614e" stroke="none" stroke-width="1"/>
<rect x="270.00" y="392.62" width="4.40" height="10.06" fill="#d8614e" stroke="none" stroke-width="1"/>
<rect x="175.80" y="402.68" width="10.90" height="10.06" fill="#d8614e" stroke="none" stroke-width="1"/>
<rect x="186.70" y="402.68" width="10.90" height="10.06" fill="#b0202e" stroke="none" stroke-width="1"/>
<rect x="197.60" y="402.68" width="10.90" height="10.06" fill="#d8614e" stroke="none" stroke-width="1"/>
<rect x="208.50" y="402.68" width="10.90" height="10.06" fill="#d8614e" stroke="none" stroke-width="1"/>
<rect x="219.40" y="402.68" width="10.90" height="10.06" fill="#b0202e" stroke="none" stroke-width="1"/>
<rect x="230.30" y="402.68" width="10.90" height="10.06" fill="#d8614e" stroke="none" stroke-width="1"/>
<rect x="241.20" y="402.68" width="10.90" height="10.06" fill="#d8614e" stroke="none" stroke-width="1"/>
<rect x="252.10" y="402.68" width="10.90" height="10.06" fill="#d8614e" stroke="none" stroke-width="1"/>
<rect x="263.00" y="402.68" width="7.00" height="10.06" fill="#6a0e1f" stroke="none" stroke-width="1"/>
<rect x="270.00" y="402.68" width="4.40" height="10.06" fill="#6a0e1f" stroke="none" stroke-width="1"/>
<line x1="175.80" y1="322.20" x2="175.80" y2="412.74" stroke="#4a1a1a" stroke-width="0.6" opacity="0.8"/>
<line x1="186.70" y1="322.20" x2="186.70" y2="412.74" stroke="#4a1a1a" stroke-width="0.6" opacity="0.8"/>
<line x1="197.60" y1="322.20" x2="197.60" y2="412.74" stroke="#4a1a1a" stroke-width="0.6" opacity="0.8"/>
<line x1="208.50" y1="322.20" x2="208.50" y2="412.74" stroke="#4a1a1a" stroke-width="0.6" opacity="0.8"/>
<line x1="219.40" y1="322.20" x2="219.40" y2="412.74" stroke="#4a1a1a" stroke-width="0.6" opacity="0.8"/>
<line x1="230.30" y1="322.20" x2="230.30" y2="412.74" stroke="#4a1a1a" stroke-width="0.6" opacity="0.8"/>
<line x1="241.20" y1="322.20" x2="241.20" y2="412.74" stroke="#4a1a1a" stroke-width="0.6" opacity="0.8"/>
<line x1="252.10" y1="322.20" x2="252.10" y2="412.74" stroke="#4a1a1a" stroke-width="0.6" opacity="0.8"/>
<line x1="263.00" y1="322.20" x2="263.00" y2="412.74" stroke="#4a1a1a" stroke-width="0.6" opacity="0.8"/>
<line x1="270.00" y1="322.20" x2="270.00" y2="412.74" stroke="#4a1a1a" stroke-width="0.6" opacity="0.8"/>
<line x1="274.40" y1="322.20" x2="274.40" y2="412.74" stroke="#4a1a1a" stroke-width="0.6" opacity="0.8"/>
<line x1="175.80" y1="322.20" x2="274.40" y2="322.20" stroke="#4a1a1a" stroke-width="0.6" opacity="0.8"/>
<line x1="175.80" y1="332.26" x2="274.40" y2="332.26" stroke="#4a1a1a" stroke-width="0.6" opacity="0.8"/>
<line x1="175.80" y1="342.32" x2="274.40" y2="342.32" stroke="#4a1a1a" stroke-width="0.6" opacity="0.8"/>
<line x1="175.80" y1="352.38" x2="274.40" y2="352.38" stroke="#4a1a1a" stroke-width="0.6" opacity="0.8"/>
<line x1="175.80" y1="362.44" x2="274.40" y2="362.44" stroke="#4a1a1a" stroke-width="0.6" opacity="0.8"/>
<line x1="175.80" y1="372.50" x2="274.40" y2="372.50" stroke="#4a1a1a" stroke-width="0.6" opacity="0.8"/>
<line x1="175.80" y1="382.56" x2="274.40" y2="382.56" stroke="#4a1a1a" stroke-width="0.6" opacity="0.8"/>
<line x1="175.80" y1="392.62" x2="274.40" y2="392.62" stroke="#4a1a1a" stroke-width="0.6" opacity="0.8"/>
<line x1="175.80" y1="402.68" x2="274.40" y2="402.68" stroke="#4a1a1a" stroke-width="0.6" opacity="0.8"/>
<line x1="175.80" y1="412.74" x2="274.40" y2="412.74" stroke="#4a1a1a" stroke-width="0.6" opacity="0.8"/>
<rect x="175.80" y="322.20" width="98.60" height="90.54" fill="none" stroke="#222" stroke-width="0.8"/>
<rect x="37.40" y="322.70" width="10.70" height="18.30" fill="#6a0e1f" stroke="none" stroke-width="1"/>
<rect x="37.40" y="341.00" width="10.70" height="18.50" fill="#b0202e" stroke="none" stroke-width="1"/>
<rect x="37.40" y="359.50" width="10.70" height="17.80" fill="#d8614e" stroke="none" stroke-width="1"/>
<rect x="37.40" y="377.30" width="10.70" height="19.00" fill="#efa584" stroke="none" stroke-width="1"/>
<rect x="37.40" y="396.30" width="10.70" height="8.10" fill="#fcd9c4" stroke="none" stroke-width="1"/>
<rect x="37.40" y="404.40" width="10.70" height="9.70" fill="#f6f6f5" stroke="none" stroke-width="1"/>
<rect x="37.40" y="322.70" width="10.70" height="91.40" fill="none" stroke="#333" stroke-width="0.7"/>
<text x="34.20" y="325.60" font-size="8.8" font-weight="normal" fill="#000" text-anchor="end">1</text>
<text x="35.60" y="371.80" font-size="8.8" font-weight="normal" fill="#000" text-anchor="end" textLength="10.60" lengthAdjust="spacingAndGlyphs">0.5</text>
<text x="34.20" y="416.00" font-size="8.8" font-weight="normal" fill="#000" text-anchor="end">0</text>
<text x="23.40" y="387.40" font-size="8.8" font-weight="bold" fill="#000" textLength="40.60" lengthAdjust="spacingAndGlyphs" transform="rotate(-90 23.40 387.40)">Correlation</text>
<text x="68.80" y="330.40" font-size="8.4" font-weight="bold" fill="#000" text-anchor="end" textLength="8.40" lengthAdjust="spacingAndGlyphs">A1</text>
<text x="68.80" y="340.55" font-size="8.4" font-weight="bold" fill="#000" text-anchor="end" textLength="8.40" lengthAdjust="spacingAndGlyphs">A2</text>
<text x="68.80" y="350.70" font-size="8.4" font-weight="bold" fill="#000" text-anchor="end" textLength="8.40" lengthAdjust="spacingAndGlyphs">A3</text>
<text x="68.80" y="360.85" font-size="8.4" font-weight="bold" fill="#000" text-anchor="end" textLength="8.40" lengthAdjust="spacingAndGlyphs">A4</text>
<text x="68.80" y="371.00" font-size="8.4" font-weight="bold" fill="#000" text-anchor="end" textLength="8.40" lengthAdjust="spacingAndGlyphs">A5</text>
<text x="68.80" y="381.15" font-size="8.4" font-weight="bold" fill="#000" text-anchor="end" textLength="8.40" lengthAdjust="spacingAndGlyphs">A6</text>
<text x="68.80" y="391.30" font-size="8.4" font-weight="bold" fill="#000" text-anchor="end" textLength="14.40" lengthAdjust="spacingAndGlyphs">preS</text>
<text x="68.80" y="401.45" font-size="8.4" font-weight="bold" fill="#000" text-anchor="end" textLength="17.00" lengthAdjust="spacingAndGlyphs">postS</text>
<text x="68.80" y="411.60" font-size="8.4" font-weight="bold" fill="#000" text-anchor="end" textLength="15.00" lengthAdjust="spacingAndGlyphs">REM</text>
<text x="76.80" y="421.80" font-size="8.2" font-weight="bold" fill="#000" text-anchor="middle" textLength="7.90" lengthAdjust="spacingAndGlyphs">A1</text>
<text x="87.81" y="421.80" font-size="8.2" font-weight="bold" fill="#000" text-anchor="middle" textLength="7.90" lengthAdjust="spacingAndGlyphs">A2</text>
<text x="98.82" y="421.80" font-size="8.2" font-weight="bold" fill="#000" text-anchor="middle" textLength="7.90" lengthAdjust="spacingAndGlyphs">A3</text>
<text x="109.83" y="421.80" font-size="8.2" font-weight="bold" fill="#000" text-anchor="middle" textLength="7.90" lengthAdjust="spacingAndGlyphs">A4</text>
<text x="120.84" y="421.80" font-size="8.2" font-weight="bold" fill="#000" text-anchor="middle" textLength="7.90" lengthAdjust="spacingAndGlyphs">A5</text>
<text x="131.85" y="421.80" font-size="8.2" font-weight="bold" fill="#000" text-anchor="middle" textLength="7.90" lengthAdjust="spacingAndGlyphs">A6</text>
<text x="146.26" y="421.00" font-size="8.0" font-weight="bold" fill="#000" text-anchor="end" textLength="13.00" lengthAdjust="spacingAndGlyphs" transform="rotate(-45 146.26 421.00)">preS</text>
<text x="157.27" y="421.00" font-size="8.0" font-weight="bold" fill="#000" text-anchor="end" textLength="16.40" lengthAdjust="spacingAndGlyphs" transform="rotate(-45 157.27 421.00)">postS</text>
<text x="168.28" y="421.00" font-size="8.0" font-weight="bold" fill="#000" text-anchor="end" textLength="13.60" lengthAdjust="spacingAndGlyphs" transform="rotate(-45 168.28 421.00)">REM</text>
<text x="181.47" y="421.80" font-size="8.2" font-weight="bold" fill="#000" text-anchor="middle" textLength="7.90" lengthAdjust="spacingAndGlyphs">A1</text>
<text x="192.42" y="421.80" font-size="8.2" font-weight="bold" fill="#000" text-anchor="middle" textLength="7.90" lengthAdjust="spacingAndGlyphs">A2</text>
<text x="203.38" y="421.80" font-size="8.2" font-weight="bold" fill="#000" text-anchor="middle" textLength="7.90" lengthAdjust="spacingAndGlyphs">A3</text>
<text x="214.32" y="421.80" font-size="8.2" font-weight="bold" fill="#000" text-anchor="middle" textLength="7.90" lengthAdjust="spacingAndGlyphs">A4</text>
<text x="225.28" y="421.80" font-size="8.2" font-weight="bold" fill="#000" text-anchor="middle" textLength="7.90" lengthAdjust="spacingAndGlyphs">A5</text>
<text x="236.22" y="421.80" font-size="8.2" font-weight="bold" fill="#000" text-anchor="middle" textLength="7.90" lengthAdjust="spacingAndGlyphs">A6</text>
<text x="250.57" y="421.00" font-size="8.0" font-weight="bold" fill="#000" text-anchor="end" textLength="13.00" lengthAdjust="spacingAndGlyphs" transform="rotate(-45 250.57 421.00)">preS</text>
<text x="261.53" y="421.00" font-size="8.0" font-weight="bold" fill="#000" text-anchor="end" textLength="16.40" lengthAdjust="spacingAndGlyphs" transform="rotate(-45 261.53 421.00)">postS</text>
<text x="272.48" y="421.00" font-size="8.0" font-weight="bold" fill="#000" text-anchor="end" textLength="13.60" lengthAdjust="spacingAndGlyphs" transform="rotate(-45 272.48 421.00)">REM</text>
<text x="284.60" y="374.10" font-size="20.6" font-weight="bold" fill="#111">≈</text>
<text x="358.60" y="288.90" font-size="10.6" font-weight="normal" fill="#111" textLength="59.20" lengthAdjust="spacingAndGlyphs" stroke="#111" stroke-width="0.4">Linear Model</text>
<rect x="339.40" y="298.30" width="6.10" height="5.42" fill="#f7f7f7" stroke="none" stroke-width="1"/>
<rect x="345.50" y="298.30" width="6.10" height="5.42" fill="#6a0e1f" stroke="none" stroke-width="1"/>
<rect x="351.60" y="298.30" width="6.10" height="5.42" fill="#6a0e1f" stroke="none" stroke-width="1"/>
<rect x="357.70" y="298.30" width="6.10" height="5.42" fill="#6a0e1f" stroke="none" stroke-width="1"/>
<rect x="363.80" y="298.30" width="6.10" height="5.42" fill="#6a0e1f" stroke="none" stroke-width="1"/>
<rect x="369.90" y="298.30" width="6.10" height="5.42" fill="#6a0e1f" stroke="none" stroke-width="1"/>
<rect x="376.00" y="298.30" width="6.10" height="5.42" fill="#6a0e1f" stroke="none" stroke-width="1"/>
<rect x="382.10" y="298.30" width="6.10" height="5.42" fill="#6a0e1f" stroke="none" stroke-width="1"/>
<rect x="388.20" y="298.30" width="6.10" height="5.42" fill="#6a0e1f" stroke="none" stroke-width="1"/>
<rect x="339.40" y="303.72" width="6.10" height="5.42" fill="#6a0e1f" stroke="none" stroke-width="1"/>
<rect x="345.50" y="303.72" width="6.10" height="5.42" fill="#f7f7f7" stroke="none" stroke-width="1"/>
<rect x="351.60" y="303.72" width="6.10" height="5.42" fill="#6a0e1f" stroke="none" stroke-width="1"/>
<rect x="357.70" y="303.72" width="6.10" height="5.42" fill="#6a0e1f" stroke="none" stroke-width="1"/>
<rect x="363.80" y="303.72" width="6.10" height="5.42" fill="#6a0e1f" stroke="none" stroke-width="1"/>
<rect x="369.90" y="303.72" width="6.10" height="5.42" fill="#6a0e1f" stroke="none" stroke-width="1"/>
<rect x="376.00" y="303.72" width="6.10" height="5.42" fill="#6a0e1f" stroke="none" stroke-width="1"/>
<rect x="382.10" y="303.72" width="6.10" height="5.42" fill="#6a0e1f" stroke="none" stroke-width="1"/>
<rect x="388.20" y="303.72" width="6.10" height="5.42" fill="#6a0e1f" stroke="none" stroke-width="1"/>
<rect x="339.40" y="309.14" width="6.10" height="5.42" fill="#6a0e1f" stroke="none" stroke-width="1"/>
<rect x="345.50" y="309.14" width="6.10" height="5.42" fill="#6a0e1f" stroke="none" stroke-width="1"/>
<rect x="351.60" y="309.14" width="6.10" height="5.42" fill="#f7f7f7" stroke="none" stroke-width="1"/>
<rect x="357.70" y="309.14" width="6.10" height="5.42" fill="#6a0e1f" stroke="none" stroke-width="1"/>
<rect x="363.80" y="309.14" width="6.10" height="5.42" fill="#6a0e1f" stroke="none" stroke-width="1"/>
<rect x="369.90" y="309.14" width="6.10" height="5.42" fill="#6a0e1f" stroke="none" stroke-width="1"/>
<rect x="376.00" y="309.14" width="6.10" height="5.42" fill="#6a0e1f" stroke="none" stroke-width="1"/>
<rect x="382.10" y="309.14" width="6.10" height="5.42" fill="#6a0e1f" stroke="none" stroke-width="1"/>
<rect x="388.20" y="309.14" width="6.10" height="5.42" fill="#6a0e1f" stroke="none" stroke-width="1"/>
<rect x="339.40" y="314.56" width="6.10" height="5.42" fill="#6a0e1f" stroke="none" stroke-width="1"/>
<rect x="345.50" y="314.56" width="6.10" height="5.42" fill="#6a0e1f" stroke="none" stroke-width="1"/>
<rect x="351.60" y="314.56" width="6.10" height="5.42" fill="#6a0e1f" stroke="none" stroke-width="1"/>
<rect x="357.70" y="314.56" width="6.10" height="5.42" fill="#f7f7f7" stroke="none" stroke-width="1"/>
<rect x="363.80" y="314.56" width="6.10" height="5.42" fill="#6a0e1f" stroke="none" stroke-width="1"/>
<rect x="369.90" y="314.56" width="6.10" height="5.42" fill="#6a0e1f" stroke="none" stroke-width="1"/>
<rect x="376.00" y="314.56" width="6.10" height="5.42" fill="#6a0e1f" stroke="none" stroke-width="1"/>
<rect x="382.10" y="314.56" width="6.10" height="5.42" fill="#6a0e1f" stroke="none" stroke-width="1"/>
<rect x="388.20" y="314.56" width="6.10" height="5.42" fill="#6a0e1f" stroke="none" stroke-width="1"/>
<rect x="339.40" y="319.98" width="6.10" height="5.42" fill="#6a0e1f" stroke="none" stroke-width="1"/>
<rect x="345.50" y="319.98" width="6.10" height="5.42" fill="#6a0e1f" stroke="none" stroke-width="1"/>
<rect x="351.60" y="319.98" width="6.10" height="5.42" fill="#6a0e1f" stroke="none" stroke-width="1"/>
<rect x="357.70" y="319.98" width="6.10" height="5.42" fill="#6a0e1f" stroke="none" stroke-width="1"/>
<rect x="363.80" y="319.98" width="6.10" height="5.42" fill="#f7f7f7" stroke="none" stroke-width="1"/>
<rect x="369.90" y="319.98" width="6.10" height="5.42" fill="#6a0e1f" stroke="none" stroke-width="1"/>
<rect x="376.00" y="319.98" width="6.10" height="5.42" fill="#6a0e1f" stroke="none" stroke-width="1"/>
<rect x="382.10" y="319.98" width="6.10" height="5.42" fill="#6a0e1f" stroke="none" stroke-width="1"/>
<rect x="388.20" y="319.98" width="6.10" height="5.42" fill="#6a0e1f" stroke="none" stroke-width="1"/>
<rect x="339.40" y="325.40" width="6.10" height="5.42" fill="#6a0e1f" stroke="none" stroke-width="1"/>
<rect x="345.50" y="325.40" width="6.10" height="5.42" fill="#6a0e1f" stroke="none" stroke-width="1"/>
<rect x="351.60" y="325.40" width="6.10" height="5.42" fill="#6a0e1f" stroke="none" stroke-width="1"/>
<rect x="357.70" y="325.40" width="6.10" height="5.42" fill="#6a0e1f" stroke="none" stroke-width="1"/>
<rect x="363.80" y="325.40" width="6.10" height="5.42" fill="#6a0e1f" stroke="none" stroke-width="1"/>
<rect x="369.90" y="325.40" width="6.10" height="5.42" fill="#f7f7f7" stroke="none" stroke-width="1"/>
<rect x="376.00" y="325.40" width="6.10" height="5.42" fill="#6a0e1f" stroke="none" stroke-width="1"/>
<rect x="382.10" y="325.40" width="6.10" height="5.42" fill="#6a0e1f" stroke="none" stroke-width="1"/>
<rect x="388.20" y="325.40" width="6.10" height="5.42" fill="#6a0e1f" stroke="none" stroke-width="1"/>
<rect x="339.40" y="330.82" width="6.10" height="5.42" fill="#6a0e1f" stroke="none" stroke-width="1"/>
<rect x="345.50" y="330.82" width="6.10" height="5.42" fill="#6a0e1f" stroke="none" stroke-width="1"/>
<rect x="351.60" y="330.82" width="6.10" height="5.42" fill="#6a0e1f" stroke="none" stroke-width="1"/>
<rect x="357.70" y="330.82" width="6.10" height="5.42" fill="#6a0e1f" stroke="none" stroke-width="1"/>
<rect x="363.80" y="330.82" width="6.10" height="5.42" fill="#6a0e1f" stroke="none" stroke-width="1"/>
<rect x="369.90" y="330.82" width="6.10" height="5.42" fill="#6a0e1f" stroke="none" stroke-width="1"/>
<rect x="376.00" y="330.82" width="6.10" height="5.42" fill="#f7f7f7" stroke="none" stroke-width="1"/>
<rect x="382.10" y="330.82" width="6.10" height="5.42" fill="#6a0e1f" stroke="none" stroke-width="1"/>
<rect x="388.20" y="330.82" width="6.10" height="5.42" fill="#6a0e1f" stroke="none" stroke-width="1"/>
<rect x="339.40" y="336.24" width="6.10" height="5.42" fill="#6a0e1f" stroke="none" stroke-width="1"/>
<rect x="345.50" y="336.24" width="6.10" height="5.42" fill="#6a0e1f" stroke="none" stroke-width="1"/>
<rect x="351.60" y="336.24" width="6.10" height="5.42" fill="#6a0e1f" stroke="none" stroke-width="1"/>
<rect x="357.70" y="336.24" width="6.10" height="5.42" fill="#6a0e1f" stroke="none" stroke-width="1"/>
<rect x="363.80" y="336.24" width="6.10" height="5.42" fill="#6a0e1f" stroke="none" stroke-width="1"/>
<rect x="369.90" y="336.24" width="6.10" height="5.42" fill="#6a0e1f" stroke="none" stroke-width="1"/>
<rect x="376.00" y="336.24" width="6.10" height="5.42" fill="#6a0e1f" stroke="none" stroke-width="1"/>
<rect x="382.10" y="336.24" width="6.10" height="5.42" fill="#f7f7f7" stroke="none" stroke-width="1"/>
<rect x="388.20" y="336.24" width="6.10" height="5.42" fill="#6a0e1f" stroke="none" stroke-width="1"/>
<rect x="339.40" y="341.66" width="6.10" height="5.42" fill="#6a0e1f" stroke="none" stroke-width="1"/>
<rect x="345.50" y="341.66" width="6.10" height="5.42" fill="#6a0e1f" stroke="none" stroke-width="1"/>
<rect x="351.60" y="341.66" width="6.10" height="5.42" fill="#6a0e1f" stroke="none" stroke-width="1"/>
<rect x="357.70" y="341.66" width="6.10" height="5.42" fill="#6a0e1f" stroke="none" stroke-width="1"/>
<rect x="363.80" y="341.66" width="6.10" height="5.42" fill="#6a0e1f" stroke="none" stroke-width="1"/>
<rect x="369.90" y="341.66" width="6.10" height="5.42" fill="#6a0e1f" stroke="none" stroke-width="1"/>
<rect x="376.00" y="341.66" width="6.10" height="5.42" fill="#6a0e1f" stroke="none" stroke-width="1"/>
<rect x="382.10" y="341.66" width="6.10" height="5.42" fill="#6a0e1f" stroke="none" stroke-width="1"/>
<rect x="388.20" y="341.66" width="6.10" height="5.42" fill="#f7f7f7" stroke="none" stroke-width="1"/>
<rect x="339.40" y="298.30" width="6.10" height="5.42" fill="none" stroke="#8a8a8a" stroke-width="0.5" opacity="0.85"/>
<rect x="345.50" y="298.30" width="6.10" height="5.42" fill="none" stroke="#3a0610" stroke-width="0.5" opacity="0.85"/>
<rect x="351.60" y="298.30" width="6.10" height="5.42" fill="none" stroke="#3a0610" stroke-width="0.5" opacity="0.85"/>
<rect x="357.70" y="298.30" width="6.10" height="5.42" fill="none" stroke="#3a0610" stroke-width="0.5" opacity="0.85"/>
<rect x="363.80" y="298.30" width="6.10" height="5.42" fill="none" stroke="#3a0610" stroke-width="0.5" opacity="0.85"/>
<rect x="369.90" y="298.30" width="6.10" height="5.42" fill="none" stroke="#3a0610" stroke-width="0.5" opacity="0.85"/>
<rect x="376.00" y="298.30" width="6.10" height="5.42" fill="none" stroke="#3a0610" stroke-width="0.5" opacity="0.85"/>
<rect x="382.10" y="298.30" width="6.10" height="5.42" fill="none" stroke="#3a0610" stroke-width="0.5" opacity="0.85"/>
<rect x="388.20" y="298.30" width="6.10" height="5.42" fill="none" stroke="#3a0610" stroke-width="0.5" opacity="0.85"/>
<rect x="339.40" y="303.72" width="6.10" height="5.42" fill="none" stroke="#3a0610" stroke-width="0.5" opacity="0.85"/>
<rect x="345.50" y="303.72" width="6.10" height="5.42" fill="none" stroke="#8a8a8a" stroke-width="0.5" opacity="0.85"/>
<rect x="351.60" y="303.72" width="6.10" height="5.42" fill="none" stroke="#3a0610" stroke-width="0.5" opacity="0.85"/>
<rect x="357.70" y="303.72" width="6.10" height="5.42" fill="none" stroke="#3a0610" stroke-width="0.5" opacity="0.85"/>
<rect x="363.80" y="303.72" width="6.10" height="5.42" fill="none" stroke="#3a0610" stroke-width="0.5" opacity="0.85"/>
<rect x="369.90" y="303.72" width="6.10" height="5.42" fill="none" stroke="#3a0610" stroke-width="0.5" opacity="0.85"/>
<rect x="376.00" y="303.72" width="6.10" height="5.42" fill="none" stroke="#3a0610" stroke-width="0.5" opacity="0.85"/>
<rect x="382.10" y="303.72" width="6.10" height="5.42" fill="none" stroke="#3a0610" stroke-width="0.5" opacity="0.85"/>
<rect x="388.20" y="303.72" width="6.10" height="5.42" fill="none" stroke="#3a0610" stroke-width="0.5" opacity="0.85"/>
<rect x="339.40" y="309.14" width="6.10" height="5.42" fill="none" stroke="#3a0610" stroke-width="0.5" opacity="0.85"/>
<rect x="345.50" y="309.14" width="6.10" height="5.42" fill="none" stroke="#3a0610" stroke-width="0.5" opacity="0.85"/>
<rect x="351.60" y="309.14" width="6.10" height="5.42" fill="none" stroke="#8a8a8a" stroke-width="0.5" opacity="0.85"/>
<rect x="357.70" y="309.14" width="6.10" height="5.42" fill="none" stroke="#3a0610" stroke-width="0.5" opacity="0.85"/>
<rect x="363.80" y="309.14" width="6.10" height="5.42" fill="none" stroke="#3a0610" stroke-width="0.5" opacity="0.85"/>
<rect x="369.90" y="309.14" width="6.10" height="5.42" fill="none" stroke="#3a0610" stroke-width="0.5" opacity="0.85"/>
<rect x="376.00" y="309.14" width="6.10" height="5.42" fill="none" stroke="#3a0610" stroke-width="0.5" opacity="0.85"/>
<rect x="382.10" y="309.14" width="6.10" height="5.42" fill="none" stroke="#3a0610" stroke-width="0.5" opacity="0.85"/>
<rect x="388.20" y="309.14" width="6.10" height="5.42" fill="none" stroke="#3a0610" stroke-width="0.5" opacity="0.85"/>
<rect x="339.40" y="314.56" width="6.10" height="5.42" fill="none" stroke="#3a0610" stroke-width="0.5" opacity="0.85"/>
<rect x="345.50" y="314.56" width="6.10" height="5.42" fill="none" stroke="#3a0610" stroke-width="0.5" opacity="0.85"/>
<rect x="351.60" y="314.56" width="6.10" height="5.42" fill="none" stroke="#3a0610" stroke-width="0.5" opacity="0.85"/>
<rect x="357.70" y="314.56" width="6.10" height="5.42" fill="none" stroke="#8a8a8a" stroke-width="0.5" opacity="0.85"/>
<rect x="363.80" y="314.56" width="6.10" height="5.42" fill="none" stroke="#3a0610" stroke-width="0.5" opacity="0.85"/>
<rect x="369.90" y="314.56" width="6.10" height="5.42" fill="none" stroke="#3a0610" stroke-width="0.5" opacity="0.85"/>
<rect x="376.00" y="314.56" width="6.10" height="5.42" fill="none" stroke="#3a0610" stroke-width="0.5" opacity="0.85"/>
<rect x="382.10" y="314.56" width="6.10" height="5.42" fill="none" stroke="#3a0610" stroke-width="0.5" opacity="0.85"/>
<rect x="388.20" y="314.56" width="6.10" height="5.42" fill="none" stroke="#3a0610" stroke-width="0.5" opacity="0.85"/>
<rect x="339.40" y="319.98" width="6.10" height="5.42" fill="none" stroke="#3a0610" stroke-width="0.5" opacity="0.85"/>
<rect x="345.50" y="319.98" width="6.10" height="5.42" fill="none" stroke="#3a0610" stroke-width="0.5" opacity="0.85"/>
<rect x="351.60" y="319.98" width="6.10" height="5.42" fill="none" stroke="#3a0610" stroke-width="0.5" opacity="0.85"/>
<rect x="357.70" y="319.98" width="6.10" height="5.42" fill="none" stroke="#3a0610" stroke-width="0.5" opacity="0.85"/>
<rect x="363.80" y="319.98" width="6.10" height="5.42" fill="none" stroke="#8a8a8a" stroke-width="0.5" opacity="0.85"/>
<rect x="369.90" y="319.98" width="6.10" height="5.42" fill="none" stroke="#3a0610" stroke-width="0.5" opacity="0.85"/>
<rect x="376.00" y="319.98" width="6.10" height="5.42" fill="none" stroke="#3a0610" stroke-width="0.5" opacity="0.85"/>
<rect x="382.10" y="319.98" width="6.10" height="5.42" fill="none" stroke="#3a0610" stroke-width="0.5" opacity="0.85"/>
<rect x="388.20" y="319.98" width="6.10" height="5.42" fill="none" stroke="#3a0610" stroke-width="0.5" opacity="0.85"/>
<rect x="339.40" y="325.40" width="6.10" height="5.42" fill="none" stroke="#3a0610" stroke-width="0.5" opacity="0.85"/>
<rect x="345.50" y="325.40" width="6.10" height="5.42" fill="none" stroke="#3a0610" stroke-width="0.5" opacity="0.85"/>
<rect x="351.60" y="325.40" width="6.10" height="5.42" fill="none" stroke="#3a0610" stroke-width="0.5" opacity="0.85"/>
<rect x="357.70" y="325.40" width="6.10" height="5.42" fill="none" stroke="#3a0610" stroke-width="0.5" opacity="0.85"/>
<rect x="363.80" y="325.40" width="6.10" height="5.42" fill="none" stroke="#3a0610" stroke-width="0.5" opacity="0.85"/>
<rect x="369.90" y="325.40" width="6.10" height="5.42" fill="none" stroke="#8a8a8a" stroke-width="0.5" opacity="0.85"/>
<rect x="376.00" y="325.40" width="6.10" height="5.42" fill="none" stroke="#3a0610" stroke-width="0.5" opacity="0.85"/>
<rect x="382.10" y="325.40" width="6.10" height="5.42" fill="none" stroke="#3a0610" stroke-width="0.5" opacity="0.85"/>
<rect x="388.20" y="325.40" width="6.10" height="5.42" fill="none" stroke="#3a0610" stroke-width="0.5" opacity="0.85"/>
<rect x="339.40" y="330.82" width="6.10" height="5.42" fill="none" stroke="#3a0610" stroke-width="0.5" opacity="0.85"/>
<rect x="345.50" y="330.82" width="6.10" height="5.42" fill="none" stroke="#3a0610" stroke-width="0.5" opacity="0.85"/>
<rect x="351.60" y="330.82" width="6.10" height="5.42" fill="none" stroke="#3a0610" stroke-width="0.5" opacity="0.85"/>
<rect x="357.70" y="330.82" width="6.10" height="5.42" fill="none" stroke="#3a0610" stroke-width="0.5" opacity="0.85"/>
<rect x="363.80" y="330.82" width="6.10" height="5.42" fill="none" stroke="#3a0610" stroke-width="0.5" opacity="0.85"/>
<rect x="369.90" y="330.82" width="6.10" height="5.42" fill="none" stroke="#3a0610" stroke-width="0.5" opacity="0.85"/>
<rect x="376.00" y="330.82" width="6.10" height="5.42" fill="none" stroke="#8a8a8a" stroke-width="0.5" opacity="0.85"/>
<rect x="382.10" y="330.82" width="6.10" height="5.42" fill="none" stroke="#3a0610" stroke-width="0.5" opacity="0.85"/>
<rect x="388.20" y="330.82" width="6.10" height="5.42" fill="none" stroke="#3a0610" stroke-width="0.5" opacity="0.85"/>
<rect x="339.40" y="336.24" width="6.10" height="5.42" fill="none" stroke="#3a0610" stroke-width="0.5" opacity="0.85"/>
<rect x="345.50" y="336.24" width="6.10" height="5.42" fill="none" stroke="#3a0610" stroke-width="0.5" opacity="0.85"/>
<rect x="351.60" y="336.24" width="6.10" height="5.42" fill="none" stroke="#3a0610" stroke-width="0.5" opacity="0.85"/>
<rect x="357.70" y="336.24" width="6.10" height="5.42" fill="none" stroke="#3a0610" stroke-width="0.5" opacity="0.85"/>
<rect x="363.80" y="336.24" width="6.10" height="5.42" fill="none" stroke="#3a0610" stroke-width="0.5" opacity="0.85"/>
<rect x="369.90" y="336.24" width="6.10" height="5.42" fill="none" stroke="#3a0610" stroke-width="0.5" opacity="0.85"/>
<rect x="376.00" y="336.24" width="6.10" height="5.42" fill="none" stroke="#3a0610" stroke-width="0.5" opacity="0.85"/>
<rect x="382.10" y="336.24" width="6.10" height="5.42" fill="none" stroke="#8a8a8a" stroke-width="0.5" opacity="0.85"/>
<rect x="388.20" y="336.24" width="6.10" height="5.42" fill="none" stroke="#3a0610" stroke-width="0.5" opacity="0.85"/>
<rect x="339.40" y="341.66" width="6.10" height="5.42" fill="none" stroke="#3a0610" stroke-width="0.5" opacity="0.85"/>
<rect x="345.50" y="341.66" width="6.10" height="5.42" fill="none" stroke="#3a0610" stroke-width="0.5" opacity="0.85"/>
<rect x="351.60" y="341.66" width="6.10" height="5.42" fill="none" stroke="#3a0610" stroke-width="0.5" opacity="0.85"/>
<rect x="357.70" y="341.66" width="6.10" height="5.42" fill="none" stroke="#3a0610" stroke-width="0.5" opacity="0.85"/>
<rect x="363.80" y="341.66" width="6.10" height="5.42" fill="none" stroke="#3a0610" stroke-width="0.5" opacity="0.85"/>
<rect x="369.90" y="341.66" width="6.10" height="5.42" fill="none" stroke="#3a0610" stroke-width="0.5" opacity="0.85"/>
<rect x="376.00" y="341.66" width="6.10" height="5.42" fill="none" stroke="#3a0610" stroke-width="0.5" opacity="0.85"/>
<rect x="382.10" y="341.66" width="6.10" height="5.42" fill="none" stroke="#3a0610" stroke-width="0.5" opacity="0.85"/>
<rect x="388.20" y="341.66" width="6.10" height="5.42" fill="none" stroke="#8a8a8a" stroke-width="0.5" opacity="0.85"/>
<rect x="339.40" y="298.30" width="54.90" height="48.78" fill="none" stroke="#222" stroke-width="0.8"/>
<rect x="358.20" y="325.50" width="6.10" height="5.42" fill="#f6f6f5" stroke="none" stroke-width="1"/>
<rect x="364.30" y="325.50" width="6.10" height="5.42" fill="#fcd9c4" stroke="none" stroke-width="1"/>
<rect x="370.40" y="325.50" width="6.10" height="5.42" fill="#efa584" stroke="none" stroke-width="1"/>
<rect x="376.50" y="325.50" width="6.10" height="5.42" fill="#d8614e" stroke="none" stroke-width="1"/>
<rect x="382.60" y="325.50" width="6.10" height="5.42" fill="#b0202e" stroke="none" stroke-width="1"/>
<rect x="388.70" y="325.50" width="6.10" height="5.42" fill="#b0202e" stroke="none" stroke-width="1"/>
<rect x="394.80" y="325.50" width="6.10" height="5.42" fill="#6a0e1f" stroke="none" stroke-width="1"/>
<rect x="400.90" y="325.50" width="6.10" height="5.42" fill="#6a0e1f" stroke="none" stroke-width="1"/>
<rect x="407.00" y="325.50" width="6.10" height="5.42" fill="#6a0e1f" stroke="none" stroke-width="1"/>
<rect x="358.20" y="330.92" width="6.10" height="5.42" fill="#fcd9c4" stroke="none" stroke-width="1"/>
<rect x="364.30" y="330.92" width="6.10" height="5.42" fill="#f6f6f5" stroke="none" stroke-width="1"/>
<rect x="370.40" y="330.92" width="6.10" height="5.42" fill="#efa584" stroke="none" stroke-width="1"/>
<rect x="376.50" y="330.92" width="6.10" height="5.42" fill="#efa584" stroke="none" stroke-width="1"/>
<rect x="382.60" y="330.92" width="6.10" height="5.42" fill="#b0202e" stroke="none" stroke-width="1"/>
<rect x="388.70" y="330.92" width="6.10" height="5.42" fill="#b0202e" stroke="none" stroke-width="1"/>
<rect x="394.80" y="330.92" width="6.10" height="5.42" fill="#6a0e1f" stroke="none" stroke-width="1"/>
<rect x="400.90" y="330.92" width="6.10" height="5.42" fill="#6a0e1f" stroke="none" stroke-width="1"/>
<rect x="407.00" y="330.92" width="6.10" height="5.42" fill="#6a0e1f" stroke="none" stroke-width="1"/>
<rect x="358.20" y="336.34" width="6.10" height="5.42" fill="#efa584" stroke="none" stroke-width="1"/>
<rect x="364.30" y="336.34" width="6.10" height="5.42" fill="#efa584" stroke="none" stroke-width="1"/>
<rect x="370.40" y="336.34" width="6.10" height="5.42" fill="#f6f6f5" stroke="none" stroke-width="1"/>
<rect x="376.50" y="336.34" width="6.10" height="5.42" fill="#fcd9c4" stroke="none" stroke-width="1"/>
<rect x="382.60" y="336.34" width="6.10" height="5.42" fill="#efa584" stroke="none" stroke-width="1"/>
<rect x="388.70" y="336.34" width="6.10" height="5.42" fill="#d8614e" stroke="none" stroke-width="1"/>
<rect x="394.80" y="336.34" width="6.10" height="5.42" fill="#b0202e" stroke="none" stroke-width="1"/>
<rect x="400.90" y="336.34" width="6.10" height="5.42" fill="#b0202e" stroke="none" stroke-width="1"/>
<rect x="407.00" y="336.34" width="6.10" height="5.42" fill="#b0202e" stroke="none" stroke-width="1"/>
<rect x="358.20" y="341.76" width="6.10" height="5.42" fill="#d8614e" stroke="none" stroke-width="1"/>
<rect x="364.30" y="341.76" width="6.10" height="5.42" fill="#efa584" stroke="none" stroke-width="1"/>
<rect x="370.40" y="341.76" width="6.10" height="5.42" fill="#fcd9c4" stroke="none" stroke-width="1"/>
<rect x="376.50" y="341.76" width="6.10" height="5.42" fill="#f6f6f5" stroke="none" stroke-width="1"/>
<rect x="382.60" y="341.76" width="6.10" height="5.42" fill="#efa584" stroke="none" stroke-width="1"/>
<rect x="388.70" y="341.76" width="6.10" height="5.42" fill="#efa584" stroke="none" stroke-width="1"/>
<rect x="394.80" y="341.76" width="6.10" height="5.42" fill="#b0202e" stroke="none" stroke-width="1"/>
<rect x="400.90" y="341.76" width="6.10" height="5.42" fill="#b0202e" stroke="none" stroke-width="1"/>
<rect x="407.00" y="341.76" width="6.10" height="5.42" fill="#b0202e" stroke="none" stroke-width="1"/>
<rect x="358.20" y="347.18" width="6.10" height="5.42" fill="#b0202e" stroke="none" stroke-width="1"/>
<rect x="364.30" y="347.18" width="6.10" height="5.42" fill="#b0202e" stroke="none" stroke-width="1"/>
<rect x="370.40" y="347.18" width="6.10" height="5.42" fill="#efa584" stroke="none" stroke-width="1"/>
<rect x="376.50" y="347.18" width="6.10" height="5.42" fill="#efa584" stroke="none" stroke-width="1"/>
<rect x="382.60" y="347.18" width="6.10" height="5.42" fill="#f6f6f5" stroke="none" stroke-width="1"/>
<rect x="388.70" y="347.18" width="6.10" height="5.42" fill="#fcd9c4" stroke="none" stroke-width="1"/>
<rect x="394.80" y="347.18" width="6.10" height="5.42" fill="#efa584" stroke="none" stroke-width="1"/>
<rect x="400.90" y="347.18" width="6.10" height="5.42" fill="#efa584" stroke="none" stroke-width="1"/>
<rect x="407.00" y="347.18" width="6.10" height="5.42" fill="#efa584" stroke="none" stroke-width="1"/>
<rect x="358.20" y="352.60" width="6.10" height="5.42" fill="#b0202e" stroke="none" stroke-width="1"/>
<rect x="364.30" y="352.60" width="6.10" height="5.42" fill="#b0202e" stroke="none" stroke-width="1"/>
<rect x="370.40" y="352.60" width="6.10" height="5.42" fill="#d8614e" stroke="none" stroke-width="1"/>
<rect x="376.50" y="352.60" width="6.10" height="5.42" fill="#efa584" stroke="none" stroke-width="1"/>
<rect x="382.60" y="352.60" width="6.10" height="5.42" fill="#fcd9c4" stroke="none" stroke-width="1"/>
<rect x="388.70" y="352.60" width="6.10" height="5.42" fill="#f6f6f5" stroke="none" stroke-width="1"/>
<rect x="394.80" y="352.60" width="6.10" height="5.42" fill="#efa584" stroke="none" stroke-width="1"/>
<rect x="400.90" y="352.60" width="6.10" height="5.42" fill="#efa584" stroke="none" stroke-width="1"/>
<rect x="407.00" y="352.60" width="6.10" height="5.42" fill="#efa584" stroke="none" stroke-width="1"/>
<rect x="358.20" y="358.02" width="6.10" height="5.42" fill="#6a0e1f" stroke="none" stroke-width="1"/>
<rect x="364.30" y="358.02" width="6.10" height="5.42" fill="#6a0e1f" stroke="none" stroke-width="1"/>
<rect x="370.40" y="358.02" width="6.10" height="5.42" fill="#b0202e" stroke="none" stroke-width="1"/>
<rect x="376.50" y="358.02" width="6.10" height="5.42" fill="#b0202e" stroke="none" stroke-width="1"/>
<rect x="382.60" y="358.02" width="6.10" height="5.42" fill="#efa584" stroke="none" stroke-width="1"/>
<rect x="388.70" y="358.02" width="6.10" height="5.42" fill="#efa584" stroke="none" stroke-width="1"/>
<rect x="394.80" y="358.02" width="6.10" height="5.42" fill="#f6f6f5" stroke="none" stroke-width="1"/>
<rect x="400.90" y="358.02" width="6.10" height="5.42" fill="#fcd9c4" stroke="none" stroke-width="1"/>
<rect x="407.00" y="358.02" width="6.10" height="5.42" fill="#fcd9c4" stroke="none" stroke-width="1"/>
<rect x="358.20" y="363.44" width="6.10" height="5.42" fill="#6a0e1f" stroke="none" stroke-width="1"/>
<rect x="364.30" y="363.44" width="6.10" height="5.42" fill="#6a0e1f" stroke="none" stroke-width="1"/>
<rect x="370.40" y="363.44" width="6.10" height="5.42" fill="#b0202e" stroke="none" stroke-width="1"/>
<rect x="376.50" y="363.44" width="6.10" height="5.42" fill="#b0202e" stroke="none" stroke-width="1"/>
<rect x="382.60" y="363.44" width="6.10" height="5.42" fill="#efa584" stroke="none" stroke-width="1"/>
<rect x="388.70" y="363.44" width="6.10" height="5.42" fill="#efa584" stroke="none" stroke-width="1"/>
<rect x="394.80" y="363.44" width="6.10" height="5.42" fill="#fcd9c4" stroke="none" stroke-width="1"/>
<rect x="400.90" y="363.44" width="6.10" height="5.42" fill="#f6f6f5" stroke="none" stroke-width="1"/>
<rect x="407.00" y="363.44" width="6.10" height="5.42" fill="#fcd9c4" stroke="none" stroke-width="1"/>
<rect x="358.20" y="368.86" width="6.10" height="5.42" fill="#6a0e1f" stroke="none" stroke-width="1"/>
<rect x="364.30" y="368.86" width="6.10" height="5.42" fill="#6a0e1f" stroke="none" stroke-width="1"/>
<rect x="370.40" y="368.86" width="6.10" height="5.42" fill="#b0202e" stroke="none" stroke-width="1"/>
<rect x="376.50" y="368.86" width="6.10" height="5.42" fill="#b0202e" stroke="none" stroke-width="1"/>
<rect x="382.60" y="368.86" width="6.10" height="5.42" fill="#efa584" stroke="none" stroke-width="1"/>
<rect x="388.70" y="368.86" width="6.10" height="5.42" fill="#efa584" stroke="none" stroke-width="1"/>
<rect x="394.80" y="368.86" width="6.10" height="5.42" fill="#fcd9c4" stroke="none" stroke-width="1"/>
<rect x="400.90" y="368.86" width="6.10" height="5.42" fill="#fcd9c4" stroke="none" stroke-width="1"/>
<rect x="407.00" y="368.86" width="6.10" height="5.42" fill="#f6f6f5" stroke="none" stroke-width="1"/>
<rect x="358.20" y="325.50" width="6.10" height="5.42" fill="none" stroke="#6a2a2a" stroke-width="0.5" opacity="0.85"/>
<rect x="364.30" y="325.50" width="6.10" height="5.42" fill="none" stroke="#6a2a2a" stroke-width="0.5" opacity="0.85"/>
<rect x="370.40" y="325.50" width="6.10" height="5.42" fill="none" stroke="#6a2a2a" stroke-width="0.5" opacity="0.85"/>
<rect x="376.50" y="325.50" width="6.10" height="5.42" fill="none" stroke="#6a2a2a" stroke-width="0.5" opacity="0.85"/>
<rect x="382.60" y="325.50" width="6.10" height="5.42" fill="none" stroke="#6a2a2a" stroke-width="0.5" opacity="0.85"/>
<rect x="388.70" y="325.50" width="6.10" height="5.42" fill="none" stroke="#6a2a2a" stroke-width="0.5" opacity="0.85"/>
<rect x="394.80" y="325.50" width="6.10" height="5.42" fill="none" stroke="#3a0610" stroke-width="0.5" opacity="0.85"/>
<rect x="400.90" y="325.50" width="6.10" height="5.42" fill="none" stroke="#3a0610" stroke-width="0.5" opacity="0.85"/>
<rect x="407.00" y="325.50" width="6.10" height="5.42" fill="none" stroke="#3a0610" stroke-width="0.5" opacity="0.85"/>
<rect x="358.20" y="330.92" width="6.10" height="5.42" fill="none" stroke="#6a2a2a" stroke-width="0.5" opacity="0.85"/>
<rect x="364.30" y="330.92" width="6.10" height="5.42" fill="none" stroke="#6a2a2a" stroke-width="0.5" opacity="0.85"/>
<rect x="370.40" y="330.92" width="6.10" height="5.42" fill="none" stroke="#6a2a2a" stroke-width="0.5" opacity="0.85"/>
<rect x="376.50" y="330.92" width="6.10" height="5.42" fill="none" stroke="#6a2a2a" stroke-width="0.5" opacity="0.85"/>
<rect x="382.60" y="330.92" width="6.10" height="5.42" fill="none" stroke="#6a2a2a" stroke-width="0.5" opacity="0.85"/>
<rect x="388.70" y="330.92" width="6.10" height="5.42" fill="none" stroke="#6a2a2a" stroke-width="0.5" opacity="0.85"/>
<rect x="394.80" y="330.92" width="6.10" height="5.42" fill="none" stroke="#3a0610" stroke-width="0.5" opacity="0.85"/>
<rect x="400.90" y="330.92" width="6.10" height="5.42" fill="none" stroke="#3a0610" stroke-width="0.5" opacity="0.85"/>
<rect x="407.00" y="330.92" width="6.10" height="5.42" fill="none" stroke="#3a0610" stroke-width="0.5" opacity="0.85"/>
<rect x="358.20" y="336.34" width="6.10" height="5.42" fill="none" stroke="#6a2a2a" stroke-width="0.5" opacity="0.85"/>
<rect x="364.30" y="336.34" width="6.10" height="5.42" fill="none" stroke="#6a2a2a" stroke-width="0.5" opacity="0.85"/>
<rect x="370.40" y="336.34" width="6.10" height="5.42" fill="none" stroke="#6a2a2a" stroke-width="0.5" opacity="0.85"/>
<rect x="376.50" y="336.34" width="6.10" height="5.42" fill="none" stroke="#6a2a2a" stroke-width="0.5" opacity="0.85"/>
<rect x="382.60" y="336.34" width="6.10" height="5.42" fill="none" stroke="#6a2a2a" stroke-width="0.5" opacity="0.85"/>
<rect x="388.70" y="336.34" width="6.10" height="5.42" fill="none" stroke="#6a2a2a" stroke-width="0.5" opacity="0.85"/>
<rect x="394.80" y="336.34" width="6.10" height="5.42" fill="none" stroke="#6a2a2a" stroke-width="0.5" opacity="0.85"/>
<rect x="400.90" y="336.34" width="6.10" height="5.42" fill="none" stroke="#6a2a2a" stroke-width="0.5" opacity="0.85"/>
<rect x="407.00" y="336.34" width="6.10" height="5.42" fill="none" stroke="#6a2a2a" stroke-width="0.5" opacity="0.85"/>
<rect x="358.20" y="341.76" width="6.10" height="5.42" fill="none" stroke="#6a2a2a" stroke-width="0.5" opacity="0.85"/>
<rect x="364.30" y="341.76" width="6.10" height="5.42" fill="none" stroke="#6a2a2a" stroke-width="0.5" opacity="0.85"/>
<rect x="370.40" y="341.76" width="6.10" height="5.42" fill="none" stroke="#6a2a2a" stroke-width="0.5" opacity="0.85"/>
<rect x="376.50" y="341.76" width="6.10" height="5.42" fill="none" stroke="#6a2a2a" stroke-width="0.5" opacity="0.85"/>
<rect x="382.60" y="341.76" width="6.10" height="5.42" fill="none" stroke="#6a2a2a" stroke-width="0.5" opacity="0.85"/>
<rect x="388.70" y="341.76" width="6.10" height="5.42" fill="none" stroke="#6a2a2a" stroke-width="0.5" opacity="0.85"/>
<rect x="394.80" y="341.76" width="6.10" height="5.42" fill="none" stroke="#6a2a2a" stroke-width="0.5" opacity="0.85"/>
<rect x="400.90" y="341.76" width="6.10" height="5.42" fill="none" stroke="#6a2a2a" stroke-width="0.5" opacity="0.85"/>
<rect x="407.00" y="341.76" width="6.10" height="5.42" fill="none" stroke="#6a2a2a" stroke-width="0.5" opacity="0.85"/>
<rect x="358.20" y="347.18" width="6.10" height="5.42" fill="none" stroke="#6a2a2a" stroke-width="0.5" opacity="0.85"/>
<rect x="364.30" y="347.18" width="6.10" height="5.42" fill="none" stroke="#6a2a2a" stroke-width="0.5" opacity="0.85"/>
<rect x="370.40" y="347.18" width="6.10" height="5.42" fill="none" stroke="#6a2a2a" stroke-width="0.5" opacity="0.85"/>
<rect x="376.50" y="347.18" width="6.10" height="5.42" fill="none" stroke="#6a2a2a" stroke-width="0.5" opacity="0.85"/>
<rect x="382.60" y="347.18" width="6.10" height="5.42" fill="none" stroke="#6a2a2a" stroke-width="0.5" opacity="0.85"/>
<rect x="388.70" y="347.18" width="6.10" height="5.42" fill="none" stroke="#6a2a2a" stroke-width="0.5" opacity="0.85"/>
<rect x="394.80" y="347.18" width="6.10" height="5.42" fill="none" stroke="#6a2a2a" stroke-width="0.5" opacity="0.85"/>
<rect x="400.90" y="347.18" width="6.10" height="5.42" fill="none" stroke="#6a2a2a" stroke-width="0.5" opacity="0.85"/>
<rect x="407.00" y="347.18" width="6.10" height="5.42" fill="none" stroke="#6a2a2a" stroke-width="0.5" opacity="0.85"/>
<rect x="358.20" y="352.60" width="6.10" height="5.42" fill="none" stroke="#6a2a2a" stroke-width="0.5" opacity="0.85"/>
<rect x="364.30" y="352.60" width="6.10" height="5.42" fill="none" stroke="#6a2a2a" stroke-width="0.5" opacity="0.85"/>
<rect x="370.40" y="352.60" width="6.10" height="5.42" fill="none" stroke="#6a2a2a" stroke-width="0.5" opacity="0.85"/>
<rect x="376.50" y="352.60" width="6.10" height="5.42" fill="none" stroke="#6a2a2a" stroke-width="0.5" opacity="0.85"/>
<rect x="382.60" y="352.60" width="6.10" height="5.42" fill="none" stroke="#6a2a2a" stroke-width="0.5" opacity="0.85"/>
<rect x="388.70" y="352.60" width="6.10" height="5.42" fill="none" stroke="#6a2a2a" stroke-width="0.5" opacity="0.85"/>
<rect x="394.80" y="352.60" width="6.10" height="5.42" fill="none" stroke="#6a2a2a" stroke-width="0.5" opacity="0.85"/>
<rect x="400.90" y="352.60" width="6.10" height="5.42" fill="none" stroke="#6a2a2a" stroke-width="0.5" opacity="0.85"/>
<rect x="407.00" y="352.60" width="6.10" height="5.42" fill="none" stroke="#6a2a2a" stroke-width="0.5" opacity="0.85"/>
<rect x="358.20" y="358.02" width="6.10" height="5.42" fill="none" stroke="#3a0610" stroke-width="0.5" opacity="0.85"/>
<rect x="364.30" y="358.02" width="6.10" height="5.42" fill="none" stroke="#3a0610" stroke-width="0.5" opacity="0.85"/>
<rect x="370.40" y="358.02" width="6.10" height="5.42" fill="none" stroke="#6a2a2a" stroke-width="0.5" opacity="0.85"/>
<rect x="376.50" y="358.02" width="6.10" height="5.42" fill="none" stroke="#6a2a2a" stroke-width="0.5" opacity="0.85"/>
<rect x="382.60" y="358.02" width="6.10" height="5.42" fill="none" stroke="#6a2a2a" stroke-width="0.5" opacity="0.85"/>
<rect x="388.70" y="358.02" width="6.10" height="5.42" fill="none" stroke="#6a2a2a" stroke-width="0.5" opacity="0.85"/>
<rect x="394.80" y="358.02" width="6.10" height="5.42" fill="none" stroke="#6a2a2a" stroke-width="0.5" opacity="0.85"/>
<rect x="400.90" y="358.02" width="6.10" height="5.42" fill="none" stroke="#6a2a2a" stroke-width="0.5" opacity="0.85"/>
<rect x="407.00" y="358.02" width="6.10" height="5.42" fill="none" stroke="#6a2a2a" stroke-width="0.5" opacity="0.85"/>
<rect x="358.20" y="363.44" width="6.10" height="5.42" fill="none" stroke="#3a0610" stroke-width="0.5" opacity="0.85"/>
<rect x="364.30" y="363.44" width="6.10" height="5.42" fill="none" stroke="#3a0610" stroke-width="0.5" opacity="0.85"/>
<rect x="370.40" y="363.44" width="6.10" height="5.42" fill="none" stroke="#6a2a2a" stroke-width="0.5" opacity="0.85"/>
<rect x="376.50" y="363.44" width="6.10" height="5.42" fill="none" stroke="#6a2a2a" stroke-width="0.5" opacity="0.85"/>
<rect x="382.60" y="363.44" width="6.10" height="5.42" fill="none" stroke="#6a2a2a" stroke-width="0.5" opacity="0.85"/>
<rect x="388.70" y="363.44" width="6.10" height="5.42" fill="none" stroke="#6a2a2a" stroke-width="0.5" opacity="0.85"/>
<rect x="394.80" y="363.44" width="6.10" height="5.42" fill="none" stroke="#6a2a2a" stroke-width="0.5" opacity="0.85"/>
<rect x="400.90" y="363.44" width="6.10" height="5.42" fill="none" stroke="#6a2a2a" stroke-width="0.5" opacity="0.85"/>
<rect x="407.00" y="363.44" width="6.10" height="5.42" fill="none" stroke="#6a2a2a" stroke-width="0.5" opacity="0.85"/>
<rect x="358.20" y="368.86" width="6.10" height="5.42" fill="none" stroke="#3a0610" stroke-width="0.5" opacity="0.85"/>
<rect x="364.30" y="368.86" width="6.10" height="5.42" fill="none" stroke="#3a0610" stroke-width="0.5" opacity="0.85"/>
<rect x="370.40" y="368.86" width="6.10" height="5.42" fill="none" stroke="#6a2a2a" stroke-width="0.5" opacity="0.85"/>
<rect x="376.50" y="368.86" width="6.10" height="5.42" fill="none" stroke="#6a2a2a" stroke-width="0.5" opacity="0.85"/>
<rect x="382.60" y="368.86" width="6.10" height="5.42" fill="none" stroke="#6a2a2a" stroke-width="0.5" opacity="0.85"/>
<rect x="388.70" y="368.86" width="6.10" height="5.42" fill="none" stroke="#6a2a2a" stroke-width="0.5" opacity="0.85"/>
<rect x="394.80" y="368.86" width="6.10" height="5.42" fill="none" stroke="#6a2a2a" stroke-width="0.5" opacity="0.85"/>
<rect x="400.90" y="368.86" width="6.10" height="5.42" fill="none" stroke="#6a2a2a" stroke-width="0.5" opacity="0.85"/>
<rect x="407.00" y="368.86" width="6.10" height="5.42" fill="none" stroke="#6a2a2a" stroke-width="0.5" opacity="0.85"/>
<rect x="358.20" y="325.50" width="54.90" height="48.78" fill="none" stroke="#222" stroke-width="0.8"/>
<rect x="377.50" y="353.10" width="6.10" height="5.42" fill="#f7f7f7" stroke="none" stroke-width="1"/>
<line x1="380.55" y1="353.10" x2="380.55" y2="358.52" stroke="#d4d4d4" stroke-width="0.6"/>
<rect x="383.60" y="353.10" width="6.10" height="5.42" fill="#f7f7f7" stroke="none" stroke-width="1"/>
<line x1="386.65" y1="353.10" x2="386.65" y2="358.52" stroke="#d4d4d4" stroke-width="0.6"/>
<rect x="389.70" y="353.10" width="6.10" height="5.42" fill="#f7f7f7" stroke="none" stroke-width="1"/>
<line x1="392.75" y1="353.10" x2="392.75" y2="358.52" stroke="#d4d4d4" stroke-width="0.6"/>
<rect x="395.80" y="353.10" width="6.10" height="5.42" fill="#f7f7f7" stroke="none" stroke-width="1"/>
<line x1="398.85" y1="353.10" x2="398.85" y2="358.52" stroke="#d4d4d4" stroke-width="0.6"/>
<rect x="401.90" y="353.10" width="6.10" height="5.42" fill="#f7f7f7" stroke="none" stroke-width="1"/>
<line x1="404.95" y1="353.10" x2="404.95" y2="358.52" stroke="#d4d4d4" stroke-width="0.6"/>
<rect x="408.00" y="353.10" width="6.10" height="5.42" fill="#f7f7f7" stroke="none" stroke-width="1"/>
<line x1="411.05" y1="353.10" x2="411.05" y2="358.52" stroke="#d4d4d4" stroke-width="0.6"/>
<rect x="414.10" y="353.10" width="6.10" height="5.42" fill="#f7f7f7" stroke="none" stroke-width="1"/>
<line x1="417.15" y1="353.10" x2="417.15" y2="358.52" stroke="#d4d4d4" stroke-width="0.6"/>
<rect x="420.20" y="353.10" width="6.10" height="5.42" fill="#6a0e1f" stroke="none" stroke-width="1"/>
<rect x="426.30" y="353.10" width="6.10" height="5.42" fill="#6a0e1f" stroke="none" stroke-width="1"/>
<rect x="377.50" y="358.52" width="6.10" height="5.42" fill="#f7f7f7" stroke="none" stroke-width="1"/>
<line x1="380.55" y1="358.52" x2="380.55" y2="363.94" stroke="#d4d4d4" stroke-width="0.6"/>
<rect x="383.60" y="358.52" width="6.10" height="5.42" fill="#f7f7f7" stroke="none" stroke-width="1"/>
<line x1="386.65" y1="358.52" x2="386.65" y2="363.94" stroke="#d4d4d4" stroke-width="0.6"/>
<rect x="389.70" y="358.52" width="6.10" height="5.42" fill="#f7f7f7" stroke="none" stroke-width="1"/>
<line x1="392.75" y1="358.52" x2="392.75" y2="363.94" stroke="#d4d4d4" stroke-width="0.6"/>
<rect x="395.80" y="358.52" width="6.10" height="5.42" fill="#f7f7f7" stroke="none" stroke-width="1"/>
<line x1="398.85" y1="358.52" x2="398.85" y2="363.94" stroke="#d4d4d4" stroke-width="0.6"/>
<rect x="401.90" y="358.52" width="6.10" height="5.42" fill="#f7f7f7" stroke="none" stroke-width="1"/>
<line x1="404.95" y1="358.52" x2="404.95" y2="363.94" stroke="#d4d4d4" stroke-width="0.6"/>
<rect x="408.00" y="358.52" width="6.10" height="5.42" fill="#f7f7f7" stroke="none" stroke-width="1"/>
<line x1="411.05" y1="358.52" x2="411.05" y2="363.94" stroke="#d4d4d4" stroke-width="0.6"/>
<rect x="414.10" y="358.52" width="6.10" height="5.42" fill="#f7f7f7" stroke="none" stroke-width="1"/>
<line x1="417.15" y1="358.52" x2="417.15" y2="363.94" stroke="#d4d4d4" stroke-width="0.6"/>
<rect x="420.20" y="358.52" width="6.10" height="5.42" fill="#6a0e1f" stroke="none" stroke-width="1"/>
<rect x="426.30" y="358.52" width="6.10" height="5.42" fill="#6a0e1f" stroke="none" stroke-width="1"/>
<rect x="377.50" y="363.94" width="6.10" height="5.42" fill="#f7f7f7" stroke="none" stroke-width="1"/>
<line x1="380.55" y1="363.94" x2="380.55" y2="369.36" stroke="#d4d4d4" stroke-width="0.6"/>
<rect x="383.60" y="363.94" width="6.10" height="5.42" fill="#f7f7f7" stroke="none" stroke-width="1"/>
<line x1="386.65" y1="363.94" x2="386.65" y2="369.36" stroke="#d4d4d4" stroke-width="0.6"/>
<rect x="389.70" y="363.94" width="6.10" height="5.42" fill="#f7f7f7" stroke="none" stroke-width="1"/>
<line x1="392.75" y1="363.94" x2="392.75" y2="369.36" stroke="#d4d4d4" stroke-width="0.6"/>
<rect x="395.80" y="363.94" width="6.10" height="5.42" fill="#f7f7f7" stroke="none" stroke-width="1"/>
<line x1="398.85" y1="363.94" x2="398.85" y2="369.36" stroke="#d4d4d4" stroke-width="0.6"/>
<rect x="401.90" y="363.94" width="6.10" height="5.42" fill="#f7f7f7" stroke="none" stroke-width="1"/>
<line x1="404.95" y1="363.94" x2="404.95" y2="369.36" stroke="#d4d4d4" stroke-width="0.6"/>
<rect x="408.00" y="363.94" width="6.10" height="5.42" fill="#f7f7f7" stroke="none" stroke-width="1"/>
<line x1="411.05" y1="363.94" x2="411.05" y2="369.36" stroke="#d4d4d4" stroke-width="0.6"/>
<rect x="414.10" y="363.94" width="6.10" height="5.42" fill="#f7f7f7" stroke="none" stroke-width="1"/>
<line x1="417.15" y1="363.94" x2="417.15" y2="369.36" stroke="#d4d4d4" stroke-width="0.6"/>
<rect x="420.20" y="363.94" width="6.10" height="5.42" fill="#6a0e1f" stroke="none" stroke-width="1"/>
<rect x="426.30" y="363.94" width="6.10" height="5.42" fill="#6a0e1f" stroke="none" stroke-width="1"/>
<rect x="377.50" y="369.36" width="6.10" height="5.42" fill="#f7f7f7" stroke="none" stroke-width="1"/>
<line x1="380.55" y1="369.36" x2="380.55" y2="374.78" stroke="#d4d4d4" stroke-width="0.6"/>
<rect x="383.60" y="369.36" width="6.10" height="5.42" fill="#f7f7f7" stroke="none" stroke-width="1"/>
<line x1="386.65" y1="369.36" x2="386.65" y2="374.78" stroke="#d4d4d4" stroke-width="0.6"/>
<rect x="389.70" y="369.36" width="6.10" height="5.42" fill="#f7f7f7" stroke="none" stroke-width="1"/>
<line x1="392.75" y1="369.36" x2="392.75" y2="374.78" stroke="#d4d4d4" stroke-width="0.6"/>
<rect x="395.80" y="369.36" width="6.10" height="5.42" fill="#f7f7f7" stroke="none" stroke-width="1"/>
<line x1="398.85" y1="369.36" x2="398.85" y2="374.78" stroke="#d4d4d4" stroke-width="0.6"/>
<rect x="401.90" y="369.36" width="6.10" height="5.42" fill="#f7f7f7" stroke="none" stroke-width="1"/>
<line x1="404.95" y1="369.36" x2="404.95" y2="374.78" stroke="#d4d4d4" stroke-width="0.6"/>
<rect x="408.00" y="369.36" width="6.10" height="5.42" fill="#f7f7f7" stroke="none" stroke-width="1"/>
<line x1="411.05" y1="369.36" x2="411.05" y2="374.78" stroke="#d4d4d4" stroke-width="0.6"/>
<rect x="414.10" y="369.36" width="6.10" height="5.42" fill="#f7f7f7" stroke="none" stroke-width="1"/>
<line x1="417.15" y1="369.36" x2="417.15" y2="374.78" stroke="#d4d4d4" stroke-width="0.6"/>
<rect x="420.20" y="369.36" width="6.10" height="5.42" fill="#6a0e1f" stroke="none" stroke-width="1"/>
<rect x="426.30" y="369.36" width="6.10" height="5.42" fill="#6a0e1f" stroke="none" stroke-width="1"/>
<rect x="377.50" y="374.78" width="6.10" height="5.42" fill="#f7f7f7" stroke="none" stroke-width="1"/>
<line x1="380.55" y1="374.78" x2="380.55" y2="380.20" stroke="#d4d4d4" stroke-width="0.6"/>
<rect x="383.60" y="374.78" width="6.10" height="5.42" fill="#f7f7f7" stroke="none" stroke-width="1"/>
<line x1="386.65" y1="374.78" x2="386.65" y2="380.20" stroke="#d4d4d4" stroke-width="0.6"/>
<rect x="389.70" y="374.78" width="6.10" height="5.42" fill="#f7f7f7" stroke="none" stroke-width="1"/>
<line x1="392.75" y1="374.78" x2="392.75" y2="380.20" stroke="#d4d4d4" stroke-width="0.6"/>
<rect x="395.80" y="374.78" width="6.10" height="5.42" fill="#f7f7f7" stroke="none" stroke-width="1"/>
<line x1="398.85" y1="374.78" x2="398.85" y2="380.20" stroke="#d4d4d4" stroke-width="0.6"/>
<rect x="401.90" y="374.78" width="6.10" height="5.42" fill="#f7f7f7" stroke="none" stroke-width="1"/>
<line x1="404.95" y1="374.78" x2="404.95" y2="380.20" stroke="#d4d4d4" stroke-width="0.6"/>
<rect x="408.00" y="374.78" width="6.10" height="5.42" fill="#f7f7f7" stroke="none" stroke-width="1"/>
<line x1="411.05" y1="374.78" x2="411.05" y2="380.20" stroke="#d4d4d4" stroke-width="0.6"/>
<rect x="414.10" y="374.78" width="6.10" height="5.42" fill="#f7f7f7" stroke="none" stroke-width="1"/>
<line x1="417.15" y1="374.78" x2="417.15" y2="380.20" stroke="#d4d4d4" stroke-width="0.6"/>
<rect x="420.20" y="374.78" width="6.10" height="5.42" fill="#6a0e1f" stroke="none" stroke-width="1"/>
<rect x="426.30" y="374.78" width="6.10" height="5.42" fill="#6a0e1f" stroke="none" stroke-width="1"/>
<rect x="377.50" y="380.20" width="6.10" height="5.42" fill="#f7f7f7" stroke="none" stroke-width="1"/>
<line x1="380.55" y1="380.20" x2="380.55" y2="385.62" stroke="#d4d4d4" stroke-width="0.6"/>
<rect x="383.60" y="380.20" width="6.10" height="5.42" fill="#f7f7f7" stroke="none" stroke-width="1"/>
<line x1="386.65" y1="380.20" x2="386.65" y2="385.62" stroke="#d4d4d4" stroke-width="0.6"/>
<rect x="389.70" y="380.20" width="6.10" height="5.42" fill="#f7f7f7" stroke="none" stroke-width="1"/>
<line x1="392.75" y1="380.20" x2="392.75" y2="385.62" stroke="#d4d4d4" stroke-width="0.6"/>
<rect x="395.80" y="380.20" width="6.10" height="5.42" fill="#f7f7f7" stroke="none" stroke-width="1"/>
<line x1="398.85" y1="380.20" x2="398.85" y2="385.62" stroke="#d4d4d4" stroke-width="0.6"/>
<rect x="401.90" y="380.20" width="6.10" height="5.42" fill="#f7f7f7" stroke="none" stroke-width="1"/>
<line x1="404.95" y1="380.20" x2="404.95" y2="385.62" stroke="#d4d4d4" stroke-width="0.6"/>
<rect x="408.00" y="380.20" width="6.10" height="5.42" fill="#f7f7f7" stroke="none" stroke-width="1"/>
<line x1="411.05" y1="380.20" x2="411.05" y2="385.62" stroke="#d4d4d4" stroke-width="0.6"/>
<rect x="414.10" y="380.20" width="6.10" height="5.42" fill="#f7f7f7" stroke="none" stroke-width="1"/>
<line x1="417.15" y1="380.20" x2="417.15" y2="385.62" stroke="#d4d4d4" stroke-width="0.6"/>
<rect x="420.20" y="380.20" width="6.10" height="5.42" fill="#6a0e1f" stroke="none" stroke-width="1"/>
<rect x="426.30" y="380.20" width="6.10" height="5.42" fill="#6a0e1f" stroke="none" stroke-width="1"/>
<rect x="377.50" y="385.62" width="6.10" height="5.42" fill="#f7f7f7" stroke="none" stroke-width="1"/>
<line x1="380.55" y1="385.62" x2="380.55" y2="391.04" stroke="#d4d4d4" stroke-width="0.6"/>
<rect x="383.60" y="385.62" width="6.10" height="5.42" fill="#f7f7f7" stroke="none" stroke-width="1"/>
<line x1="386.65" y1="385.62" x2="386.65" y2="391.04" stroke="#d4d4d4" stroke-width="0.6"/>
<rect x="389.70" y="385.62" width="6.10" height="5.42" fill="#f7f7f7" stroke="none" stroke-width="1"/>
<line x1="392.75" y1="385.62" x2="392.75" y2="391.04" stroke="#d4d4d4" stroke-width="0.6"/>
<rect x="395.80" y="385.62" width="6.10" height="5.42" fill="#f7f7f7" stroke="none" stroke-width="1"/>
<line x1="398.85" y1="385.62" x2="398.85" y2="391.04" stroke="#d4d4d4" stroke-width="0.6"/>
<rect x="401.90" y="385.62" width="6.10" height="5.42" fill="#f7f7f7" stroke="none" stroke-width="1"/>
<line x1="404.95" y1="385.62" x2="404.95" y2="391.04" stroke="#d4d4d4" stroke-width="0.6"/>
<rect x="408.00" y="385.62" width="6.10" height="5.42" fill="#f7f7f7" stroke="none" stroke-width="1"/>
<line x1="411.05" y1="385.62" x2="411.05" y2="391.04" stroke="#d4d4d4" stroke-width="0.6"/>
<rect x="414.10" y="385.62" width="6.10" height="5.42" fill="#f7f7f7" stroke="none" stroke-width="1"/>
<line x1="417.15" y1="385.62" x2="417.15" y2="391.04" stroke="#d4d4d4" stroke-width="0.6"/>
<rect x="420.20" y="385.62" width="6.10" height="5.42" fill="#6a0e1f" stroke="none" stroke-width="1"/>
<rect x="426.30" y="385.62" width="6.10" height="5.42" fill="#6a0e1f" stroke="none" stroke-width="1"/>
<rect x="377.50" y="391.04" width="6.10" height="5.42" fill="#6a0e1f" stroke="none" stroke-width="1"/>
<rect x="383.60" y="391.04" width="6.10" height="5.42" fill="#6a0e1f" stroke="none" stroke-width="1"/>
<rect x="389.70" y="391.04" width="6.10" height="5.42" fill="#6a0e1f" stroke="none" stroke-width="1"/>
<rect x="395.80" y="391.04" width="6.10" height="5.42" fill="#6a0e1f" stroke="none" stroke-width="1"/>
<rect x="401.90" y="391.04" width="6.10" height="5.42" fill="#6a0e1f" stroke="none" stroke-width="1"/>
<rect x="408.00" y="391.04" width="6.10" height="5.42" fill="#6a0e1f" stroke="none" stroke-width="1"/>
<rect x="414.10" y="391.04" width="6.10" height="5.42" fill="#6a0e1f" stroke="none" stroke-width="1"/>
<rect x="420.20" y="391.04" width="6.10" height="5.42" fill="#6a0e1f" stroke="none" stroke-width="1"/>
<rect x="426.30" y="391.04" width="6.10" height="5.42" fill="#6a0e1f" stroke="none" stroke-width="1"/>
<rect x="377.50" y="396.46" width="6.10" height="5.42" fill="#6a0e1f" stroke="none" stroke-width="1"/>
<rect x="383.60" y="396.46" width="6.10" height="5.42" fill="#6a0e1f" stroke="none" stroke-width="1"/>
<rect x="389.70" y="396.46" width="6.10" height="5.42" fill="#6a0e1f" stroke="none" stroke-width="1"/>
<rect x="395.80" y="396.46" width="6.10" height="5.42" fill="#6a0e1f" stroke="none" stroke-width="1"/>
<rect x="401.90" y="396.46" width="6.10" height="5.42" fill="#6a0e1f" stroke="none" stroke-width="1"/>
<rect x="408.00" y="396.46" width="6.10" height="5.42" fill="#6a0e1f" stroke="none" stroke-width="1"/>
<rect x="414.10" y="396.46" width="6.10" height="5.42" fill="#6a0e1f" stroke="none" stroke-width="1"/>
<rect x="420.20" y="396.46" width="6.10" height="5.42" fill="#6a0e1f" stroke="none" stroke-width="1"/>
<rect x="426.30" y="396.46" width="6.10" height="5.42" fill="#6a0e1f" stroke="none" stroke-width="1"/>
<rect x="377.50" y="353.10" width="6.10" height="5.42" fill="none" stroke="#6e6e6e" stroke-width="0.55"/>
<rect x="383.60" y="353.10" width="6.10" height="5.42" fill="none" stroke="#6e6e6e" stroke-width="0.55"/>
<rect x="389.70" y="353.10" width="6.10" height="5.42" fill="none" stroke="#6e6e6e" stroke-width="0.55"/>
<rect x="395.80" y="353.10" width="6.10" height="5.42" fill="none" stroke="#6e6e6e" stroke-width="0.55"/>
<rect x="401.90" y="353.10" width="6.10" height="5.42" fill="none" stroke="#6e6e6e" stroke-width="0.55"/>
<rect x="408.00" y="353.10" width="6.10" height="5.42" fill="none" stroke="#6e6e6e" stroke-width="0.55"/>
<rect x="414.10" y="353.10" width="6.10" height="5.42" fill="none" stroke="#6e6e6e" stroke-width="0.55"/>
<rect x="420.20" y="353.10" width="6.10" height="5.42" fill="none" stroke="#3a0610" stroke-width="0.55"/>
<rect x="426.30" y="353.10" width="6.10" height="5.42" fill="none" stroke="#3a0610" stroke-width="0.55"/>
<rect x="377.50" y="358.52" width="6.10" height="5.42" fill="none" stroke="#6e6e6e" stroke-width="0.55"/>
<rect x="383.60" y="358.52" width="6.10" height="5.42" fill="none" stroke="#6e6e6e" stroke-width="0.55"/>
<rect x="389.70" y="358.52" width="6.10" height="5.42" fill="none" stroke="#6e6e6e" stroke-width="0.55"/>
<rect x="395.80" y="358.52" width="6.10" height="5.42" fill="none" stroke="#6e6e6e" stroke-width="0.55"/>
<rect x="401.90" y="358.52" width="6.10" height="5.42" fill="none" stroke="#6e6e6e" stroke-width="0.55"/>
<rect x="408.00" y="358.52" width="6.10" height="5.42" fill="none" stroke="#6e6e6e" stroke-width="0.55"/>
<rect x="414.10" y="358.52" width="6.10" height="5.42" fill="none" stroke="#6e6e6e" stroke-width="0.55"/>
<rect x="420.20" y="358.52" width="6.10" height="5.42" fill="none" stroke="#3a0610" stroke-width="0.55"/>
<rect x="426.30" y="358.52" width="6.10" height="5.42" fill="none" stroke="#3a0610" stroke-width="0.55"/>
<rect x="377.50" y="363.94" width="6.10" height="5.42" fill="none" stroke="#6e6e6e" stroke-width="0.55"/>
<rect x="383.60" y="363.94" width="6.10" height="5.42" fill="none" stroke="#6e6e6e" stroke-width="0.55"/>
<rect x="389.70" y="363.94" width="6.10" height="5.42" fill="none" stroke="#6e6e6e" stroke-width="0.55"/>
<rect x="395.80" y="363.94" width="6.10" height="5.42" fill="none" stroke="#6e6e6e" stroke-width="0.55"/>
<rect x="401.90" y="363.94" width="6.10" height="5.42" fill="none" stroke="#6e6e6e" stroke-width="0.55"/>
<rect x="408.00" y="363.94" width="6.10" height="5.42" fill="none" stroke="#6e6e6e" stroke-width="0.55"/>
<rect x="414.10" y="363.94" width="6.10" height="5.42" fill="none" stroke="#6e6e6e" stroke-width="0.55"/>
<rect x="420.20" y="363.94" width="6.10" height="5.42" fill="none" stroke="#3a0610" stroke-width="0.55"/>
<rect x="426.30" y="363.94" width="6.10" height="5.42" fill="none" stroke="#3a0610" stroke-width="0.55"/>
<rect x="377.50" y="369.36" width="6.10" height="5.42" fill="none" stroke="#6e6e6e" stroke-width="0.55"/>
<rect x="383.60" y="369.36" width="6.10" height="5.42" fill="none" stroke="#6e6e6e" stroke-width="0.55"/>
<rect x="389.70" y="369.36" width="6.10" height="5.42" fill="none" stroke="#6e6e6e" stroke-width="0.55"/>
<rect x="395.80" y="369.36" width="6.10" height="5.42" fill="none" stroke="#6e6e6e" stroke-width="0.55"/>
<rect x="401.90" y="369.36" width="6.10" height="5.42" fill="none" stroke="#6e6e6e" stroke-width="0.55"/>
<rect x="408.00" y="369.36" width="6.10" height="5.42" fill="none" stroke="#6e6e6e" stroke-width="0.55"/>
<rect x="414.10" y="369.36" width="6.10" height="5.42" fill="none" stroke="#6e6e6e" stroke-width="0.55"/>
<rect x="420.20" y="369.36" width="6.10" height="5.42" fill="none" stroke="#3a0610" stroke-width="0.55"/>
<rect x="426.30" y="369.36" width="6.10" height="5.42" fill="none" stroke="#3a0610" stroke-width="0.55"/>
<rect x="377.50" y="374.78" width="6.10" height="5.42" fill="none" stroke="#6e6e6e" stroke-width="0.55"/>
<rect x="383.60" y="374.78" width="6.10" height="5.42" fill="none" stroke="#6e6e6e" stroke-width="0.55"/>
<rect x="389.70" y="374.78" width="6.10" height="5.42" fill="none" stroke="#6e6e6e" stroke-width="0.55"/>
<rect x="395.80" y="374.78" width="6.10" height="5.42" fill="none" stroke="#6e6e6e" stroke-width="0.55"/>
<rect x="401.90" y="374.78" width="6.10" height="5.42" fill="none" stroke="#6e6e6e" stroke-width="0.55"/>
<rect x="408.00" y="374.78" width="6.10" height="5.42" fill="none" stroke="#6e6e6e" stroke-width="0.55"/>
<rect x="414.10" y="374.78" width="6.10" height="5.42" fill="none" stroke="#6e6e6e" stroke-width="0.55"/>
<rect x="420.20" y="374.78" width="6.10" height="5.42" fill="none" stroke="#3a0610" stroke-width="0.55"/>
<rect x="426.30" y="374.78" width="6.10" height="5.42" fill="none" stroke="#3a0610" stroke-width="0.55"/>
<rect x="377.50" y="380.20" width="6.10" height="5.42" fill="none" stroke="#6e6e6e" stroke-width="0.55"/>
<rect x="383.60" y="380.20" width="6.10" height="5.42" fill="none" stroke="#6e6e6e" stroke-width="0.55"/>
<rect x="389.70" y="380.20" width="6.10" height="5.42" fill="none" stroke="#6e6e6e" stroke-width="0.55"/>
<rect x="395.80" y="380.20" width="6.10" height="5.42" fill="none" stroke="#6e6e6e" stroke-width="0.55"/>
<rect x="401.90" y="380.20" width="6.10" height="5.42" fill="none" stroke="#6e6e6e" stroke-width="0.55"/>
<rect x="408.00" y="380.20" width="6.10" height="5.42" fill="none" stroke="#6e6e6e" stroke-width="0.55"/>
<rect x="414.10" y="380.20" width="6.10" height="5.42" fill="none" stroke="#6e6e6e" stroke-width="0.55"/>
<rect x="420.20" y="380.20" width="6.10" height="5.42" fill="none" stroke="#3a0610" stroke-width="0.55"/>
<rect x="426.30" y="380.20" width="6.10" height="5.42" fill="none" stroke="#3a0610" stroke-width="0.55"/>
<rect x="377.50" y="385.62" width="6.10" height="5.42" fill="none" stroke="#6e6e6e" stroke-width="0.55"/>
<rect x="383.60" y="385.62" width="6.10" height="5.42" fill="none" stroke="#6e6e6e" stroke-width="0.55"/>
<rect x="389.70" y="385.62" width="6.10" height="5.42" fill="none" stroke="#6e6e6e" stroke-width="0.55"/>
<rect x="395.80" y="385.62" width="6.10" height="5.42" fill="none" stroke="#6e6e6e" stroke-width="0.55"/>
<rect x="401.90" y="385.62" width="6.10" height="5.42" fill="none" stroke="#6e6e6e" stroke-width="0.55"/>
<rect x="408.00" y="385.62" width="6.10" height="5.42" fill="none" stroke="#6e6e6e" stroke-width="0.55"/>
<rect x="414.10" y="385.62" width="6.10" height="5.42" fill="none" stroke="#6e6e6e" stroke-width="0.55"/>
<rect x="420.20" y="385.62" width="6.10" height="5.42" fill="none" stroke="#3a0610" stroke-width="0.55"/>
<rect x="426.30" y="385.62" width="6.10" height="5.42" fill="none" stroke="#3a0610" stroke-width="0.55"/>
<rect x="377.50" y="391.04" width="6.10" height="5.42" fill="none" stroke="#3a0610" stroke-width="0.55"/>
<rect x="383.60" y="391.04" width="6.10" height="5.42" fill="none" stroke="#3a0610" stroke-width="0.55"/>
<rect x="389.70" y="391.04" width="6.10" height="5.42" fill="none" stroke="#3a0610" stroke-width="0.55"/>
<rect x="395.80" y="391.04" width="6.10" height="5.42" fill="none" stroke="#3a0610" stroke-width="0.55"/>
<rect x="401.90" y="391.04" width="6.10" height="5.42" fill="none" stroke="#3a0610" stroke-width="0.55"/>
<rect x="408.00" y="391.04" width="6.10" height="5.42" fill="none" stroke="#3a0610" stroke-width="0.55"/>
<rect x="414.10" y="391.04" width="6.10" height="5.42" fill="none" stroke="#3a0610" stroke-width="0.55"/>
<rect x="420.20" y="391.04" width="6.10" height="5.42" fill="none" stroke="#3a0610" stroke-width="0.55"/>
<rect x="426.30" y="391.04" width="6.10" height="5.42" fill="none" stroke="#3a0610" stroke-width="0.55"/>
<rect x="377.50" y="396.46" width="6.10" height="5.42" fill="none" stroke="#3a0610" stroke-width="0.55"/>
<rect x="383.60" y="396.46" width="6.10" height="5.42" fill="none" stroke="#3a0610" stroke-width="0.55"/>
<rect x="389.70" y="396.46" width="6.10" height="5.42" fill="none" stroke="#3a0610" stroke-width="0.55"/>
<rect x="395.80" y="396.46" width="6.10" height="5.42" fill="none" stroke="#3a0610" stroke-width="0.55"/>
<rect x="401.90" y="396.46" width="6.10" height="5.42" fill="none" stroke="#3a0610" stroke-width="0.55"/>
<rect x="408.00" y="396.46" width="6.10" height="5.42" fill="none" stroke="#3a0610" stroke-width="0.55"/>
<rect x="414.10" y="396.46" width="6.10" height="5.42" fill="none" stroke="#3a0610" stroke-width="0.55"/>
<rect x="420.20" y="396.46" width="6.10" height="5.42" fill="none" stroke="#3a0610" stroke-width="0.55"/>
<rect x="426.30" y="396.46" width="6.10" height="5.42" fill="none" stroke="#3a0610" stroke-width="0.55"/>
<rect x="377.50" y="353.10" width="54.90" height="48.78" fill="none" stroke="#222" stroke-width="0.8"/>
<rect x="396.00" y="380.30" width="6.10" height="5.42" fill="#f7f7f7" stroke="none" stroke-width="1"/>
<line x1="399.05" y1="380.30" x2="399.05" y2="385.72" stroke="#d4d4d4" stroke-width="0.6"/>
<rect x="402.10" y="380.30" width="6.10" height="5.42" fill="#f7f7f7" stroke="none" stroke-width="1"/>
<line x1="405.15" y1="380.30" x2="405.15" y2="385.72" stroke="#d4d4d4" stroke-width="0.6"/>
<rect x="408.20" y="380.30" width="6.10" height="5.42" fill="#f7f7f7" stroke="none" stroke-width="1"/>
<line x1="411.25" y1="380.30" x2="411.25" y2="385.72" stroke="#d4d4d4" stroke-width="0.6"/>
<rect x="414.30" y="380.30" width="6.10" height="5.42" fill="#f7f7f7" stroke="none" stroke-width="1"/>
<line x1="417.35" y1="380.30" x2="417.35" y2="385.72" stroke="#d4d4d4" stroke-width="0.6"/>
<rect x="420.40" y="380.30" width="6.10" height="5.42" fill="#f7f7f7" stroke="none" stroke-width="1"/>
<line x1="423.45" y1="380.30" x2="423.45" y2="385.72" stroke="#d4d4d4" stroke-width="0.6"/>
<rect x="426.50" y="380.30" width="6.10" height="5.42" fill="#f7f7f7" stroke="none" stroke-width="1"/>
<line x1="429.55" y1="380.30" x2="429.55" y2="385.72" stroke="#d4d4d4" stroke-width="0.6"/>
<rect x="432.60" y="380.30" width="6.10" height="5.42" fill="#f7f7f7" stroke="none" stroke-width="1"/>
<line x1="435.65" y1="380.30" x2="435.65" y2="385.72" stroke="#d4d4d4" stroke-width="0.6"/>
<rect x="438.70" y="380.30" width="6.10" height="5.42" fill="#f7f7f7" stroke="none" stroke-width="1"/>
<line x1="441.75" y1="380.30" x2="441.75" y2="385.72" stroke="#d4d4d4" stroke-width="0.6"/>
<rect x="444.80" y="380.30" width="6.10" height="5.42" fill="#6a0e1f" stroke="none" stroke-width="1"/>
<rect x="396.00" y="385.72" width="6.10" height="5.42" fill="#f7f7f7" stroke="none" stroke-width="1"/>
<line x1="399.05" y1="385.72" x2="399.05" y2="391.14" stroke="#d4d4d4" stroke-width="0.6"/>
<rect x="402.10" y="385.72" width="6.10" height="5.42" fill="#f7f7f7" stroke="none" stroke-width="1"/>
<line x1="405.15" y1="385.72" x2="405.15" y2="391.14" stroke="#d4d4d4" stroke-width="0.6"/>
<rect x="408.20" y="385.72" width="6.10" height="5.42" fill="#f7f7f7" stroke="none" stroke-width="1"/>
<line x1="411.25" y1="385.72" x2="411.25" y2="391.14" stroke="#d4d4d4" stroke-width="0.6"/>
<rect x="414.30" y="385.72" width="6.10" height="5.42" fill="#f7f7f7" stroke="none" stroke-width="1"/>
<line x1="417.35" y1="385.72" x2="417.35" y2="391.14" stroke="#d4d4d4" stroke-width="0.6"/>
<rect x="420.40" y="385.72" width="6.10" height="5.42" fill="#f7f7f7" stroke="none" stroke-width="1"/>
<line x1="423.45" y1="385.72" x2="423.45" y2="391.14" stroke="#d4d4d4" stroke-width="0.6"/>
<rect x="426.50" y="385.72" width="6.10" height="5.42" fill="#f7f7f7" stroke="none" stroke-width="1"/>
<line x1="429.55" y1="385.72" x2="429.55" y2="391.14" stroke="#d4d4d4" stroke-width="0.6"/>
<rect x="432.60" y="385.72" width="6.10" height="5.42" fill="#f7f7f7" stroke="none" stroke-width="1"/>
<line x1="435.65" y1="385.72" x2="435.65" y2="391.14" stroke="#d4d4d4" stroke-width="0.6"/>
<rect x="438.70" y="385.72" width="6.10" height="5.42" fill="#f7f7f7" stroke="none" stroke-width="1"/>
<line x1="441.75" y1="385.72" x2="441.75" y2="391.14" stroke="#d4d4d4" stroke-width="0.6"/>
<rect x="444.80" y="385.72" width="6.10" height="5.42" fill="#6a0e1f" stroke="none" stroke-width="1"/>
<rect x="396.00" y="391.14" width="6.10" height="5.42" fill="#f7f7f7" stroke="none" stroke-width="1"/>
<line x1="399.05" y1="391.14" x2="399.05" y2="396.56" stroke="#d4d4d4" stroke-width="0.6"/>
<rect x="402.10" y="391.14" width="6.10" height="5.42" fill="#f7f7f7" stroke="none" stroke-width="1"/>
<line x1="405.15" y1="391.14" x2="405.15" y2="396.56" stroke="#d4d4d4" stroke-width="0.6"/>
<rect x="408.20" y="391.14" width="6.10" height="5.42" fill="#f7f7f7" stroke="none" stroke-width="1"/>
<line x1="411.25" y1="391.14" x2="411.25" y2="396.56" stroke="#d4d4d4" stroke-width="0.6"/>
<rect x="414.30" y="391.14" width="6.10" height="5.42" fill="#f7f7f7" stroke="none" stroke-width="1"/>
<line x1="417.35" y1="391.14" x2="417.35" y2="396.56" stroke="#d4d4d4" stroke-width="0.6"/>
<rect x="420.40" y="391.14" width="6.10" height="5.42" fill="#f7f7f7" stroke="none" stroke-width="1"/>
<line x1="423.45" y1="391.14" x2="423.45" y2="396.56" stroke="#d4d4d4" stroke-width="0.6"/>
<rect x="426.50" y="391.14" width="6.10" height="5.42" fill="#f7f7f7" stroke="none" stroke-width="1"/>
<line x1="429.55" y1="391.14" x2="429.55" y2="396.56" stroke="#d4d4d4" stroke-width="0.6"/>
<rect x="432.60" y="391.14" width="6.10" height="5.42" fill="#f7f7f7" stroke="none" stroke-width="1"/>
<line x1="435.65" y1="391.14" x2="435.65" y2="396.56" stroke="#d4d4d4" stroke-width="0.6"/>
<rect x="438.70" y="391.14" width="6.10" height="5.42" fill="#f7f7f7" stroke="none" stroke-width="1"/>
<line x1="441.75" y1="391.14" x2="441.75" y2="396.56" stroke="#d4d4d4" stroke-width="0.6"/>
<rect x="444.80" y="391.14" width="6.10" height="5.42" fill="#6a0e1f" stroke="none" stroke-width="1"/>
<rect x="396.00" y="396.56" width="6.10" height="5.42" fill="#f7f7f7" stroke="none" stroke-width="1"/>
<line x1="399.05" y1="396.56" x2="399.05" y2="401.98" stroke="#d4d4d4" stroke-width="0.6"/>
<rect x="402.10" y="396.56" width="6.10" height="5.42" fill="#f7f7f7" stroke="none" stroke-width="1"/>
<line x1="405.15" y1="396.56" x2="405.15" y2="401.98" stroke="#d4d4d4" stroke-width="0.6"/>
<rect x="408.20" y="396.56" width="6.10" height="5.42" fill="#f7f7f7" stroke="none" stroke-width="1"/>
<line x1="411.25" y1="396.56" x2="411.25" y2="401.98" stroke="#d4d4d4" stroke-width="0.6"/>
<rect x="414.30" y="396.56" width="6.10" height="5.42" fill="#f7f7f7" stroke="none" stroke-width="1"/>
<line x1="417.35" y1="396.56" x2="417.35" y2="401.98" stroke="#d4d4d4" stroke-width="0.6"/>
<rect x="420.40" y="396.56" width="6.10" height="5.42" fill="#f7f7f7" stroke="none" stroke-width="1"/>
<line x1="423.45" y1="396.56" x2="423.45" y2="401.98" stroke="#d4d4d4" stroke-width="0.6"/>
<rect x="426.50" y="396.56" width="6.10" height="5.42" fill="#f7f7f7" stroke="none" stroke-width="1"/>
<line x1="429.55" y1="396.56" x2="429.55" y2="401.98" stroke="#d4d4d4" stroke-width="0.6"/>
<rect x="432.60" y="396.56" width="6.10" height="5.42" fill="#f7f7f7" stroke="none" stroke-width="1"/>
<line x1="435.65" y1="396.56" x2="435.65" y2="401.98" stroke="#d4d4d4" stroke-width="0.6"/>
<rect x="438.70" y="396.56" width="6.10" height="5.42" fill="#f7f7f7" stroke="none" stroke-width="1"/>
<line x1="441.75" y1="396.56" x2="441.75" y2="401.98" stroke="#d4d4d4" stroke-width="0.6"/>
<rect x="444.80" y="396.56" width="6.10" height="5.42" fill="#6a0e1f" stroke="none" stroke-width="1"/>
<rect x="396.00" y="401.98" width="6.10" height="5.42" fill="#f7f7f7" stroke="none" stroke-width="1"/>
<line x1="399.05" y1="401.98" x2="399.05" y2="407.40" stroke="#d4d4d4" stroke-width="0.6"/>
<rect x="402.10" y="401.98" width="6.10" height="5.42" fill="#f7f7f7" stroke="none" stroke-width="1"/>
<line x1="405.15" y1="401.98" x2="405.15" y2="407.40" stroke="#d4d4d4" stroke-width="0.6"/>
<rect x="408.20" y="401.98" width="6.10" height="5.42" fill="#f7f7f7" stroke="none" stroke-width="1"/>
<line x1="411.25" y1="401.98" x2="411.25" y2="407.40" stroke="#d4d4d4" stroke-width="0.6"/>
<rect x="414.30" y="401.98" width="6.10" height="5.42" fill="#f7f7f7" stroke="none" stroke-width="1"/>
<line x1="417.35" y1="401.98" x2="417.35" y2="407.40" stroke="#d4d4d4" stroke-width="0.6"/>
<rect x="420.40" y="401.98" width="6.10" height="5.42" fill="#f7f7f7" stroke="none" stroke-width="1"/>
<line x1="423.45" y1="401.98" x2="423.45" y2="407.40" stroke="#d4d4d4" stroke-width="0.6"/>
<rect x="426.50" y="401.98" width="6.10" height="5.42" fill="#f7f7f7" stroke="none" stroke-width="1"/>
<line x1="429.55" y1="401.98" x2="429.55" y2="407.40" stroke="#d4d4d4" stroke-width="0.6"/>
<rect x="432.60" y="401.98" width="6.10" height="5.42" fill="#f7f7f7" stroke="none" stroke-width="1"/>
<line x1="435.65" y1="401.98" x2="435.65" y2="407.40" stroke="#d4d4d4" stroke-width="0.6"/>
<rect x="438.70" y="401.98" width="6.10" height="5.42" fill="#f7f7f7" stroke="none" stroke-width="1"/>
<line x1="441.75" y1="401.98" x2="441.75" y2="407.40" stroke="#d4d4d4" stroke-width="0.6"/>
<rect x="444.80" y="401.98" width="6.10" height="5.42" fill="#6a0e1f" stroke="none" stroke-width="1"/>
<rect x="396.00" y="407.40" width="6.10" height="5.42" fill="#f7f7f7" stroke="none" stroke-width="1"/>
<line x1="399.05" y1="407.40" x2="399.05" y2="412.82" stroke="#d4d4d4" stroke-width="0.6"/>
<rect x="402.10" y="407.40" width="6.10" height="5.42" fill="#f7f7f7" stroke="none" stroke-width="1"/>
<line x1="405.15" y1="407.40" x2="405.15" y2="412.82" stroke="#d4d4d4" stroke-width="0.6"/>
<rect x="408.20" y="407.40" width="6.10" height="5.42" fill="#f7f7f7" stroke="none" stroke-width="1"/>
<line x1="411.25" y1="407.40" x2="411.25" y2="412.82" stroke="#d4d4d4" stroke-width="0.6"/>
<rect x="414.30" y="407.40" width="6.10" height="5.42" fill="#f7f7f7" stroke="none" stroke-width="1"/>
<line x1="417.35" y1="407.40" x2="417.35" y2="412.82" stroke="#d4d4d4" stroke-width="0.6"/>
<rect x="420.40" y="407.40" width="6.10" height="5.42" fill="#f7f7f7" stroke="none" stroke-width="1"/>
<line x1="423.45" y1="407.40" x2="423.45" y2="412.82" stroke="#d4d4d4" stroke-width="0.6"/>
<rect x="426.50" y="407.40" width="6.10" height="5.42" fill="#f7f7f7" stroke="none" stroke-width="1"/>
<line x1="429.55" y1="407.40" x2="429.55" y2="412.82" stroke="#d4d4d4" stroke-width="0.6"/>
<rect x="432.60" y="407.40" width="6.10" height="5.42" fill="#f7f7f7" stroke="none" stroke-width="1"/>
<line x1="435.65" y1="407.40" x2="435.65" y2="412.82" stroke="#d4d4d4" stroke-width="0.6"/>
<rect x="438.70" y="407.40" width="6.10" height="5.42" fill="#f7f7f7" stroke="none" stroke-width="1"/>
<line x1="441.75" y1="407.40" x2="441.75" y2="412.82" stroke="#d4d4d4" stroke-width="0.6"/>
<rect x="444.80" y="407.40" width="6.10" height="5.42" fill="#6a0e1f" stroke="none" stroke-width="1"/>
<rect x="396.00" y="412.82" width="6.10" height="5.42" fill="#f7f7f7" stroke="none" stroke-width="1"/>
<line x1="399.05" y1="412.82" x2="399.05" y2="418.24" stroke="#d4d4d4" stroke-width="0.6"/>
<rect x="402.10" y="412.82" width="6.10" height="5.42" fill="#f7f7f7" stroke="none" stroke-width="1"/>
<line x1="405.15" y1="412.82" x2="405.15" y2="418.24" stroke="#d4d4d4" stroke-width="0.6"/>
<rect x="408.20" y="412.82" width="6.10" height="5.42" fill="#f7f7f7" stroke="none" stroke-width="1"/>
<line x1="411.25" y1="412.82" x2="411.25" y2="418.24" stroke="#d4d4d4" stroke-width="0.6"/>
<rect x="414.30" y="412.82" width="6.10" height="5.42" fill="#f7f7f7" stroke="none" stroke-width="1"/>
<line x1="417.35" y1="412.82" x2="417.35" y2="418.24" stroke="#d4d4d4" stroke-width="0.6"/>
<rect x="420.40" y="412.82" width="6.10" height="5.42" fill="#f7f7f7" stroke="none" stroke-width="1"/>
<line x1="423.45" y1="412.82" x2="423.45" y2="418.24" stroke="#d4d4d4" stroke-width="0.6"/>
<rect x="426.50" y="412.82" width="6.10" height="5.42" fill="#f7f7f7" stroke="none" stroke-width="1"/>
<line x1="429.55" y1="412.82" x2="429.55" y2="418.24" stroke="#d4d4d4" stroke-width="0.6"/>
<rect x="432.60" y="412.82" width="6.10" height="5.42" fill="#f7f7f7" stroke="none" stroke-width="1"/>
<line x1="435.65" y1="412.82" x2="435.65" y2="418.24" stroke="#d4d4d4" stroke-width="0.6"/>
<rect x="438.70" y="412.82" width="6.10" height="5.42" fill="#f7f7f7" stroke="none" stroke-width="1"/>
<line x1="441.75" y1="412.82" x2="441.75" y2="418.24" stroke="#d4d4d4" stroke-width="0.6"/>
<rect x="444.80" y="412.82" width="6.10" height="5.42" fill="#6a0e1f" stroke="none" stroke-width="1"/>
<rect x="396.00" y="418.24" width="6.10" height="5.42" fill="#f7f7f7" stroke="none" stroke-width="1"/>
<line x1="399.05" y1="418.24" x2="399.05" y2="423.66" stroke="#d4d4d4" stroke-width="0.6"/>
<rect x="402.10" y="418.24" width="6.10" height="5.42" fill="#f7f7f7" stroke="none" stroke-width="1"/>
<line x1="405.15" y1="418.24" x2="405.15" y2="423.66" stroke="#d4d4d4" stroke-width="0.6"/>
<rect x="408.20" y="418.24" width="6.10" height="5.42" fill="#f7f7f7" stroke="none" stroke-width="1"/>
<line x1="411.25" y1="418.24" x2="411.25" y2="423.66" stroke="#d4d4d4" stroke-width="0.6"/>
<rect x="414.30" y="418.24" width="6.10" height="5.42" fill="#f7f7f7" stroke="none" stroke-width="1"/>
<line x1="417.35" y1="418.24" x2="417.35" y2="423.66" stroke="#d4d4d4" stroke-width="0.6"/>
<rect x="420.40" y="418.24" width="6.10" height="5.42" fill="#f7f7f7" stroke="none" stroke-width="1"/>
<line x1="423.45" y1="418.24" x2="423.45" y2="423.66" stroke="#d4d4d4" stroke-width="0.6"/>
<rect x="426.50" y="418.24" width="6.10" height="5.42" fill="#f7f7f7" stroke="none" stroke-width="1"/>
<line x1="429.55" y1="418.24" x2="429.55" y2="423.66" stroke="#d4d4d4" stroke-width="0.6"/>
<rect x="432.60" y="418.24" width="6.10" height="5.42" fill="#f7f7f7" stroke="none" stroke-width="1"/>
<line x1="435.65" y1="418.24" x2="435.65" y2="423.66" stroke="#d4d4d4" stroke-width="0.6"/>
<rect x="438.70" y="418.24" width="6.10" height="5.42" fill="#f7f7f7" stroke="none" stroke-width="1"/>
<line x1="441.75" y1="418.24" x2="441.75" y2="423.66" stroke="#d4d4d4" stroke-width="0.6"/>
<rect x="444.80" y="418.24" width="6.10" height="5.42" fill="#6a0e1f" stroke="none" stroke-width="1"/>
<rect x="396.00" y="423.66" width="6.10" height="5.42" fill="#6a0e1f" stroke="none" stroke-width="1"/>
<rect x="402.10" y="423.66" width="6.10" height="5.42" fill="#6a0e1f" stroke="none" stroke-width="1"/>
<rect x="408.20" y="423.66" width="6.10" height="5.42" fill="#6a0e1f" stroke="none" stroke-width="1"/>
<rect x="414.30" y="423.66" width="6.10" height="5.42" fill="#6a0e1f" stroke="none" stroke-width="1"/>
<rect x="420.40" y="423.66" width="6.10" height="5.42" fill="#6a0e1f" stroke="none" stroke-width="1"/>
<rect x="426.50" y="423.66" width="6.10" height="5.42" fill="#6a0e1f" stroke="none" stroke-width="1"/>
<rect x="432.60" y="423.66" width="6.10" height="5.42" fill="#6a0e1f" stroke="none" stroke-width="1"/>
<rect x="438.70" y="423.66" width="6.10" height="5.42" fill="#6a0e1f" stroke="none" stroke-width="1"/>
<rect x="444.80" y="423.66" width="6.10" height="5.42" fill="#f7f7f7" stroke="none" stroke-width="1"/>
<line x1="447.85" y1="423.66" x2="447.85" y2="429.08" stroke="#d4d4d4" stroke-width="0.6"/>
<rect x="396.00" y="380.30" width="6.10" height="5.42" fill="none" stroke="#6e6e6e" stroke-width="0.55"/>
<rect x="402.10" y="380.30" width="6.10" height="5.42" fill="none" stroke="#6e6e6e" stroke-width="0.55"/>
<rect x="408.20" y="380.30" width="6.10" height="5.42" fill="none" stroke="#6e6e6e" stroke-width="0.55"/>
<rect x="414.30" y="380.30" width="6.10" height="5.42" fill="none" stroke="#6e6e6e" stroke-width="0.55"/>
<rect x="420.40" y="380.30" width="6.10" height="5.42" fill="none" stroke="#6e6e6e" stroke-width="0.55"/>
<rect x="426.50" y="380.30" width="6.10" height="5.42" fill="none" stroke="#6e6e6e" stroke-width="0.55"/>
<rect x="432.60" y="380.30" width="6.10" height="5.42" fill="none" stroke="#6e6e6e" stroke-width="0.55"/>
<rect x="438.70" y="380.30" width="6.10" height="5.42" fill="none" stroke="#6e6e6e" stroke-width="0.55"/>
<rect x="444.80" y="380.30" width="6.10" height="5.42" fill="none" stroke="#3a0610" stroke-width="0.55"/>
<rect x="396.00" y="385.72" width="6.10" height="5.42" fill="none" stroke="#6e6e6e" stroke-width="0.55"/>
<rect x="402.10" y="385.72" width="6.10" height="5.42" fill="none" stroke="#6e6e6e" stroke-width="0.55"/>
<rect x="408.20" y="385.72" width="6.10" height="5.42" fill="none" stroke="#6e6e6e" stroke-width="0.55"/>
<rect x="414.30" y="385.72" width="6.10" height="5.42" fill="none" stroke="#6e6e6e" stroke-width="0.55"/>
<rect x="420.40" y="385.72" width="6.10" height="5.42" fill="none" stroke="#6e6e6e" stroke-width="0.55"/>
<rect x="426.50" y="385.72" width="6.10" height="5.42" fill="none" stroke="#6e6e6e" stroke-width="0.55"/>
<rect x="432.60" y="385.72" width="6.10" height="5.42" fill="none" stroke="#6e6e6e" stroke-width="0.55"/>
<rect x="438.70" y="385.72" width="6.10" height="5.42" fill="none" stroke="#6e6e6e" stroke-width="0.55"/>
<rect x="444.80" y="385.72" width="6.10" height="5.42" fill="none" stroke="#3a0610" stroke-width="0.55"/>
<rect x="396.00" y="391.14" width="6.10" height="5.42" fill="none" stroke="#6e6e6e" stroke-width="0.55"/>
<rect x="402.10" y="391.14" width="6.10" height="5.42" fill="none" stroke="#6e6e6e" stroke-width="0.55"/>
<rect x="408.20" y="391.14" width="6.10" height="5.42" fill="none" stroke="#6e6e6e" stroke-width="0.55"/>
<rect x="414.30" y="391.14" width="6.10" height="5.42" fill="none" stroke="#6e6e6e" stroke-width="0.55"/>
<rect x="420.40" y="391.14" width="6.10" height="5.42" fill="none" stroke="#6e6e6e" stroke-width="0.55"/>
<rect x="426.50" y="391.14" width="6.10" height="5.42" fill="none" stroke="#6e6e6e" stroke-width="0.55"/>
<rect x="432.60" y="391.14" width="6.10" height="5.42" fill="none" stroke="#6e6e6e" stroke-width="0.55"/>
<rect x="438.70" y="391.14" width="6.10" height="5.42" fill="none" stroke="#6e6e6e" stroke-width="0.55"/>
<rect x="444.80" y="391.14" width="6.10" height="5.42" fill="none" stroke="#3a0610" stroke-width="0.55"/>
<rect x="396.00" y="396.56" width="6.10" height="5.42" fill="none" stroke="#6e6e6e" stroke-width="0.55"/>
<rect x="402.10" y="396.56" width="6.10" height="5.42" fill="none" stroke="#6e6e6e" stroke-width="0.55"/>
<rect x="408.20" y="396.56" width="6.10" height="5.42" fill="none" stroke="#6e6e6e" stroke-width="0.55"/>
<rect x="414.30" y="396.56" width="6.10" height="5.42" fill="none" stroke="#6e6e6e" stroke-width="0.55"/>
<rect x="420.40" y="396.56" width="6.10" height="5.42" fill="none" stroke="#6e6e6e" stroke-width="0.55"/>
<rect x="426.50" y="396.56" width="6.10" height="5.42" fill="none" stroke="#6e6e6e" stroke-width="0.55"/>
<rect x="432.60" y="396.56" width="6.10" height="5.42" fill="none" stroke="#6e6e6e" stroke-width="0.55"/>
<rect x="438.70" y="396.56" width="6.10" height="5.42" fill="none" stroke="#6e6e6e" stroke-width="0.55"/>
<rect x="444.80" y="396.56" width="6.10" height="5.42" fill="none" stroke="#3a0610" stroke-width="0.55"/>
<rect x="396.00" y="401.98" width="6.10" height="5.42" fill="none" stroke="#6e6e6e" stroke-width="0.55"/>
<rect x="402.10" y="401.98" width="6.10" height="5.42" fill="none" stroke="#6e6e6e" stroke-width="0.55"/>
<rect x="408.20" y="401.98" width="6.10" height="5.42" fill="none" stroke="#6e6e6e" stroke-width="0.55"/>
<rect x="414.30" y="401.98" width="6.10" height="5.42" fill="none" stroke="#6e6e6e" stroke-width="0.55"/>
<rect x="420.40" y="401.98" width="6.10" height="5.42" fill="none" stroke="#6e6e6e" stroke-width="0.55"/>
<rect x="426.50" y="401.98" width="6.10" height="5.42" fill="none" stroke="#6e6e6e" stroke-width="0.55"/>
<rect x="432.60" y="401.98" width="6.10" height="5.42" fill="none" stroke="#6e6e6e" stroke-width="0.55"/>
<rect x="438.70" y="401.98" width="6.10" height="5.42" fill="none" stroke="#6e6e6e" stroke-width="0.55"/>
<rect x="444.80" y="401.98" width="6.10" height="5.42" fill="none" stroke="#3a0610" stroke-width="0.55"/>
<rect x="396.00" y="407.40" width="6.10" height="5.42" fill="none" stroke="#6e6e6e" stroke-width="0.55"/>
<rect x="402.10" y="407.40" width="6.10" height="5.42" fill="none" stroke="#6e6e6e" stroke-width="0.55"/>
<rect x="408.20" y="407.40" width="6.10" height="5.42" fill="none" stroke="#6e6e6e" stroke-width="0.55"/>
<rect x="414.30" y="407.40" width="6.10" height="5.42" fill="none" stroke="#6e6e6e" stroke-width="0.55"/>
<rect x="420.40" y="407.40" width="6.10" height="5.42" fill="none" stroke="#6e6e6e" stroke-width="0.55"/>
<rect x="426.50" y="407.40" width="6.10" height="5.42" fill="none" stroke="#6e6e6e" stroke-width="0.55"/>
<rect x="432.60" y="407.40" width="6.10" height="5.42" fill="none" stroke="#6e6e6e" stroke-width="0.55"/>
<rect x="438.70" y="407.40" width="6.10" height="5.42" fill="none" stroke="#6e6e6e" stroke-width="0.55"/>
<rect x="444.80" y="407.40" width="6.10" height="5.42" fill="none" stroke="#3a0610" stroke-width="0.55"/>
<rect x="396.00" y="412.82" width="6.10" height="5.42" fill="none" stroke="#6e6e6e" stroke-width="0.55"/>
<rect x="402.10" y="412.82" width="6.10" height="5.42" fill="none" stroke="#6e6e6e" stroke-width="0.55"/>
<rect x="408.20" y="412.82" width="6.10" height="5.42" fill="none" stroke="#6e6e6e" stroke-width="0.55"/>
<rect x="414.30" y="412.82" width="6.10" height="5.42" fill="none" stroke="#6e6e6e" stroke-width="0.55"/>
<rect x="420.40" y="412.82" width="6.10" height="5.42" fill="none" stroke="#6e6e6e" stroke-width="0.55"/>
<rect x="426.50" y="412.82" width="6.10" height="5.42" fill="none" stroke="#6e6e6e" stroke-width="0.55"/>
<rect x="432.60" y="412.82" width="6.10" height="5.42" fill="none" stroke="#6e6e6e" stroke-width="0.55"/>
<rect x="438.70" y="412.82" width="6.10" height="5.42" fill="none" stroke="#6e6e6e" stroke-width="0.55"/>
<rect x="444.80" y="412.82" width="6.10" height="5.42" fill="none" stroke="#3a0610" stroke-width="0.55"/>
<rect x="396.00" y="418.24" width="6.10" height="5.42" fill="none" stroke="#6e6e6e" stroke-width="0.55"/>
<rect x="402.10" y="418.24" width="6.10" height="5.42" fill="none" stroke="#6e6e6e" stroke-width="0.55"/>
<rect x="408.20" y="418.24" width="6.10" height="5.42" fill="none" stroke="#6e6e6e" stroke-width="0.55"/>
<rect x="414.30" y="418.24" width="6.10" height="5.42" fill="none" stroke="#6e6e6e" stroke-width="0.55"/>
<rect x="420.40" y="418.24" width="6.10" height="5.42" fill="none" stroke="#6e6e6e" stroke-width="0.55"/>
<rect x="426.50" y="418.24" width="6.10" height="5.42" fill="none" stroke="#6e6e6e" stroke-width="0.55"/>
<rect x="432.60" y="418.24" width="6.10" height="5.42" fill="none" stroke="#6e6e6e" stroke-width="0.55"/>
<rect x="438.70" y="418.24" width="6.10" height="5.42" fill="none" stroke="#6e6e6e" stroke-width="0.55"/>
<rect x="444.80" y="418.24" width="6.10" height="5.42" fill="none" stroke="#3a0610" stroke-width="0.55"/>
<rect x="396.00" y="423.66" width="6.10" height="5.42" fill="none" stroke="#3a0610" stroke-width="0.55"/>
<rect x="402.10" y="423.66" width="6.10" height="5.42" fill="none" stroke="#3a0610" stroke-width="0.55"/>
<rect x="408.20" y="423.66" width="6.10" height="5.42" fill="none" stroke="#3a0610" stroke-width="0.55"/>
<rect x="414.30" y="423.66" width="6.10" height="5.42" fill="none" stroke="#3a0610" stroke-width="0.55"/>
<rect x="420.40" y="423.66" width="6.10" height="5.42" fill="none" stroke="#3a0610" stroke-width="0.55"/>
<rect x="426.50" y="423.66" width="6.10" height="5.42" fill="none" stroke="#3a0610" stroke-width="0.55"/>
<rect x="432.60" y="423.66" width="6.10" height="5.42" fill="none" stroke="#3a0610" stroke-width="0.55"/>
<rect x="438.70" y="423.66" width="6.10" height="5.42" fill="none" stroke="#3a0610" stroke-width="0.55"/>
<rect x="444.80" y="423.66" width="6.10" height="5.42" fill="none" stroke="#6e6e6e" stroke-width="0.55"/>
<rect x="396.00" y="380.30" width="54.90" height="48.78" fill="none" stroke="#222" stroke-width="0.8"/>
<text x="397.60" y="315.80" font-size="8.6" font-weight="bold" fill="#000" textLength="32.80" lengthAdjust="spacingAndGlyphs">Intercept</text>
<text x="418.40" y="344.50" font-size="8.6" font-weight="bold" fill="#000" textLength="17.60" lengthAdjust="spacingAndGlyphs">Time</text>
<text x="436.00" y="372.80" font-size="8.6" font-weight="bold" fill="#000" textLength="22.60" lengthAdjust="spacingAndGlyphs">Shock</text>
<text x="452.40" y="407.10" font-size="8.6" font-weight="bold" fill="#000" textLength="17.60" lengthAdjust="spacingAndGlyphs">REM</text>
<text x="319.20" y="335.20" font-size="10.0" font-weight="bold" fill="#000" textLength="5.60" lengthAdjust="spacingAndGlyphs">β</text>
<text x="325.80" y="337.00" font-size="5.8" font-weight="bold" fill="#000">1</text>
<text x="328.20" y="335.20" font-size="10.0" font-weight="bold" fill="#000" textLength="7.00" lengthAdjust="spacingAndGlyphs">×</text>
<text x="340.40" y="362.60" font-size="10.0" font-weight="bold" fill="#000" textLength="5.60" lengthAdjust="spacingAndGlyphs">β</text>
<text x="347.00" y="364.40" font-size="5.8" font-weight="bold" fill="#000">2</text>
<text x="349.40" y="362.60" font-size="10.0" font-weight="bold" fill="#000" textLength="7.00" lengthAdjust="spacingAndGlyphs">×</text>
<text x="358.60" y="390.00" font-size="10.0" font-weight="bold" fill="#000" textLength="5.60" lengthAdjust="spacingAndGlyphs">β</text>
<text x="365.20" y="391.80" font-size="5.8" font-weight="bold" fill="#000">3</text>
<text x="367.60" y="390.00" font-size="10.0" font-weight="bold" fill="#000" textLength="7.00" lengthAdjust="spacingAndGlyphs">×</text>
<text x="377.60" y="417.30" font-size="10.0" font-weight="bold" fill="#000" textLength="5.60" lengthAdjust="spacingAndGlyphs">β</text>
<text x="384.20" y="419.10" font-size="5.8" font-weight="bold" fill="#000">4</text>
<text x="386.60" y="417.30" font-size="10.0" font-weight="bold" fill="#000" textLength="7.00" lengthAdjust="spacingAndGlyphs">×</text>
</svg>
</body></html>
